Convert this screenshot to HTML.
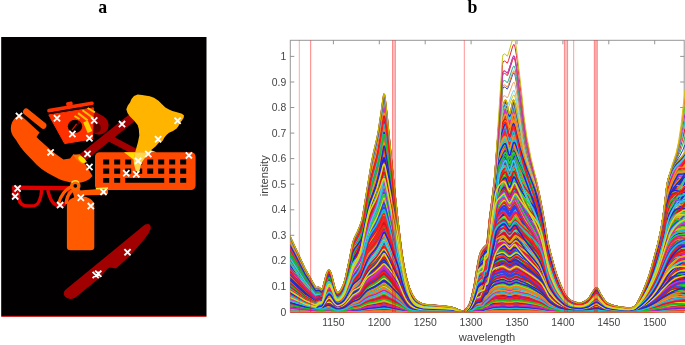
<!DOCTYPE html>
<html lang="en"><head><meta charset="utf-8"><title>Figure</title>
<style>
html,body{margin:0;padding:0;background:#fff;}
body{width:685px;height:345px;overflow:hidden;position:relative;}
svg{position:absolute;left:0;top:0;display:block;}
.tk{font-family:"Liberation Sans",Arial,sans-serif;font-size:10.4px;fill:#454545;}
.lb{font-family:"Liberation Sans",Arial,sans-serif;font-size:11.2px;fill:#404040;}
.pn{font-family:"Liberation Serif","Times New Roman",serif;font-weight:bold;font-size:17.8px;fill:#000;}
</style></head><body>
<svg width="685" height="345" viewBox="0 0 685 345">
<defs><clipPath id="axclip"><rect x="290.3" y="40.3" width="394.7" height="272.2"/></clipPath>
<clipPath id="pclip"><rect x="1.2" y="37" width="205.3" height="279"/></clipPath>
<path id="s0" d="M289,0L289,-78 305,-43.3 315.5,-24.6 316,-24.4 318.5,-24.8 319.5,-24.2 321,-22.8 321.5,-22.5 322,-22.6 322.5,-23.4 323,-24.9 326.5,-38.1 328,-41.3 328.5,-42 329,-42.2 329.5,-41.8 330,-41 331,-38.9 334.5,-25.4 335.5,-22.5 336.5,-20.3 337,-19.5 337.5,-19.2 338,-19.3 339.5,-20.4 341,-22.3 342,-24.1 343.5,-27.6 344.5,-30.5 345.5,-34.3 349.5,-52.7 352,-65.7 353,-70 354.5,-74.3 357.5,-80.4 360,-86.4 361.5,-90.7 362.5,-94.8 371.5,-149.4 373,-157 377,-174.2 378.5,-181.8 381.5,-201.9 383,-213.3 383.5,-216.4 384,-218.1 384.5,-217.7 385,-215 387,-197.5 392.5,-142.4 398,-90.5 401,-64.6 403,-50.9 405,-39.9 407,-31.6 409.5,-23.6 412,-17.9 413.5,-15.3 415,-13.1 416,-12 417.5,-10.8 419.5,-9.6 421.5,-8.5 424,-7.7 427,-7.3 445,-5.7 450.5,-5 454,-4 462,-0.7 463.5,-0.6 464.5,-1 466.5,-3 469,-6.7 470,-9 471.5,-14 474.5,-27 477.5,-45.8 479,-54.3 480,-58.5 481,-60.8 482,-62.4 484,-65.1 486.5,-67.4 487.5,-69 488,-71.8 489.5,-89.9 490.5,-99.5 494.5,-132.9 498.5,-183.5 499.5,-191.3 501,-199.3 504,-209.8 505,-211.8 505.5,-212.1 506,-211.8 506.5,-210.3 509,-198.9 509.5,-198.1 510,-198.5 511,-202.2 512.5,-209.8 513,-211.5 513.5,-212.1 514,-211.6 515,-208.2 516.5,-200.4 520,-184.4 523.5,-170.8 527,-159.1 535,-135.6 537,-128.4 539.5,-117.1 542,-104.2 544.5,-90.3 547.5,-71.6 550.5,-59 554.5,-44.3 557,-36.3 560.5,-27.4 563.5,-20.7 565,-17.8 566,-16.4 568.5,-13.6 570.5,-11.8 572,-10.9 575,-9.8 577.5,-9.2 580,-8.9 581.5,-9.1 584.5,-10.4 588.5,-13.2 589.5,-14.6 592,-18.9 594.5,-22.6 595.5,-23.8 596.5,-24.4 597,-24.3 598,-23.1 600.5,-18 604.5,-11.7 606,-9.9 607.5,-8.9 609.5,-7.9 612,-6.9 618,-5.4 626,-4.2 629.5,-4 631.5,-4.2 634.5,-5.2 635.5,-6.1 637,-8.4 641,-16.3 644,-23 647,-30.7 649.5,-38.1 652,-46.5 657.5,-67 661,-82.8 662.5,-91.9 664,-102.6 667,-127.7 668,-132.4 669.5,-137.4 672,-143.5 674.5,-147.6 676.5,-150.1 679.5,-152.8 681.5,-155 683.5,-157.5 685,-159.8L685,0Z"/>
<path id="l0" d="M289,-78 305,-43.3 315.5,-24.6 316,-24.4 318.5,-24.8 319.5,-24.2 321,-22.8 321.5,-22.5 322,-22.6 322.5,-23.4 323,-24.9 326.5,-38.1 328,-41.3 328.5,-42 329,-42.2 329.5,-41.8 330,-41 331,-38.9 334.5,-25.4 335.5,-22.5 336.5,-20.3 337,-19.5 337.5,-19.2 338,-19.3 339.5,-20.4 341,-22.3 342,-24.1 343.5,-27.6 344.5,-30.5 345.5,-34.3 349.5,-52.7 352,-65.7 353,-70 354.5,-74.3 357.5,-80.4 360,-86.4 361.5,-90.7 362.5,-94.8 371.5,-149.4 373,-157 377,-174.2 378.5,-181.8 381.5,-201.9 383,-213.3 383.5,-216.4 384,-218.1 384.5,-217.7 385,-215 387,-197.5 392.5,-142.4 398,-90.5 401,-64.6 403,-50.9 405,-39.9 407,-31.6 409.5,-23.6 412,-17.9 413.5,-15.3 415,-13.1 416,-12 417.5,-10.8 419.5,-9.6 421.5,-8.5 424,-7.7 427,-7.3 445,-5.7 450.5,-5 454,-4 462,-0.7 463.5,-0.6 464.5,-1 466.5,-3 469,-6.7 470,-9 471.5,-14 474.5,-27 477.5,-45.8 479,-54.3 480,-58.5 481,-60.8 482,-62.4 484,-65.1 486.5,-67.4 487.5,-69 488,-71.8 489.5,-89.9 490.5,-99.5 494.5,-132.9 498.5,-183.5 499.5,-191.3 501,-199.3 504,-209.8 505,-211.8 505.5,-212.1 506,-211.8 506.5,-210.3 509,-198.9 509.5,-198.1 510,-198.5 511,-202.2 512.5,-209.8 513,-211.5 513.5,-212.1 514,-211.6 515,-208.2 516.5,-200.4 520,-184.4 523.5,-170.8 527,-159.1 535,-135.6 537,-128.4 539.5,-117.1 542,-104.2 544.5,-90.3 547.5,-71.6 550.5,-59 554.5,-44.3 557,-36.3 560.5,-27.4 563.5,-20.7 565,-17.8 566,-16.4 568.5,-13.6 570.5,-11.8 572,-10.9 575,-9.8 577.5,-9.2 580,-8.9 581.5,-9.1 584.5,-10.4 588.5,-13.2 589.5,-14.6 592,-18.9 594.5,-22.6 595.5,-23.8 596.5,-24.4 597,-24.3 598,-23.1 600.5,-18 604.5,-11.7 606,-9.9 607.5,-8.9 609.5,-7.9 612,-6.9 618,-5.4 626,-4.2 629.5,-4 631.5,-4.2 634.5,-5.2 635.5,-6.1 637,-8.4 641,-16.3 644,-23 647,-30.7 649.5,-38.1 652,-46.5 657.5,-67 661,-82.8 662.5,-91.9 664,-102.6 667,-127.7 668,-132.4 669.5,-137.4 672,-143.5 674.5,-147.6 676.5,-150.1 679.5,-152.8 681.5,-155 683.5,-157.5 685,-159.8" fill="none" stroke-width="1.45" vector-effect="non-scaling-stroke"/>
<path id="s1" d="M289,0L289,-78 305,-43.3 315.5,-24.6 316,-24.4 318.5,-24.8 319.5,-24.2 321,-22.8 321.5,-22.5 322,-22.6 322.5,-23.4 323,-24.9 326.5,-38.1 328,-41.3 328.5,-42 329,-42.2 329.5,-41.8 330,-41 331,-38.9 334.5,-25.4 335.5,-22.5 336.5,-20.3 337,-19.5 337.5,-19.2 338,-19.3 339.5,-20.4 341,-22.3 342,-24.1 343.5,-27.6 344.5,-30.5 345.5,-34.3 349.5,-52.7 352,-65.7 353,-70 354.5,-74.3 357.5,-80.4 360,-86.4 361.5,-90.7 362.5,-94.8 371.5,-149.4 373,-157 377,-174.2 378.5,-181.8 381.5,-201.9 383,-213.3 383.5,-216.4 384,-218.1 384.5,-217.7 385,-215 387,-197.5 392.5,-142.4 398,-90.5 401,-64.6 403,-50.9 405,-39.9 407,-31.6 409.5,-23.6 412,-17.9 413.5,-15.3 415,-13.1 416,-12 417.5,-10.8 419.5,-9.6 421.5,-8.5 424,-7.7 427,-7.3 445,-5.7 450.5,-5 454,-4 462,-0.7 463.5,-0.6 464.5,-1 466.5,-3 469,-6.7 470,-9 471.5,-14 474.5,-27 477.5,-45.8 479,-54.3 480,-58.5 481,-60.8 482,-62.4 484,-65.1 486.5,-67.4 487.5,-69 488,-71.8 489.5,-89.9 490.5,-99.5 494.5,-132.9 498.5,-183.5 499.5,-191.3 501,-199.3 504,-209.8 505,-211.8 505.5,-212.1 506,-211.8 506.5,-210.3 509,-198.9 509.5,-198.1 510,-198.5 511,-202.2 512.5,-209.8 513,-211.5 513.5,-212.1 514,-211.6 515,-208.2 516.5,-200.4 520,-184.4 523.5,-170.8 527,-159.1 535,-135.6 537,-128.4 539.5,-117.1 542,-104.2 544.5,-90.3 547.5,-71.6 550.5,-59 554.5,-44.3 557,-36.3 560.5,-27.4 563.5,-20.7 565,-17.8 566,-16.4 568.5,-13.6 570.5,-11.8 572,-10.9 575,-9.8 577.5,-9.2 580,-8.9 581.5,-9.1 584.5,-10.4 588.5,-13.2 589.5,-14.6 592,-18.9 594.5,-22.6 595.5,-23.8 596.5,-24.4 597,-24.3 598,-23.1 600.5,-18 604.5,-11.7 606,-9.9 607.5,-8.9 609.5,-7.9 612,-6.9 618,-5.4 626,-4.2 629.5,-4 631.5,-4.2 634.5,-5.2 635.5,-6.1 637,-8.4 641,-16.3 644,-23 647,-30.7 649.5,-38.1 652,-46.5 657.5,-67 661,-82.8 662.5,-91.9 664,-102.6 667,-127.7 668,-132.4 669.5,-137.4 672,-143.5 674.5,-147.6 676.5,-150.1 679.5,-152.8 681.5,-155 683.5,-157.5 685,-159.8L685,0Z"/>
<path id="l1" d="M289,-78 305,-43.3 315.5,-24.6 316,-24.4 318.5,-24.8 319.5,-24.2 321,-22.8 321.5,-22.5 322,-22.6 322.5,-23.4 323,-24.9 326.5,-38.1 328,-41.3 328.5,-42 329,-42.2 329.5,-41.8 330,-41 331,-38.9 334.5,-25.4 335.5,-22.5 336.5,-20.3 337,-19.5 337.5,-19.2 338,-19.3 339.5,-20.4 341,-22.3 342,-24.1 343.5,-27.6 344.5,-30.5 345.5,-34.3 349.5,-52.7 352,-65.7 353,-70 354.5,-74.3 357.5,-80.4 360,-86.4 361.5,-90.7 362.5,-94.8 371.5,-149.4 373,-157 377,-174.2 378.5,-181.8 381.5,-201.9 383,-213.3 383.5,-216.4 384,-218.1 384.5,-217.7 385,-215 387,-197.5 392.5,-142.4 398,-90.5 401,-64.6 403,-50.9 405,-39.9 407,-31.6 409.5,-23.6 412,-17.9 413.5,-15.3 415,-13.1 416,-12 417.5,-10.8 419.5,-9.6 421.5,-8.5 424,-7.7 427,-7.3 445,-5.7 450.5,-5 454,-4 462,-0.7 463.5,-0.6 464.5,-1 466.5,-3 469,-6.7 470,-9 471.5,-14 474.5,-27 477.5,-45.8 479,-54.3 480,-58.5 481,-60.8 482,-62.4 484,-65.1 486.5,-67.4 487.5,-69 488,-71.8 489.5,-89.9 490.5,-99.5 494.5,-132.9 498.5,-183.5 499.5,-191.3 501,-199.3 504,-209.8 505,-211.8 505.5,-212.1 506,-211.8 506.5,-210.3 509,-198.9 509.5,-198.1 510,-198.5 511,-202.2 512.5,-209.8 513,-211.5 513.5,-212.1 514,-211.6 515,-208.2 516.5,-200.4 520,-184.4 523.5,-170.8 527,-159.1 535,-135.6 537,-128.4 539.5,-117.1 542,-104.2 544.5,-90.3 547.5,-71.6 550.5,-59 554.5,-44.3 557,-36.3 560.5,-27.4 563.5,-20.7 565,-17.8 566,-16.4 568.5,-13.6 570.5,-11.8 572,-10.9 575,-9.8 577.5,-9.2 580,-8.9 581.5,-9.1 584.5,-10.4 588.5,-13.2 589.5,-14.6 592,-18.9 594.5,-22.6 595.5,-23.8 596.5,-24.4 597,-24.3 598,-23.1 600.5,-18 604.5,-11.7 606,-9.9 607.5,-8.9 609.5,-7.9 612,-6.9 618,-5.4 626,-4.2 629.5,-4 631.5,-4.2 634.5,-5.2 635.5,-6.1 637,-8.4 641,-16.3 644,-23 647,-30.7 649.5,-38.1 652,-46.5 657.5,-67 661,-82.8 662.5,-91.9 664,-102.6 667,-127.7 668,-132.4 669.5,-137.4 672,-143.5 674.5,-147.6 676.5,-150.1 679.5,-152.8 681.5,-155 683.5,-157.5 685,-159.8" fill="none" stroke-width="1.45" vector-effect="non-scaling-stroke"/>
<path id="s2" d="M289,0L289,-78 305,-43.3 315.5,-24.6 316,-24.4 318.5,-24.8 319.5,-24.2 321,-22.8 321.5,-22.5 322,-22.6 322.5,-23.4 323,-24.9 326.5,-38.1 328,-41.3 328.5,-42 329,-42.2 329.5,-41.8 330,-41 331,-38.9 334.5,-25.4 335.5,-22.5 336.5,-20.3 337,-19.5 337.5,-19.2 338,-19.3 339.5,-20.4 341,-22.3 342,-24.1 343.5,-27.6 344.5,-30.5 345.5,-34.3 349.5,-52.7 352,-65.7 353,-70 354.5,-74.3 357.5,-80.4 360,-86.4 361.5,-90.7 362.5,-94.8 371.5,-149.4 373,-157 377,-174.2 378.5,-181.8 381.5,-201.9 383,-213.3 383.5,-216.4 384,-218.1 384.5,-217.7 385,-215 387,-197.5 392.5,-142.4 398,-90.5 401,-64.6 403,-50.9 405,-39.9 407,-31.6 409.5,-23.6 412,-17.9 413.5,-15.3 415,-13.1 416,-12 417.5,-10.8 419.5,-9.6 421.5,-8.5 424,-7.7 427,-7.3 445,-5.7 450.5,-5 454,-4 462,-0.7 463.5,-0.6 464.5,-1 466.5,-3 469,-6.7 470,-9 471.5,-14 474.5,-27 477.5,-45.8 479,-54.3 480,-58.5 481,-60.8 482,-62.4 484,-65.1 486.5,-67.4 487.5,-69 488,-71.8 489.5,-89.9 490.5,-99.5 494.5,-132.9 498.5,-183.5 499.5,-191.3 501,-199.3 504,-209.8 505,-211.8 505.5,-212.1 506,-211.8 506.5,-210.3 509,-198.9 509.5,-198.1 510,-198.5 511,-202.2 512.5,-209.8 513,-211.5 513.5,-212.1 514,-211.6 515,-208.2 516.5,-200.4 520,-184.4 523.5,-170.8 527,-159.1 535,-135.6 537,-128.4 539.5,-117.1 542,-104.2 544.5,-90.3 547.5,-71.6 550.5,-59 554.5,-44.3 557,-36.3 560.5,-27.4 563.5,-20.7 565,-17.8 566,-16.4 568.5,-13.6 570.5,-11.8 572,-10.9 575,-9.8 577.5,-9.2 580,-8.9 581.5,-9.1 584.5,-10.4 588.5,-13.2 589.5,-14.6 592,-18.9 594.5,-22.6 595.5,-23.8 596.5,-24.4 597,-24.3 598,-23.1 600.5,-18 604.5,-11.7 606,-9.9 607.5,-8.9 609.5,-7.9 612,-6.9 618,-5.4 626,-4.2 629.5,-4 631.5,-4.2 634.5,-5.2 635.5,-6.1 637,-8.4 641,-16.3 644,-23 647,-30.7 649.5,-38.1 652,-46.5 657.5,-67 661,-82.8 662.5,-91.9 664,-102.6 667,-127.7 668,-132.4 669.5,-137.4 672,-143.5 674.5,-147.6 676.5,-150.1 679.5,-152.8 681.5,-155 683.5,-157.5 685,-159.8L685,0Z"/>
<path id="l2" d="M289,-78 305,-43.3 315.5,-24.6 316,-24.4 318.5,-24.8 319.5,-24.2 321,-22.8 321.5,-22.5 322,-22.6 322.5,-23.4 323,-24.9 326.5,-38.1 328,-41.3 328.5,-42 329,-42.2 329.5,-41.8 330,-41 331,-38.9 334.5,-25.4 335.5,-22.5 336.5,-20.3 337,-19.5 337.5,-19.2 338,-19.3 339.5,-20.4 341,-22.3 342,-24.1 343.5,-27.6 344.5,-30.5 345.5,-34.3 349.5,-52.7 352,-65.7 353,-70 354.5,-74.3 357.5,-80.4 360,-86.4 361.5,-90.7 362.5,-94.8 371.5,-149.4 373,-157 377,-174.2 378.5,-181.8 381.5,-201.9 383,-213.3 383.5,-216.4 384,-218.1 384.5,-217.7 385,-215 387,-197.5 392.5,-142.4 398,-90.5 401,-64.6 403,-50.9 405,-39.9 407,-31.6 409.5,-23.6 412,-17.9 413.5,-15.3 415,-13.1 416,-12 417.5,-10.8 419.5,-9.6 421.5,-8.5 424,-7.7 427,-7.3 445,-5.7 450.5,-5 454,-4 462,-0.7 463.5,-0.6 464.5,-1 466.5,-3 469,-6.7 470,-9 471.5,-14 474.5,-27 477.5,-45.8 479,-54.3 480,-58.5 481,-60.8 482,-62.4 484,-65.1 486.5,-67.4 487.5,-69 488,-71.8 489.5,-89.9 490.5,-99.5 494.5,-132.9 498.5,-183.5 499.5,-191.3 501,-199.3 504,-209.8 505,-211.8 505.5,-212.1 506,-211.8 506.5,-210.3 509,-198.9 509.5,-198.1 510,-198.5 511,-202.2 512.5,-209.8 513,-211.5 513.5,-212.1 514,-211.6 515,-208.2 516.5,-200.4 520,-184.4 523.5,-170.8 527,-159.1 535,-135.6 537,-128.4 539.5,-117.1 542,-104.2 544.5,-90.3 547.5,-71.6 550.5,-59 554.5,-44.3 557,-36.3 560.5,-27.4 563.5,-20.7 565,-17.8 566,-16.4 568.5,-13.6 570.5,-11.8 572,-10.9 575,-9.8 577.5,-9.2 580,-8.9 581.5,-9.1 584.5,-10.4 588.5,-13.2 589.5,-14.6 592,-18.9 594.5,-22.6 595.5,-23.8 596.5,-24.4 597,-24.3 598,-23.1 600.5,-18 604.5,-11.7 606,-9.9 607.5,-8.9 609.5,-7.9 612,-6.9 618,-5.4 626,-4.2 629.5,-4 631.5,-4.2 634.5,-5.2 635.5,-6.1 637,-8.4 641,-16.3 644,-23 647,-30.7 649.5,-38.1 652,-46.5 657.5,-67 661,-82.8 662.5,-91.9 664,-102.6 667,-127.7 668,-132.4 669.5,-137.4 672,-143.5 674.5,-147.6 676.5,-150.1 679.5,-152.8 681.5,-155 683.5,-157.5 685,-159.8" fill="none" stroke-width="1.45" vector-effect="non-scaling-stroke"/>
<path id="s3" d="M289,0L289,-38.6 290,-36.5 305,-20.2 315.5,-12.2 316,-12.5 318.5,-15.3 319.5,-15.6 321,-15.6 321.5,-15.8 322,-16.2 323,-19.4 326.5,-35.3 328,-39.7 328.5,-40.6 329,-41.1 329.5,-41.1 330,-40.6 331,-38.4 335,-22.9 337,-18.8 337.5,-18.5 338,-18.6 339,-19.3 340.5,-20.9 341.5,-22.5 344,-28.4 345.5,-33.8 349,-50.1 352,-65.3 353,-69.4 354.5,-73.2 357.5,-78.6 360,-84 361,-86.7 362,-90.4 370.5,-138 372,-144.8 376,-159.6 378,-168.2 381.5,-189.1 383,-199.5 383.5,-202.2 384,-203.7 384.5,-203.5 385,-201.2 387,-186.5 400.5,-72 402.5,-56.7 404,-47.3 406.5,-34.6 409.5,-24.1 411,-20.1 413,-16.2 415,-13.1 416.5,-11.6 420,-9.3 423.5,-7.9 428,-7.2 445,-5.7 450.5,-5 454,-4 458.5,-2.2 461.5,-0.8 462.5,-0.5 464,-0.8 465.5,-1.9 467,-3.8 469,-6.9 470,-9.3 471,-12.7 474,-25.8 477,-44.9 479,-55.5 480,-57.8 481,-59.3 483,-61.3 485.5,-62.7 486.5,-64.1 487,-67.2 489,-87.4 491,-101.9 493.5,-117.9 497.5,-157.5 498.5,-163.9 499.5,-168.1 501,-172.6 503,-176.9 504,-178.6 505,-179.3 505.5,-179.2 506,-178.3 508.5,-168.8 509,-167.4 509.5,-166.8 510,-167.2 511,-170.2 513,-178.8 513.5,-180 514,-180.5 514.5,-180.1 515,-179.3 517.5,-171.7 521,-162.8 522.5,-159.5 525.5,-154.1 532,-144.1 535,-138.7 537,-129.9 539,-119.4 544.5,-86.3 547,-69.6 549,-59.8 553,-45.3 556.5,-34.4 560,-26 563.5,-18.9 565,-16.3 566,-14.9 568.5,-12.4 570.5,-10.8 572,-10 575,-9 577.5,-8.5 580,-8.3 581.5,-8.5 584.5,-9.7 588.5,-12.4 594.5,-21.3 595.5,-22.5 596.5,-23.1 597,-23 598,-21.9 600.5,-17.1 604.5,-11.2 606,-9.6 608,-8.4 610.5,-7.3 613,-6.5 623,-4.5 626.5,-4 630,-3.8 633,-4.4 635,-5.3 636.5,-7.1 641,-15.4 643.5,-20.5 646,-26.4 648.5,-33 651,-40.7 654.5,-52.5 658,-65.4 661,-78.6 662.5,-87.2 664,-97.5 667,-121.7 668,-126.3 669.5,-131.3 671.5,-136.5 674,-141.3 676,-144.3 679.5,-148.5 681.5,-151.3 683.5,-154.5 685,-157.3L685,0Z"/>
<path id="l3" d="M289,-38.6 290,-36.5 305,-20.2 315.5,-12.2 316,-12.5 318.5,-15.3 319.5,-15.6 321,-15.6 321.5,-15.8 322,-16.2 323,-19.4 326.5,-35.3 328,-39.7 328.5,-40.6 329,-41.1 329.5,-41.1 330,-40.6 331,-38.4 335,-22.9 337,-18.8 337.5,-18.5 338,-18.6 339,-19.3 340.5,-20.9 341.5,-22.5 344,-28.4 345.5,-33.8 349,-50.1 352,-65.3 353,-69.4 354.5,-73.2 357.5,-78.6 360,-84 361,-86.7 362,-90.4 370.5,-138 372,-144.8 376,-159.6 378,-168.2 381.5,-189.1 383,-199.5 383.5,-202.2 384,-203.7 384.5,-203.5 385,-201.2 387,-186.5 400.5,-72 402.5,-56.7 404,-47.3 406.5,-34.6 409.5,-24.1 411,-20.1 413,-16.2 415,-13.1 416.5,-11.6 420,-9.3 423.5,-7.9 428,-7.2 445,-5.7 450.5,-5 454,-4 458.5,-2.2 461.5,-0.8 462.5,-0.5 464,-0.8 465.5,-1.9 467,-3.8 469,-6.9 470,-9.3 471,-12.7 474,-25.8 477,-44.9 479,-55.5 480,-57.8 481,-59.3 483,-61.3 485.5,-62.7 486.5,-64.1 487,-67.2 489,-87.4 491,-101.9 493.5,-117.9 497.5,-157.5 498.5,-163.9 499.5,-168.1 501,-172.6 503,-176.9 504,-178.6 505,-179.3 505.5,-179.2 506,-178.3 508.5,-168.8 509,-167.4 509.5,-166.8 510,-167.2 511,-170.2 513,-178.8 513.5,-180 514,-180.5 514.5,-180.1 515,-179.3 517.5,-171.7 521,-162.8 522.5,-159.5 525.5,-154.1 532,-144.1 535,-138.7 537,-129.9 539,-119.4 544.5,-86.3 547,-69.6 549,-59.8 553,-45.3 556.5,-34.4 560,-26 563.5,-18.9 565,-16.3 566,-14.9 568.5,-12.4 570.5,-10.8 572,-10 575,-9 577.5,-8.5 580,-8.3 581.5,-8.5 584.5,-9.7 588.5,-12.4 594.5,-21.3 595.5,-22.5 596.5,-23.1 597,-23 598,-21.9 600.5,-17.1 604.5,-11.2 606,-9.6 608,-8.4 610.5,-7.3 613,-6.5 623,-4.5 626.5,-4 630,-3.8 633,-4.4 635,-5.3 636.5,-7.1 641,-15.4 643.5,-20.5 646,-26.4 648.5,-33 651,-40.7 654.5,-52.5 658,-65.4 661,-78.6 662.5,-87.2 664,-97.5 667,-121.7 668,-126.3 669.5,-131.3 671.5,-136.5 674,-141.3 676,-144.3 679.5,-148.5 681.5,-151.3 683.5,-154.5 685,-157.3" fill="none" stroke-width="1.45" vector-effect="non-scaling-stroke"/>
<path id="s4" d="M289,0L289,-33.8 290,-31.7 305,-17.2 315.5,-10.5 316,-10.9 318.5,-13.8 319.5,-14.3 321,-14.4 322,-15.1 323,-18.3 326.5,-34.1 328,-38.4 328.5,-39.4 329,-39.9 329.5,-39.9 330,-39.4 331.5,-35.9 334.5,-24.4 335,-20.7 336.5,-17.7 337,-17 337.5,-16.8 338.5,-17.2 340.5,-19 342,-21.4 344,-26 346,-33 349.5,-48.8 353,-66.4 354.5,-71.2 357,-77.5 359,-83.3 360.5,-88.2 361.5,-92.3 370.5,-142.6 372.5,-151.1 376,-163.7 378,-172.5 381.5,-193.4 383,-203.8 383.5,-206.4 384,-207.9 384.5,-207.5 385,-205.1 387,-190.1 401,-69.5 403,-54.5 405.5,-39.7 407,-32.9 409,-25.7 411,-20.1 413,-16.1 415,-13 416.5,-11.5 420,-9.2 423.5,-7.8 428,-7.1 445,-5.6 450.5,-4.9 453.5,-4.1 458.5,-2.2 461.5,-0.8 463,-0.5 464,-0.7 465.5,-1.9 467,-3.7 469,-6.8 470,-9.3 471,-12.7 473.5,-23.9 474.5,-29.6 477,-46.8 478.5,-55.5 479,-57.5 480,-59.6 481.5,-61.6 483,-63.1 485,-64.1 485.5,-64.6 486,-65.3 486.5,-67.2 488,-83.3 489,-91.9 493.5,-123.2 497,-158.9 498,-166.5 499,-171.1 500.5,-176 503,-181.5 504,-183.1 504.5,-183.6 505,-183.8 505.5,-183.5 506,-182.5 508.5,-172.8 509,-171.5 509.5,-170.9 510,-171.3 510.5,-172.5 513,-183.1 513.5,-184.5 514,-185.1 514.5,-185 515.5,-183 517.5,-177 522,-166.3 525,-161 530.5,-152.8 537.5,-122.2 541,-102.9 547.5,-63 549,-56.3 551,-49 554,-39.3 556.5,-32.3 559.5,-25.5 563.5,-18 565.5,-14.9 567.5,-12.9 570.5,-10.5 573,-9.4 577,-8.5 580,-8.3 582.5,-8.9 585,-10.2 588.5,-12.8 594.5,-22.2 595.5,-23.4 596.5,-24 597,-23.9 598,-22.8 600.5,-17.9 605,-11 606.5,-9.5 609.5,-7.8 612.5,-6.7 615.5,-5.9 622,-4.6 627,-4 630,-3.9 631.5,-4.1 634.5,-5 635.5,-5.9 637,-8.1 641,-15.7 645,-24.6 648.5,-34.1 652.5,-47.5 659,-72.6 661,-81.2 662.5,-89.4 664.5,-102.2 666.5,-118 667.5,-122.9 668.5,-125.8 669.5,-127.9 671,-130.2 672.5,-131.6 674,-132.3 675,-132.5 676.5,-132.5 681.5,-131 683.5,-130.6 685,-130.6L685,0Z"/>
<path id="l4" d="M289,-33.8 290,-31.7 305,-17.2 315.5,-10.5 316,-10.9 318.5,-13.8 319.5,-14.3 321,-14.4 322,-15.1 323,-18.3 326.5,-34.1 328,-38.4 328.5,-39.4 329,-39.9 329.5,-39.9 330,-39.4 331.5,-35.9 334.5,-24.4 335,-20.7 336.5,-17.7 337,-17 337.5,-16.8 338.5,-17.2 340.5,-19 342,-21.4 344,-26 346,-33 349.5,-48.8 353,-66.4 354.5,-71.2 357,-77.5 359,-83.3 360.5,-88.2 361.5,-92.3 370.5,-142.6 372.5,-151.1 376,-163.7 378,-172.5 381.5,-193.4 383,-203.8 383.5,-206.4 384,-207.9 384.5,-207.5 385,-205.1 387,-190.1 401,-69.5 403,-54.5 405.5,-39.7 407,-32.9 409,-25.7 411,-20.1 413,-16.1 415,-13 416.5,-11.5 420,-9.2 423.5,-7.8 428,-7.1 445,-5.6 450.5,-4.9 453.5,-4.1 458.5,-2.2 461.5,-0.8 463,-0.5 464,-0.7 465.5,-1.9 467,-3.7 469,-6.8 470,-9.3 471,-12.7 473.5,-23.9 474.5,-29.6 477,-46.8 478.5,-55.5 479,-57.5 480,-59.6 481.5,-61.6 483,-63.1 485,-64.1 485.5,-64.6 486,-65.3 486.5,-67.2 488,-83.3 489,-91.9 493.5,-123.2 497,-158.9 498,-166.5 499,-171.1 500.5,-176 503,-181.5 504,-183.1 504.5,-183.6 505,-183.8 505.5,-183.5 506,-182.5 508.5,-172.8 509,-171.5 509.5,-170.9 510,-171.3 510.5,-172.5 513,-183.1 513.5,-184.5 514,-185.1 514.5,-185 515.5,-183 517.5,-177 522,-166.3 525,-161 530.5,-152.8 537.5,-122.2 541,-102.9 547.5,-63 549,-56.3 551,-49 554,-39.3 556.5,-32.3 559.5,-25.5 563.5,-18 565.5,-14.9 567.5,-12.9 570.5,-10.5 573,-9.4 577,-8.5 580,-8.3 582.5,-8.9 585,-10.2 588.5,-12.8 594.5,-22.2 595.5,-23.4 596.5,-24 597,-23.9 598,-22.8 600.5,-17.9 605,-11 606.5,-9.5 609.5,-7.8 612.5,-6.7 615.5,-5.9 622,-4.6 627,-4 630,-3.9 631.5,-4.1 634.5,-5 635.5,-5.9 637,-8.1 641,-15.7 645,-24.6 648.5,-34.1 652.5,-47.5 659,-72.6 661,-81.2 662.5,-89.4 664.5,-102.2 666.5,-118 667.5,-122.9 668.5,-125.8 669.5,-127.9 671,-130.2 672.5,-131.6 674,-132.3 675,-132.5 676.5,-132.5 681.5,-131 683.5,-130.6 685,-130.6" fill="none" stroke-width="1.45" vector-effect="non-scaling-stroke"/>
<path id="s5" d="M289,0L289,-58.4 290,-56.1 296,-45.6 305,-30.8 310,-24.3 315.5,-17.6 316,-17.7 318.5,-19.1 319.5,-19 321,-18.3 321.5,-18.2 322,-18.4 323,-21 326.5,-34.7 328,-38.2 328.5,-39 329,-39.3 329.5,-39.1 330,-38.5 331.5,-35 334.5,-23.8 335,-18.9 336,-17 337,-15.6 337.5,-15.4 338,-15.5 339.5,-16.6 341,-18.3 342,-19.9 343.5,-23.1 345,-27.4 346.5,-33.3 349,-44.5 353,-64.7 354.5,-69.8 357.5,-78.2 360.5,-88.2 362,-92.5 370.5,-135.1 372.5,-143.2 376,-155 378,-163.4 381.5,-184.2 383.5,-197.6 384,-199.3 384.5,-199.1 385,-196.9 387.5,-178.7 398.5,-86.7 402,-59.1 404,-46.8 406,-36.6 408.5,-27.1 410.5,-21.1 413,-15.9 415.5,-12.2 416.5,-11.2 418.5,-9.8 422,-8 424,-7.4 427.5,-6.9 445,-5.4 450.5,-4.7 454,-3.7 462,-0.6 463.5,-0.5 464.5,-1 466.5,-2.9 469,-6.4 470,-8.7 471.5,-13.7 474.5,-27.1 478.5,-52.5 479.5,-57.1 481,-60.7 483.5,-65 484.5,-66.2 486,-67.1 486.5,-67.7 487,-69.1 489.5,-94.6 494,-127.8 498,-170.7 499,-176.8 500,-181.2 501,-184.5 503.5,-190.4 504.5,-192 505,-192.3 505.5,-192.3 506,-191.4 506.5,-189.8 508,-183.2 509,-179.7 509.5,-179 510,-179.4 511,-182.7 513,-191.9 513.5,-193.1 514,-193.4 514.5,-192.8 515,-191.7 517,-184.7 521.5,-171.6 524,-166.1 528,-158.2 536,-125.6 537.5,-118.8 541.5,-97.5 547,-64.9 548.5,-57.9 550,-52.3 554,-39.3 556.5,-32.3 560,-24.7 564.5,-16.5 565.5,-15.2 567.5,-13.2 569.5,-11.5 571.5,-10.3 573.5,-9.7 577,-8.9 579,-8.8 581,-8.9 584.5,-10.3 588.5,-12.9 589.5,-14.1 592,-18.2 594.5,-21.6 595.5,-22.7 596.5,-23.2 597,-23.1 598,-22 600.5,-17.2 604,-12 605.5,-10.2 607,-9 613,-6.4 620,-4.7 624,-3.9 627.5,-3.5 630.5,-3.4 632.5,-3.7 634.5,-4.3 636,-5.6 637.5,-7.6 641,-13.3 643.5,-17.7 646,-22.8 648,-27.4 650.5,-33.9 654,-44.1 657,-53.7 659.5,-62.8 661,-69.1 662.5,-77 664,-86.3 667,-108.6 668.5,-114.8 670.5,-120.9 672.5,-125.8 675.5,-131.7 681,-141.2 683,-145.4 685,-150.2L685,0Z"/>
<path id="l5" d="M289,-58.4 290,-56.1 296,-45.6 305,-30.8 310,-24.3 315.5,-17.6 316,-17.7 318.5,-19.1 319.5,-19 321,-18.3 321.5,-18.2 322,-18.4 323,-21 326.5,-34.7 328,-38.2 328.5,-39 329,-39.3 329.5,-39.1 330,-38.5 331.5,-35 334.5,-23.8 335,-18.9 336,-17 337,-15.6 337.5,-15.4 338,-15.5 339.5,-16.6 341,-18.3 342,-19.9 343.5,-23.1 345,-27.4 346.5,-33.3 349,-44.5 353,-64.7 354.5,-69.8 357.5,-78.2 360.5,-88.2 362,-92.5 370.5,-135.1 372.5,-143.2 376,-155 378,-163.4 381.5,-184.2 383.5,-197.6 384,-199.3 384.5,-199.1 385,-196.9 387.5,-178.7 398.5,-86.7 402,-59.1 404,-46.8 406,-36.6 408.5,-27.1 410.5,-21.1 413,-15.9 415.5,-12.2 416.5,-11.2 418.5,-9.8 422,-8 424,-7.4 427.5,-6.9 445,-5.4 450.5,-4.7 454,-3.7 462,-0.6 463.5,-0.5 464.5,-1 466.5,-2.9 469,-6.4 470,-8.7 471.5,-13.7 474.5,-27.1 478.5,-52.5 479.5,-57.1 481,-60.7 483.5,-65 484.5,-66.2 486,-67.1 486.5,-67.7 487,-69.1 489.5,-94.6 494,-127.8 498,-170.7 499,-176.8 500,-181.2 501,-184.5 503.5,-190.4 504.5,-192 505,-192.3 505.5,-192.3 506,-191.4 506.5,-189.8 508,-183.2 509,-179.7 509.5,-179 510,-179.4 511,-182.7 513,-191.9 513.5,-193.1 514,-193.4 514.5,-192.8 515,-191.7 517,-184.7 521.5,-171.6 524,-166.1 528,-158.2 536,-125.6 537.5,-118.8 541.5,-97.5 547,-64.9 548.5,-57.9 550,-52.3 554,-39.3 556.5,-32.3 560,-24.7 564.5,-16.5 565.5,-15.2 567.5,-13.2 569.5,-11.5 571.5,-10.3 573.5,-9.7 577,-8.9 579,-8.8 581,-8.9 584.5,-10.3 588.5,-12.9 589.5,-14.1 592,-18.2 594.5,-21.6 595.5,-22.7 596.5,-23.2 597,-23.1 598,-22 600.5,-17.2 604,-12 605.5,-10.2 607,-9 613,-6.4 620,-4.7 624,-3.9 627.5,-3.5 630.5,-3.4 632.5,-3.7 634.5,-4.3 636,-5.6 637.5,-7.6 641,-13.3 643.5,-17.7 646,-22.8 648,-27.4 650.5,-33.9 654,-44.1 657,-53.7 659.5,-62.8 661,-69.1 662.5,-77 664,-86.3 667,-108.6 668.5,-114.8 670.5,-120.9 672.5,-125.8 675.5,-131.7 681,-141.2 683,-145.4 685,-150.2" fill="none" stroke-width="1.45" vector-effect="non-scaling-stroke"/>
<path id="s6" d="M289,0L289,-43.5 290,-41.6 305,-24.1 315.5,-14.5 316,-14.7 318.5,-17.1 319.5,-17.2 321,-16.9 321.5,-17 322,-17.4 323,-20.5 326.5,-35.9 328,-40 328.5,-40.9 329,-41.4 329.5,-41.2 330,-40.7 331,-38.5 335,-23.1 336.5,-19.7 337,-19 337.5,-18.7 338,-18.8 339.5,-20 341,-21.8 342,-23.7 343.5,-27.2 345,-32 349.5,-52.5 352,-64.9 353,-68.9 354.5,-72.7 357.5,-78 360,-83.2 361,-85.7 362,-89 363,-93.8 371,-138.1 372.5,-144.8 376.5,-159.8 378,-166.5 381.5,-187.7 383,-198.5 383.5,-201.3 384,-203 384.5,-202.8 385,-200.5 387,-185.6 392,-141.6 401,-65.9 402.5,-55.1 405,-40.8 406.5,-34.1 409,-25.5 411,-20 413,-16.1 415,-13 416.5,-11.4 420,-9.1 423.5,-7.7 427,-7.2 436,-6.5 450.5,-4.8 454,-3.8 461.5,-0.8 463,-0.5 464.5,-1 466,-2.3 468,-4.9 469.5,-7.5 471.5,-13.7 474,-24.3 477.5,-46 479.5,-56.6 480.5,-59.1 481.5,-61 483.5,-64.1 486,-67 487,-69 487.5,-72.5 489.5,-95.3 494,-130.3 497.5,-171 498.5,-180.1 499.5,-185.7 501,-191.5 503.5,-197.9 504.5,-199.4 505,-199.8 505.5,-199.6 506,-198.7 508.5,-187.2 509,-185.4 509.5,-184.5 510,-184.6 510.5,-185.6 513,-194.9 513.5,-195.5 514,-195 514.5,-193.8 520.5,-166.3 523.5,-154.7 527.5,-141.3 535.5,-118 537.5,-111 539.5,-102.6 542,-90.7 544.5,-78.1 547.5,-61.3 550,-51.8 555,-36 557,-30.7 559,-26.1 564.5,-15.8 566,-13.8 568,-11.8 570,-10.3 572,-9.1 576,-8 579.5,-7.5 582,-7.8 584.5,-8.7 588.5,-11.1 594.5,-19 595.5,-20 596.5,-20.4 597,-20.3 598,-19.3 600.5,-15.1 605,-9.4 606.5,-8.1 609.5,-6.8 612.5,-5.9 615.5,-5.3 622.5,-4.3 627.5,-3.9 630,-3.9 632,-4.3 634.5,-5.2 635.5,-6 637,-8.2 642,-17.7 647,-28.9 651,-39.8 657,-58.6 660,-69.3 661.5,-75.7 664.5,-92.8 666.5,-107.4 667.5,-112.2 668.5,-115.1 669.5,-117.3 671,-119.8 672.5,-121.7 674,-122.9 676.5,-124.3 679.5,-124.9 682,-125.8 684,-126.7 685,-127.4L685,0Z"/>
<path id="l6" d="M289,-43.5 290,-41.6 305,-24.1 315.5,-14.5 316,-14.7 318.5,-17.1 319.5,-17.2 321,-16.9 321.5,-17 322,-17.4 323,-20.5 326.5,-35.9 328,-40 328.5,-40.9 329,-41.4 329.5,-41.2 330,-40.7 331,-38.5 335,-23.1 336.5,-19.7 337,-19 337.5,-18.7 338,-18.8 339.5,-20 341,-21.8 342,-23.7 343.5,-27.2 345,-32 349.5,-52.5 352,-64.9 353,-68.9 354.5,-72.7 357.5,-78 360,-83.2 361,-85.7 362,-89 363,-93.8 371,-138.1 372.5,-144.8 376.5,-159.8 378,-166.5 381.5,-187.7 383,-198.5 383.5,-201.3 384,-203 384.5,-202.8 385,-200.5 387,-185.6 392,-141.6 401,-65.9 402.5,-55.1 405,-40.8 406.5,-34.1 409,-25.5 411,-20 413,-16.1 415,-13 416.5,-11.4 420,-9.1 423.5,-7.7 427,-7.2 436,-6.5 450.5,-4.8 454,-3.8 461.5,-0.8 463,-0.5 464.5,-1 466,-2.3 468,-4.9 469.5,-7.5 471.5,-13.7 474,-24.3 477.5,-46 479.5,-56.6 480.5,-59.1 481.5,-61 483.5,-64.1 486,-67 487,-69 487.5,-72.5 489.5,-95.3 494,-130.3 497.5,-171 498.5,-180.1 499.5,-185.7 501,-191.5 503.5,-197.9 504.5,-199.4 505,-199.8 505.5,-199.6 506,-198.7 508.5,-187.2 509,-185.4 509.5,-184.5 510,-184.6 510.5,-185.6 513,-194.9 513.5,-195.5 514,-195 514.5,-193.8 520.5,-166.3 523.5,-154.7 527.5,-141.3 535.5,-118 537.5,-111 539.5,-102.6 542,-90.7 544.5,-78.1 547.5,-61.3 550,-51.8 555,-36 557,-30.7 559,-26.1 564.5,-15.8 566,-13.8 568,-11.8 570,-10.3 572,-9.1 576,-8 579.5,-7.5 582,-7.8 584.5,-8.7 588.5,-11.1 594.5,-19 595.5,-20 596.5,-20.4 597,-20.3 598,-19.3 600.5,-15.1 605,-9.4 606.5,-8.1 609.5,-6.8 612.5,-5.9 615.5,-5.3 622.5,-4.3 627.5,-3.9 630,-3.9 632,-4.3 634.5,-5.2 635.5,-6 637,-8.2 642,-17.7 647,-28.9 651,-39.8 657,-58.6 660,-69.3 661.5,-75.7 664.5,-92.8 666.5,-107.4 667.5,-112.2 668.5,-115.1 669.5,-117.3 671,-119.8 672.5,-121.7 674,-122.9 676.5,-124.3 679.5,-124.9 682,-125.8 684,-126.7 685,-127.4" fill="none" stroke-width="1.45" vector-effect="non-scaling-stroke"/>
<path id="s7" d="M289,0L289,-75.5 294.5,-64.3 305,-41.8 315.5,-23.6 316,-23.5 318.5,-24 319.5,-23.5 321,-22.2 321.5,-21.9 322,-22 322.5,-22.8 323,-24.3 326.5,-37.4 328,-40.7 328.5,-41.4 329,-41.5 329.5,-41.2 330,-40.4 331,-38.3 335,-22.7 336.5,-19.4 337,-18.7 337.5,-18.4 338.5,-18.8 340,-20.3 341,-21.6 342,-23.5 343.5,-27.2 344.5,-30.2 349.5,-51.5 352,-63 353,-66.6 354.5,-69.9 357.5,-73.9 360.5,-78.7 361.5,-80.8 362.5,-83.7 371.5,-125.1 373,-130.8 376.5,-142.3 378,-148.3 379.5,-156.1 383.5,-181 384,-182.7 384.5,-182.7 385,-180.7 387.5,-163.5 398,-81 401.5,-55.5 403.5,-44.2 405.5,-35 408,-26.5 410,-21.2 411,-19 413,-15.5 415.5,-12.2 416.5,-11.3 418.5,-9.9 422,-8.2 424,-7.6 427,-7.2 444.5,-5.7 450.5,-4.9 454,-3.9 462,-0.7 463.5,-0.6 464.5,-1 466.5,-3 469,-6.7 470,-8.9 471.5,-13.8 474.5,-26.7 477.5,-45.3 479,-53.6 480,-57.8 481,-60 482,-61.6 484,-64.1 486.5,-66.3 487.5,-67.9 488,-70.7 489.5,-88.4 490.5,-97.7 494.5,-130.4 498.5,-179.7 499.5,-187.2 501,-195 504,-205.1 505,-207 505.5,-207.4 506,-207 506.5,-205.6 509,-194.4 509.5,-193.6 510,-194 511,-197.7 512.5,-205.2 513,-206.8 513.5,-207.5 514,-207 515,-203.7 516.5,-196.3 520,-181.1 523.5,-168.2 527,-157.2 535,-135.1 537,-128.2 539,-119.5 541.5,-106.6 544.5,-89.8 547.5,-71 549.5,-62.2 552.5,-51 555.5,-40.4 558,-33.1 561,-25.8 563.5,-20.4 565,-17.5 566,-16.1 568.5,-13.3 570.5,-11.6 572,-10.7 577,-9.1 579,-8.8 581,-8.9 582.5,-9.2 584.5,-10.2 588.5,-12.9 589.5,-14.3 592,-18.5 594.5,-22 595.5,-23.2 596.5,-23.7 597,-23.6 598,-22.4 600.5,-17.4 604.5,-11.2 606,-9.5 607.5,-8.5 612,-6.5 618,-5 626,-3.8 629.5,-3.6 631.5,-3.7 634.5,-4.6 636,-5.9 637.5,-8.1 642.5,-17 645.5,-23.3 648,-29.4 650.5,-36.4 653.5,-46 658,-62.2 661,-75.5 662.5,-84.3 664,-94.7 667,-119.7 669,-128.6 671.5,-136.7 674.5,-144.2 678,-151.2 678.5,-151.7 682.5,-151.9 685,-152.5L685,0Z"/>
<path id="l7" d="M289,-75.5 294.5,-64.3 305,-41.8 315.5,-23.6 316,-23.5 318.5,-24 319.5,-23.5 321,-22.2 321.5,-21.9 322,-22 322.5,-22.8 323,-24.3 326.5,-37.4 328,-40.7 328.5,-41.4 329,-41.5 329.5,-41.2 330,-40.4 331,-38.3 335,-22.7 336.5,-19.4 337,-18.7 337.5,-18.4 338.5,-18.8 340,-20.3 341,-21.6 342,-23.5 343.5,-27.2 344.5,-30.2 349.5,-51.5 352,-63 353,-66.6 354.5,-69.9 357.5,-73.9 360.5,-78.7 361.5,-80.8 362.5,-83.7 371.5,-125.1 373,-130.8 376.5,-142.3 378,-148.3 379.5,-156.1 383.5,-181 384,-182.7 384.5,-182.7 385,-180.7 387.5,-163.5 398,-81 401.5,-55.5 403.5,-44.2 405.5,-35 408,-26.5 410,-21.2 411,-19 413,-15.5 415.5,-12.2 416.5,-11.3 418.5,-9.9 422,-8.2 424,-7.6 427,-7.2 444.5,-5.7 450.5,-4.9 454,-3.9 462,-0.7 463.5,-0.6 464.5,-1 466.5,-3 469,-6.7 470,-8.9 471.5,-13.8 474.5,-26.7 477.5,-45.3 479,-53.6 480,-57.8 481,-60 482,-61.6 484,-64.1 486.5,-66.3 487.5,-67.9 488,-70.7 489.5,-88.4 490.5,-97.7 494.5,-130.4 498.5,-179.7 499.5,-187.2 501,-195 504,-205.1 505,-207 505.5,-207.4 506,-207 506.5,-205.6 509,-194.4 509.5,-193.6 510,-194 511,-197.7 512.5,-205.2 513,-206.8 513.5,-207.5 514,-207 515,-203.7 516.5,-196.3 520,-181.1 523.5,-168.2 527,-157.2 535,-135.1 537,-128.2 539,-119.5 541.5,-106.6 544.5,-89.8 547.5,-71 549.5,-62.2 552.5,-51 555.5,-40.4 558,-33.1 561,-25.8 563.5,-20.4 565,-17.5 566,-16.1 568.5,-13.3 570.5,-11.6 572,-10.7 577,-9.1 579,-8.8 581,-8.9 582.5,-9.2 584.5,-10.2 588.5,-12.9 589.5,-14.3 592,-18.5 594.5,-22 595.5,-23.2 596.5,-23.7 597,-23.6 598,-22.4 600.5,-17.4 604.5,-11.2 606,-9.5 607.5,-8.5 612,-6.5 618,-5 626,-3.8 629.5,-3.6 631.5,-3.7 634.5,-4.6 636,-5.9 637.5,-8.1 642.5,-17 645.5,-23.3 648,-29.4 650.5,-36.4 653.5,-46 658,-62.2 661,-75.5 662.5,-84.3 664,-94.7 667,-119.7 669,-128.6 671.5,-136.7 674.5,-144.2 678,-151.2 678.5,-151.7 682.5,-151.9 685,-152.5" fill="none" stroke-width="1.45" vector-effect="non-scaling-stroke"/>
<path id="s8" d="M289,0L289,-34.7 290,-32.6 305,-17.8 315.5,-10.8 316,-11.2 318.5,-14.1 319.5,-14.5 321,-14.6 322,-15.3 323,-18.5 326.5,-34.3 328,-38.7 328.5,-39.7 329,-40.2 329.5,-40.2 330,-39.7 331.5,-36.2 334.5,-24.6 335,-21.2 336.5,-18.1 337,-17.4 337.5,-17.2 338.5,-17.5 340.5,-19.4 341.5,-20.9 343.5,-25 345,-29.4 349,-46.5 353,-66.1 354,-69.3 357,-77.1 359,-83.6 360,-87.6 361.5,-97.1 366.5,-136.4 368.5,-149.3 370.5,-157.3 375,-170.5 376.5,-175.5 381,-194.8 382.5,-202.1 383.5,-205.2 384,-205.5 384.5,-204.6 385,-202.2 387.5,-184.8 398.5,-100 404,-54.4 406,-40.5 407.5,-31.9 409,-25.4 410.5,-20.1 412,-16.3 414,-12.6 415.5,-10.6 417.5,-9 420.5,-7.5 423.5,-6.5 428.5,-6 445,-5.1 450.5,-4.6 454,-3.8 458.5,-2.1 461.5,-0.8 463,-0.5 464,-0.8 465.5,-2 467,-4.1 468.5,-6.6 469.5,-9.3 471,-15 474,-30.2 475,-36.7 477.5,-56.4 478,-58.1 479,-59.8 480.5,-61.6 482,-62.6 483,-64.2 483.5,-67.9 484.5,-80.5 486.5,-82.9 487.5,-85 488,-88.5 489.5,-110.7 491.5,-133.2 494,-157.5 495,-163.7 496.5,-169.2 498,-173 501,-178.1 502,-179.5 503,-180.4 504,-180.5 504.5,-180.2 505,-179.3 508,-170.2 509,-168.2 509.5,-167.8 510,-168 511,-170 513.5,-178.4 514.5,-180.9 515,-181.5 515.5,-181.5 516,-181.2 517,-179.5 519.5,-173.4 524.5,-162.9 532,-149 535.5,-141.8 539,-132.5 541,-124.1 543,-112.4 548,-72.6 549,-66.4 552,-52.8 554,-44.9 556,-37.9 558,-32.2 560,-27.3 563.5,-19.7 565.5,-16.1 568.5,-12.8 571,-10.8 573,-9.8 577,-8.7 580,-8.4 582,-8.6 584.5,-9.7 588,-11.8 589.5,-13.5 592,-17.5 594.5,-20.9 595.5,-22 596.5,-22.5 597,-22.3 598,-21.2 600.5,-16.5 605,-10.1 606.5,-8.7 610,-7 614,-5.7 619,-4.7 624.5,-3.9 629,-3.6 630.5,-3.7 632.5,-4.3 634.5,-5.4 635.5,-6.4 637.5,-9.4 640.5,-14.6 644,-21.8 648.5,-32.8 652.5,-44.5 655,-53.1 657.5,-62.7 660.5,-75.9 667,-106.7 669.5,-116.6 671.5,-123 674,-129 677,-134.2 679,-136.8 681,-139 683,-140.8 685,-142.4L685,0Z"/>
<path id="l8" d="M289,-34.7 290,-32.6 305,-17.8 315.5,-10.8 316,-11.2 318.5,-14.1 319.5,-14.5 321,-14.6 322,-15.3 323,-18.5 326.5,-34.3 328,-38.7 328.5,-39.7 329,-40.2 329.5,-40.2 330,-39.7 331.5,-36.2 334.5,-24.6 335,-21.2 336.5,-18.1 337,-17.4 337.5,-17.2 338.5,-17.5 340.5,-19.4 341.5,-20.9 343.5,-25 345,-29.4 349,-46.5 353,-66.1 354,-69.3 357,-77.1 359,-83.6 360,-87.6 361.5,-97.1 366.5,-136.4 368.5,-149.3 370.5,-157.3 375,-170.5 376.5,-175.5 381,-194.8 382.5,-202.1 383.5,-205.2 384,-205.5 384.5,-204.6 385,-202.2 387.5,-184.8 398.5,-100 404,-54.4 406,-40.5 407.5,-31.9 409,-25.4 410.5,-20.1 412,-16.3 414,-12.6 415.5,-10.6 417.5,-9 420.5,-7.5 423.5,-6.5 428.5,-6 445,-5.1 450.5,-4.6 454,-3.8 458.5,-2.1 461.5,-0.8 463,-0.5 464,-0.8 465.5,-2 467,-4.1 468.5,-6.6 469.5,-9.3 471,-15 474,-30.2 475,-36.7 477.5,-56.4 478,-58.1 479,-59.8 480.5,-61.6 482,-62.6 483,-64.2 483.5,-67.9 484.5,-80.5 486.5,-82.9 487.5,-85 488,-88.5 489.5,-110.7 491.5,-133.2 494,-157.5 495,-163.7 496.5,-169.2 498,-173 501,-178.1 502,-179.5 503,-180.4 504,-180.5 504.5,-180.2 505,-179.3 508,-170.2 509,-168.2 509.5,-167.8 510,-168 511,-170 513.5,-178.4 514.5,-180.9 515,-181.5 515.5,-181.5 516,-181.2 517,-179.5 519.5,-173.4 524.5,-162.9 532,-149 535.5,-141.8 539,-132.5 541,-124.1 543,-112.4 548,-72.6 549,-66.4 552,-52.8 554,-44.9 556,-37.9 558,-32.2 560,-27.3 563.5,-19.7 565.5,-16.1 568.5,-12.8 571,-10.8 573,-9.8 577,-8.7 580,-8.4 582,-8.6 584.5,-9.7 588,-11.8 589.5,-13.5 592,-17.5 594.5,-20.9 595.5,-22 596.5,-22.5 597,-22.3 598,-21.2 600.5,-16.5 605,-10.1 606.5,-8.7 610,-7 614,-5.7 619,-4.7 624.5,-3.9 629,-3.6 630.5,-3.7 632.5,-4.3 634.5,-5.4 635.5,-6.4 637.5,-9.4 640.5,-14.6 644,-21.8 648.5,-32.8 652.5,-44.5 655,-53.1 657.5,-62.7 660.5,-75.9 667,-106.7 669.5,-116.6 671.5,-123 674,-129 677,-134.2 679,-136.8 681,-139 683,-140.8 685,-142.4" fill="none" stroke-width="1.45" vector-effect="non-scaling-stroke"/>
<path id="s9" d="M289,0L289,-77.2 305,-44.1 315.5,-25.3 316,-25.1 318.5,-25.4 319.5,-24.7 321,-23.2 321.5,-22.9 322,-22.9 322.5,-23.7 323,-25.2 326.5,-38 328,-41.1 328.5,-41.8 329,-41.9 329.5,-41.5 330,-40.7 331,-38.6 335,-23.2 336.5,-19.8 337,-19 337.5,-18.7 338,-18.8 339,-19.5 340.5,-21 342.5,-24.6 344.5,-29.8 347,-40.2 353,-69.1 354.5,-73.5 357.5,-80.6 359.5,-86.5 360.5,-90.2 362,-98.9 367.5,-138 369.5,-149.9 371.5,-158.7 375.5,-172.8 377,-178.8 381,-199.3 383,-210.6 383.5,-212.3 384,-213 384.5,-212.2 385,-209.7 387,-194.6 403,-59.1 404.5,-48.2 406.5,-36 408,-29.1 409.5,-23.4 411,-19 413,-14.8 415,-11.7 416.5,-10.2 420,-8.1 423,-7 428,-6.2 445,-4.9 450.5,-4.3 453.5,-3.6 458.5,-1.9 461.5,-0.7 463,-0.4 464.5,-0.9 466,-2.2 468.5,-5.6 469.5,-7.6 471.5,-14.6 473.5,-24.2 477.5,-51 478,-52.9 479,-55.5 481.5,-59.9 483.5,-62.5 484,-63.6 484.5,-65.8 486,-82.3 487,-83.8 487.5,-85 488,-88.5 490,-116.8 494,-157.8 495.5,-177.9 496.5,-186.3 498,-195 499.5,-201.4 502.5,-207.5 503.5,-208.7 504,-209 504.5,-209 505,-208.6 505.5,-207.5 508.5,-196 509,-194.8 509.5,-194.3 510,-194.6 510.5,-195.6 513,-205.2 514,-208 514.5,-208.4 515,-208.1 516,-205.9 518.5,-196.4 523,-180.9 526,-171.8 531,-157.6 534.5,-146.3 538.5,-131.8 540,-124.5 542,-112.7 545.5,-89.1 547.5,-73.8 548.5,-67.8 551,-56.5 555,-41.4 557,-35.2 559,-29.9 562.5,-22 564.5,-17.9 566,-15.6 568.5,-12.9 570.5,-11.2 572.5,-10.1 576.5,-8.9 579.5,-8.4 582,-8.7 584.5,-9.8 588.5,-12.4 594.5,-21.1 595.5,-22.3 596.5,-22.8 597,-22.7 598,-21.6 600.5,-16.8 605,-10.3 606.5,-9 609.5,-7.4 612.5,-6.4 616,-5.6 623,-4.4 628,-4 630,-4 631.5,-4.3 633.5,-5.3 635,-6.5 636.5,-8.7 638,-11.3 641,-17.1 643,-21.4 647.5,-32.6 651.5,-44.3 654.5,-54.3 657.5,-65.7 667,-107.9 669,-115.1 671,-120.8 672.5,-124.1 674,-126.6 675.5,-128.4 677,-129.8 679,-131 681,-131.7 683,-132.1 685,-132.1L685,0Z"/>
<path id="l9" d="M289,-77.2 305,-44.1 315.5,-25.3 316,-25.1 318.5,-25.4 319.5,-24.7 321,-23.2 321.5,-22.9 322,-22.9 322.5,-23.7 323,-25.2 326.5,-38 328,-41.1 328.5,-41.8 329,-41.9 329.5,-41.5 330,-40.7 331,-38.6 335,-23.2 336.5,-19.8 337,-19 337.5,-18.7 338,-18.8 339,-19.5 340.5,-21 342.5,-24.6 344.5,-29.8 347,-40.2 353,-69.1 354.5,-73.5 357.5,-80.6 359.5,-86.5 360.5,-90.2 362,-98.9 367.5,-138 369.5,-149.9 371.5,-158.7 375.5,-172.8 377,-178.8 381,-199.3 383,-210.6 383.5,-212.3 384,-213 384.5,-212.2 385,-209.7 387,-194.6 403,-59.1 404.5,-48.2 406.5,-36 408,-29.1 409.5,-23.4 411,-19 413,-14.8 415,-11.7 416.5,-10.2 420,-8.1 423,-7 428,-6.2 445,-4.9 450.5,-4.3 453.5,-3.6 458.5,-1.9 461.5,-0.7 463,-0.4 464.5,-0.9 466,-2.2 468.5,-5.6 469.5,-7.6 471.5,-14.6 473.5,-24.2 477.5,-51 478,-52.9 479,-55.5 481.5,-59.9 483.5,-62.5 484,-63.6 484.5,-65.8 486,-82.3 487,-83.8 487.5,-85 488,-88.5 490,-116.8 494,-157.8 495.5,-177.9 496.5,-186.3 498,-195 499.5,-201.4 502.5,-207.5 503.5,-208.7 504,-209 504.5,-209 505,-208.6 505.5,-207.5 508.5,-196 509,-194.8 509.5,-194.3 510,-194.6 510.5,-195.6 513,-205.2 514,-208 514.5,-208.4 515,-208.1 516,-205.9 518.5,-196.4 523,-180.9 526,-171.8 531,-157.6 534.5,-146.3 538.5,-131.8 540,-124.5 542,-112.7 545.5,-89.1 547.5,-73.8 548.5,-67.8 551,-56.5 555,-41.4 557,-35.2 559,-29.9 562.5,-22 564.5,-17.9 566,-15.6 568.5,-12.9 570.5,-11.2 572.5,-10.1 576.5,-8.9 579.5,-8.4 582,-8.7 584.5,-9.8 588.5,-12.4 594.5,-21.1 595.5,-22.3 596.5,-22.8 597,-22.7 598,-21.6 600.5,-16.8 605,-10.3 606.5,-9 609.5,-7.4 612.5,-6.4 616,-5.6 623,-4.4 628,-4 630,-4 631.5,-4.3 633.5,-5.3 635,-6.5 636.5,-8.7 638,-11.3 641,-17.1 643,-21.4 647.5,-32.6 651.5,-44.3 654.5,-54.3 657.5,-65.7 667,-107.9 669,-115.1 671,-120.8 672.5,-124.1 674,-126.6 675.5,-128.4 677,-129.8 679,-131 681,-131.7 683,-132.1 685,-132.1" fill="none" stroke-width="1.45" vector-effect="non-scaling-stroke"/>
<path id="s10" d="M289,0L289,-23 290,-20.9 294.5,-18.2 305,-11.3 315.5,-7.4 318.5,-11.5 319.5,-12.2 321,-12.7 322,-13.7 323,-17.2 326.5,-33.9 327.5,-37.2 328.5,-39.7 329,-40.4 329.5,-40.4 330,-40 331.5,-36.4 334.5,-24.8 335,-21.8 337,-17.9 337.5,-17.6 338,-17.7 339,-18.4 340.5,-19.9 342,-22.3 344,-26.8 345.5,-31.9 349.5,-49.5 353,-66.5 354,-69.6 356.5,-75.6 358,-79.8 359.5,-84.5 360.5,-88.7 361.5,-94.7 366.5,-131.3 369,-146.7 371,-156 375,-170.8 377,-179 381,-199.9 383,-211.3 383.5,-213.1 384,-213.9 384.5,-213.2 385,-211.1 388,-190.2 398,-110.5 401,-79.6 402.5,-66.5 404.5,-52.2 407.5,-34.7 409,-27.9 410.5,-22.3 412,-18.2 414,-14.2 415.5,-12.1 417.5,-10.3 421,-8.3 424,-7.3 428,-6.8 445,-5.4 450.5,-4.8 453.5,-4 458.5,-2.1 461.5,-0.8 463,-0.5 464.5,-1.1 466,-2.5 467.5,-4.7 469,-7.5 470,-10.7 471,-14.9 474,-30.2 478,-59.8 479,-61.8 480.5,-63.9 482.5,-65.5 483.5,-67.2 485,-81.3 486.5,-82.9 487.5,-85 488,-88.5 489.5,-110.7 491,-127.9 494.5,-163.6 495.5,-171.5 497,-177.5 498.5,-181.6 501.5,-187 503,-188.7 504,-189 504.5,-188.8 505,-188 506,-185.1 508,-177.9 509,-175.4 509.5,-174.9 510,-175 511,-176.9 513,-183.3 514,-185.8 514.5,-186.3 515,-186.3 516,-184.8 524,-158.7 535,-128.1 539,-115.6 540.5,-109.1 542.5,-98.5 548.5,-60.7 551,-50.4 555.5,-35.5 557.5,-30.2 559.5,-25.8 563.5,-18.1 565.5,-14.9 568,-12.4 570.5,-10.5 572.5,-9.5 575.5,-8.7 578.5,-8.2 581,-8.3 583.5,-9.1 586.5,-10.8 588,-11.9 589,-12.9 592,-17.7 594.5,-21.2 595.5,-22.4 596.5,-22.9 597,-22.8 598,-21.7 600.5,-16.9 605,-10.4 606.5,-9 610,-7.2 614,-6 619,-5 624.5,-4.1 629,-3.8 630.5,-3.9 632.5,-4.5 634.5,-5.8 635.5,-6.8 637.5,-10 640.5,-15.5 644,-23.2 648.5,-34.9 652.5,-47.4 655.5,-58.3 658.5,-71 667.5,-114.9 669.5,-123 671.5,-129.5 674,-135.5 675.5,-138.3 677,-140.5 679,-143 681,-144.9 683,-146.5 685,-147.6L685,0Z"/>
<path id="l10" d="M289,-23 290,-20.9 294.5,-18.2 305,-11.3 315.5,-7.4 318.5,-11.5 319.5,-12.2 321,-12.7 322,-13.7 323,-17.2 326.5,-33.9 327.5,-37.2 328.5,-39.7 329,-40.4 329.5,-40.4 330,-40 331.5,-36.4 334.5,-24.8 335,-21.8 337,-17.9 337.5,-17.6 338,-17.7 339,-18.4 340.5,-19.9 342,-22.3 344,-26.8 345.5,-31.9 349.5,-49.5 353,-66.5 354,-69.6 356.5,-75.6 358,-79.8 359.5,-84.5 360.5,-88.7 361.5,-94.7 366.5,-131.3 369,-146.7 371,-156 375,-170.8 377,-179 381,-199.9 383,-211.3 383.5,-213.1 384,-213.9 384.5,-213.2 385,-211.1 388,-190.2 398,-110.5 401,-79.6 402.5,-66.5 404.5,-52.2 407.5,-34.7 409,-27.9 410.5,-22.3 412,-18.2 414,-14.2 415.5,-12.1 417.5,-10.3 421,-8.3 424,-7.3 428,-6.8 445,-5.4 450.5,-4.8 453.5,-4 458.5,-2.1 461.5,-0.8 463,-0.5 464.5,-1.1 466,-2.5 467.5,-4.7 469,-7.5 470,-10.7 471,-14.9 474,-30.2 478,-59.8 479,-61.8 480.5,-63.9 482.5,-65.5 483.5,-67.2 485,-81.3 486.5,-82.9 487.5,-85 488,-88.5 489.5,-110.7 491,-127.9 494.5,-163.6 495.5,-171.5 497,-177.5 498.5,-181.6 501.5,-187 503,-188.7 504,-189 504.5,-188.8 505,-188 506,-185.1 508,-177.9 509,-175.4 509.5,-174.9 510,-175 511,-176.9 513,-183.3 514,-185.8 514.5,-186.3 515,-186.3 516,-184.8 524,-158.7 535,-128.1 539,-115.6 540.5,-109.1 542.5,-98.5 548.5,-60.7 551,-50.4 555.5,-35.5 557.5,-30.2 559.5,-25.8 563.5,-18.1 565.5,-14.9 568,-12.4 570.5,-10.5 572.5,-9.5 575.5,-8.7 578.5,-8.2 581,-8.3 583.5,-9.1 586.5,-10.8 588,-11.9 589,-12.9 592,-17.7 594.5,-21.2 595.5,-22.4 596.5,-22.9 597,-22.8 598,-21.7 600.5,-16.9 605,-10.4 606.5,-9 610,-7.2 614,-6 619,-5 624.5,-4.1 629,-3.8 630.5,-3.9 632.5,-4.5 634.5,-5.8 635.5,-6.8 637.5,-10 640.5,-15.5 644,-23.2 648.5,-34.9 652.5,-47.4 655.5,-58.3 658.5,-71 667.5,-114.9 669.5,-123 671.5,-129.5 674,-135.5 675.5,-138.3 677,-140.5 679,-143 681,-144.9 683,-146.5 685,-147.6" fill="none" stroke-width="1.45" vector-effect="non-scaling-stroke"/>
<path id="s11" d="M289,0L289,-34.4 290,-32.3 305,-18 315.5,-11.1 316,-11.4 318.5,-14.4 319.5,-14.9 321,-15 322,-15.7 323,-19 326.5,-35.3 328,-39.8 328.5,-40.8 329,-41.4 329.5,-41.4 330,-40.9 331,-38.7 334.5,-25.4 335.5,-22.5 337,-19.4 337.5,-19 338.5,-19.3 340,-20.6 341,-21.7 342,-23.4 343.5,-26.6 345,-30.8 349.5,-48.9 352,-60 353,-63.5 354.5,-66.7 357,-70.4 359,-74.2 360,-76.5 361,-79.6 366.5,-108.3 368.5,-117.6 370.5,-125.1 375,-137.4 377,-143.8 381,-161.8 383,-172.3 383.5,-174.2 384,-175.2 384.5,-174.9 385,-173.3 388.5,-153.7 397.5,-95.8 403,-55.9 405,-43.2 406.5,-35 408,-28.6 410,-21.7 411.5,-17.9 414,-13.4 416,-11 419,-9 422.5,-7.6 424.5,-7.1 427.5,-6.8 448,-5.3 451,-4.8 453,-4.3 462,-0.6 463.5,-0.6 465,-1.4 467,-3.8 469,-7.2 470,-10.1 471,-14 473.5,-26.6 477,-52.1 478,-56.9 479,-59.3 480,-61.1 481.5,-63.2 483.5,-65.3 484,-66.2 484.5,-68.4 485.5,-80.2 486,-82.3 487,-83.8 487.5,-85 488,-88.5 489.5,-110.7 490.5,-122.4 491.5,-131.2 495,-169.1 496,-178 497.5,-186.2 499.5,-193.6 502.5,-201.1 503.5,-202.8 504,-203.3 504.5,-203.5 505,-203.2 505.5,-202.2 508.5,-191.4 509,-190.2 509.5,-189.7 510,-189.8 510.5,-190.7 513,-199.7 514,-202.2 514.5,-202.5 515,-202.1 516,-199.6 518.5,-189.7 524,-169.6 528,-156.9 534.5,-137.4 538.5,-124 540.5,-114.7 542.5,-103.2 545.5,-84.2 548,-66.8 549.5,-59.6 551,-53.6 554.5,-41.1 557,-33.7 560.5,-25.5 563.5,-19.4 565,-16.8 566,-15.5 568.5,-12.9 570.5,-11.3 572,-10.5 575,-9.6 577.5,-9.1 579.5,-8.9 581.5,-9.1 584.5,-10.3 588.5,-13 589.5,-14.3 592,-18.4 594.5,-21.9 595.5,-23.1 596.5,-23.6 597,-23.5 598,-22.3 600.5,-17.4 604.5,-11.3 606,-9.6 607.5,-8.6 612,-6.7 617.5,-5.3 625.5,-4.1 629.5,-3.9 631,-4.1 633,-4.9 635,-6.3 636.5,-8.4 638,-11 641,-16.8 643.5,-22.3 646.5,-30 649,-37.2 652.5,-48.9 655.5,-60.7 664.5,-103.9 667,-115 669,-122.4 671,-128.1 672.5,-131.3 674,-133.6 675.5,-135.3 677,-136.3 679,-137.2 681,-137.5 683,-137.3 685,-136.8L685,0Z"/>
<path id="l11" d="M289,-34.4 290,-32.3 305,-18 315.5,-11.1 316,-11.4 318.5,-14.4 319.5,-14.9 321,-15 322,-15.7 323,-19 326.5,-35.3 328,-39.8 328.5,-40.8 329,-41.4 329.5,-41.4 330,-40.9 331,-38.7 334.5,-25.4 335.5,-22.5 337,-19.4 337.5,-19 338.5,-19.3 340,-20.6 341,-21.7 342,-23.4 343.5,-26.6 345,-30.8 349.5,-48.9 352,-60 353,-63.5 354.5,-66.7 357,-70.4 359,-74.2 360,-76.5 361,-79.6 366.5,-108.3 368.5,-117.6 370.5,-125.1 375,-137.4 377,-143.8 381,-161.8 383,-172.3 383.5,-174.2 384,-175.2 384.5,-174.9 385,-173.3 388.5,-153.7 397.5,-95.8 403,-55.9 405,-43.2 406.5,-35 408,-28.6 410,-21.7 411.5,-17.9 414,-13.4 416,-11 419,-9 422.5,-7.6 424.5,-7.1 427.5,-6.8 448,-5.3 451,-4.8 453,-4.3 462,-0.6 463.5,-0.6 465,-1.4 467,-3.8 469,-7.2 470,-10.1 471,-14 473.5,-26.6 477,-52.1 478,-56.9 479,-59.3 480,-61.1 481.5,-63.2 483.5,-65.3 484,-66.2 484.5,-68.4 485.5,-80.2 486,-82.3 487,-83.8 487.5,-85 488,-88.5 489.5,-110.7 490.5,-122.4 491.5,-131.2 495,-169.1 496,-178 497.5,-186.2 499.5,-193.6 502.5,-201.1 503.5,-202.8 504,-203.3 504.5,-203.5 505,-203.2 505.5,-202.2 508.5,-191.4 509,-190.2 509.5,-189.7 510,-189.8 510.5,-190.7 513,-199.7 514,-202.2 514.5,-202.5 515,-202.1 516,-199.6 518.5,-189.7 524,-169.6 528,-156.9 534.5,-137.4 538.5,-124 540.5,-114.7 542.5,-103.2 545.5,-84.2 548,-66.8 549.5,-59.6 551,-53.6 554.5,-41.1 557,-33.7 560.5,-25.5 563.5,-19.4 565,-16.8 566,-15.5 568.5,-12.9 570.5,-11.3 572,-10.5 575,-9.6 577.5,-9.1 579.5,-8.9 581.5,-9.1 584.5,-10.3 588.5,-13 589.5,-14.3 592,-18.4 594.5,-21.9 595.5,-23.1 596.5,-23.6 597,-23.5 598,-22.3 600.5,-17.4 604.5,-11.3 606,-9.6 607.5,-8.6 612,-6.7 617.5,-5.3 625.5,-4.1 629.5,-3.9 631,-4.1 633,-4.9 635,-6.3 636.5,-8.4 638,-11 641,-16.8 643.5,-22.3 646.5,-30 649,-37.2 652.5,-48.9 655.5,-60.7 664.5,-103.9 667,-115 669,-122.4 671,-128.1 672.5,-131.3 674,-133.6 675.5,-135.3 677,-136.3 679,-137.2 681,-137.5 683,-137.3 685,-136.8" fill="none" stroke-width="1.45" vector-effect="non-scaling-stroke"/>
<path id="s12" d="M289,0L289,-24.3 290,-22.3 305,-12.4 315.5,-8.1 318.5,-12.1 319.5,-12.8 321,-13.3 322,-14.2 323,-17.7 326.5,-34.7 327.5,-38 328.5,-40.6 329,-41.2 329.5,-41.3 330,-40.8 331,-38.7 335,-23.4 337,-19.1 337.5,-18.8 338.5,-19.2 340.5,-21 341.5,-22.5 344,-27.9 345.5,-32.9 349.5,-49.7 352,-61.4 353,-65.1 354,-67.7 357,-73.1 358.5,-76.4 359.5,-78.9 360.5,-82.3 366,-114.6 368.5,-127.2 370.5,-134.7 375,-147.5 377,-154.4 381,-173.3 383,-184.4 383.5,-186.3 384,-187.4 384.5,-187.3 385,-185.9 388,-170.8 397,-114.9 399,-100.5 402,-70.6 405,-49.1 406,-43.6 409.5,-27.1 411,-21.6 412.5,-17.7 414.5,-13.8 416.5,-11.3 419.5,-9.2 423,-7.7 428,-6.9 445,-5.5 450.5,-4.8 454,-3.9 462.5,-0.5 463.5,-0.6 465,-1.5 466.5,-3.2 468.5,-6.4 469.5,-9 470.5,-12.7 472.5,-22.1 474.5,-33.2 478,-59.7 479,-61.8 480.5,-64.4 482,-66.1 483,-67.7 483.5,-69.5 484.5,-80.8 486.5,-82.9 487.5,-85 488,-88.5 489.5,-110.7 490.5,-122.4 494.5,-163.6 496,-187.2 496.5,-191.2 498,-196.7 500.5,-202.9 502.5,-206.8 503.5,-207.7 504,-207.9 504.5,-207.6 505.5,-205.5 508,-195.9 509,-193.2 509.5,-192.6 510,-192.7 511,-194.6 513,-201.3 514,-203.8 514.5,-204.4 515,-204.4 515.5,-203.7 516.5,-201.1 519,-191.1 524.5,-170.9 535,-137.1 539,-123.1 540.5,-116 542.5,-104.5 546,-81.4 548,-66.7 549.5,-59.1 551,-53 554.5,-40.4 557,-33 560,-25.9 564.5,-17 565.5,-15.5 567.5,-13.3 569.5,-11.5 571.5,-10.2 573.5,-9.4 577,-8.5 579,-8.3 581,-8.4 582.5,-8.8 584.5,-9.7 588.5,-12.4 589.5,-13.7 592,-17.8 595,-22 596,-23 596.5,-23.1 597,-23 598,-22 600.5,-17.2 604,-12 605.5,-10.1 607,-9 609.5,-7.8 613,-6.5 619.5,-4.9 627,-3.8 630,-3.7 631.5,-4 633.5,-4.8 635,-5.9 636.5,-7.8 639,-11.9 641.5,-16.4 643.5,-20.6 646.5,-27.6 649,-34.1 653.5,-48.1 657.5,-63.5 660.5,-77.4 667.5,-113.3 670,-124.2 672,-131.5 674,-137.6 676,-142.6 678.5,-148.1 682,-154.7 682.5,-155.1 685,-154.6L685,0Z"/>
<path id="l12" d="M289,-24.3 290,-22.3 305,-12.4 315.5,-8.1 318.5,-12.1 319.5,-12.8 321,-13.3 322,-14.2 323,-17.7 326.5,-34.7 327.5,-38 328.5,-40.6 329,-41.2 329.5,-41.3 330,-40.8 331,-38.7 335,-23.4 337,-19.1 337.5,-18.8 338.5,-19.2 340.5,-21 341.5,-22.5 344,-27.9 345.5,-32.9 349.5,-49.7 352,-61.4 353,-65.1 354,-67.7 357,-73.1 358.5,-76.4 359.5,-78.9 360.5,-82.3 366,-114.6 368.5,-127.2 370.5,-134.7 375,-147.5 377,-154.4 381,-173.3 383,-184.4 383.5,-186.3 384,-187.4 384.5,-187.3 385,-185.9 388,-170.8 397,-114.9 399,-100.5 402,-70.6 405,-49.1 406,-43.6 409.5,-27.1 411,-21.6 412.5,-17.7 414.5,-13.8 416.5,-11.3 419.5,-9.2 423,-7.7 428,-6.9 445,-5.5 450.5,-4.8 454,-3.9 462.5,-0.5 463.5,-0.6 465,-1.5 466.5,-3.2 468.5,-6.4 469.5,-9 470.5,-12.7 472.5,-22.1 474.5,-33.2 478,-59.7 479,-61.8 480.5,-64.4 482,-66.1 483,-67.7 483.5,-69.5 484.5,-80.8 486.5,-82.9 487.5,-85 488,-88.5 489.5,-110.7 490.5,-122.4 494.5,-163.6 496,-187.2 496.5,-191.2 498,-196.7 500.5,-202.9 502.5,-206.8 503.5,-207.7 504,-207.9 504.5,-207.6 505.5,-205.5 508,-195.9 509,-193.2 509.5,-192.6 510,-192.7 511,-194.6 513,-201.3 514,-203.8 514.5,-204.4 515,-204.4 515.5,-203.7 516.5,-201.1 519,-191.1 524.5,-170.9 535,-137.1 539,-123.1 540.5,-116 542.5,-104.5 546,-81.4 548,-66.7 549.5,-59.1 551,-53 554.5,-40.4 557,-33 560,-25.9 564.5,-17 565.5,-15.5 567.5,-13.3 569.5,-11.5 571.5,-10.2 573.5,-9.4 577,-8.5 579,-8.3 581,-8.4 582.5,-8.8 584.5,-9.7 588.5,-12.4 589.5,-13.7 592,-17.8 595,-22 596,-23 596.5,-23.1 597,-23 598,-22 600.5,-17.2 604,-12 605.5,-10.1 607,-9 609.5,-7.8 613,-6.5 619.5,-4.9 627,-3.8 630,-3.7 631.5,-4 633.5,-4.8 635,-5.9 636.5,-7.8 639,-11.9 641.5,-16.4 643.5,-20.6 646.5,-27.6 649,-34.1 653.5,-48.1 657.5,-63.5 660.5,-77.4 667.5,-113.3 670,-124.2 672,-131.5 674,-137.6 676,-142.6 678.5,-148.1 682,-154.7 682.5,-155.1 685,-154.6" fill="none" stroke-width="1.45" vector-effect="non-scaling-stroke"/>
<path id="s13" d="M289,0L289,-78.6 305,-43.5 315.5,-24.6 316,-24.4 318.5,-24.7 319.5,-24.2 321,-22.7 321.5,-22.5 322,-22.5 322.5,-23.3 323,-24.8 326.5,-37.7 328,-40.9 328.5,-41.6 329,-41.7 329.5,-41.3 330,-40.6 331.5,-36.9 335,-22.8 336.5,-19.5 337,-18.7 337.5,-18.4 338,-18.5 339,-19.1 340.5,-20.6 341.5,-22.1 343,-25.2 344,-27.6 345,-30.8 349.5,-50.2 352,-62.6 353,-66.7 354.5,-70.8 357,-76 359,-81 360,-83.9 361,-87.7 362,-93.2 367.5,-128.9 369.5,-140.1 371.5,-149 375.5,-163.3 377.5,-171.5 381,-191.4 383,-204.8 383.5,-207.2 384,-208.7 384.5,-208.6 385.5,-204 387.5,-191.5 392,-158 400,-84.3 403.5,-54.2 405.5,-40.8 407,-32.7 409,-24.6 411,-18.5 413.5,-13.5 415.5,-10.8 416.5,-9.9 418.5,-8.6 422,-7 424,-6.5 427.5,-6.2 445,-5.4 450.5,-4.9 454.5,-3.8 462,-0.6 463,-0.5 464,-0.7 465,-1.4 466,-2.4 468.5,-6.1 469.5,-8.3 470.5,-11.5 472,-17.9 473.5,-25.5 476,-43.3 478,-55.2 479,-57.6 480,-59.3 481.5,-61.4 483.5,-63.2 484.5,-64.7 485,-67.6 486,-79.5 486.5,-82.9 487.5,-85 488,-88.5 489.5,-109.2 491.5,-123.2 496,-169.1 497,-175.7 498.5,-182.4 500,-187.3 502,-192.3 503.5,-195.2 504.5,-196.1 505,-196 506,-193.8 508.5,-184.7 509,-183.5 509.5,-183 510,-183.3 511,-185.9 513.5,-195.7 514,-196.8 514.5,-197.2 515,-196.9 516,-194.8 518.5,-186.6 523.5,-172.3 527,-163.9 533,-150.5 533.5,-148.8 537.5,-133.4 539.5,-124 543,-102.7 547.5,-71.2 548.5,-65.5 550,-58.7 553.5,-45.5 556.5,-35.7 560,-27 564.5,-17.7 565.5,-16.2 567.5,-13.9 569.5,-12.1 571.5,-10.7 573.5,-9.9 577,-8.9 579,-8.7 581,-8.8 582.5,-9.2 584.5,-10.1 588.5,-13 594.5,-22.3 595.5,-23.5 596.5,-24.1 597,-24 598,-22.8 600.5,-17.8 604.5,-11.6 606,-9.9 607,-9.2 611,-7.2 615.5,-5.9 624.5,-4.3 628,-4 630.5,-4.1 632.5,-4.8 634.5,-6 636,-7.9 637.5,-10.4 640.5,-16.2 643,-21.8 646.5,-30.8 649,-38.1 653,-51.7 656.5,-65.3 659.5,-78.9 667,-116.2 669.5,-126.1 671.5,-132.2 674,-137.7 675.5,-140 677,-141.8 679,-143.6 681,-144.9 683,-145.7 685,-146.2L685,0Z"/>
<path id="l13" d="M289,-78.6 305,-43.5 315.5,-24.6 316,-24.4 318.5,-24.7 319.5,-24.2 321,-22.7 321.5,-22.5 322,-22.5 322.5,-23.3 323,-24.8 326.5,-37.7 328,-40.9 328.5,-41.6 329,-41.7 329.5,-41.3 330,-40.6 331.5,-36.9 335,-22.8 336.5,-19.5 337,-18.7 337.5,-18.4 338,-18.5 339,-19.1 340.5,-20.6 341.5,-22.1 343,-25.2 344,-27.6 345,-30.8 349.5,-50.2 352,-62.6 353,-66.7 354.5,-70.8 357,-76 359,-81 360,-83.9 361,-87.7 362,-93.2 367.5,-128.9 369.5,-140.1 371.5,-149 375.5,-163.3 377.5,-171.5 381,-191.4 383,-204.8 383.5,-207.2 384,-208.7 384.5,-208.6 385.5,-204 387.5,-191.5 392,-158 400,-84.3 403.5,-54.2 405.5,-40.8 407,-32.7 409,-24.6 411,-18.5 413.5,-13.5 415.5,-10.8 416.5,-9.9 418.5,-8.6 422,-7 424,-6.5 427.5,-6.2 445,-5.4 450.5,-4.9 454.5,-3.8 462,-0.6 463,-0.5 464,-0.7 465,-1.4 466,-2.4 468.5,-6.1 469.5,-8.3 470.5,-11.5 472,-17.9 473.5,-25.5 476,-43.3 478,-55.2 479,-57.6 480,-59.3 481.5,-61.4 483.5,-63.2 484.5,-64.7 485,-67.6 486,-79.5 486.5,-82.9 487.5,-85 488,-88.5 489.5,-109.2 491.5,-123.2 496,-169.1 497,-175.7 498.5,-182.4 500,-187.3 502,-192.3 503.5,-195.2 504.5,-196.1 505,-196 506,-193.8 508.5,-184.7 509,-183.5 509.5,-183 510,-183.3 511,-185.9 513.5,-195.7 514,-196.8 514.5,-197.2 515,-196.9 516,-194.8 518.5,-186.6 523.5,-172.3 527,-163.9 533,-150.5 533.5,-148.8 537.5,-133.4 539.5,-124 543,-102.7 547.5,-71.2 548.5,-65.5 550,-58.7 553.5,-45.5 556.5,-35.7 560,-27 564.5,-17.7 565.5,-16.2 567.5,-13.9 569.5,-12.1 571.5,-10.7 573.5,-9.9 577,-8.9 579,-8.7 581,-8.8 582.5,-9.2 584.5,-10.1 588.5,-13 594.5,-22.3 595.5,-23.5 596.5,-24.1 597,-24 598,-22.8 600.5,-17.8 604.5,-11.6 606,-9.9 607,-9.2 611,-7.2 615.5,-5.9 624.5,-4.3 628,-4 630.5,-4.1 632.5,-4.8 634.5,-6 636,-7.9 637.5,-10.4 640.5,-16.2 643,-21.8 646.5,-30.8 649,-38.1 653,-51.7 656.5,-65.3 659.5,-78.9 667,-116.2 669.5,-126.1 671.5,-132.2 674,-137.7 675.5,-140 677,-141.8 679,-143.6 681,-144.9 683,-145.7 685,-146.2" fill="none" stroke-width="1.45" vector-effect="non-scaling-stroke"/>
<path id="s14" d="M289,0L289,-59.9 290,-57.9 305,-33 315.5,-19.1 316,-19.2 318.5,-20.6 319.5,-20.4 321,-19.6 321.5,-19.5 322,-19.7 323,-22.4 326.5,-36.7 328,-40.4 328.5,-41.2 329,-41.5 329.5,-41.3 330,-40.6 331,-38.5 335,-23.3 336.5,-19.9 337,-19.1 337.5,-18.8 338,-19 339.5,-20.2 341,-22.1 342,-23.9 343.5,-27.5 345,-32.3 349.5,-52.2 352,-64.9 353,-69.1 354.5,-73.2 357,-78.5 359,-83.9 360,-87.3 361,-92.2 366,-126.8 368.5,-141.5 370.5,-150.1 374.5,-163.3 376.5,-170.7 381,-192.9 383,-203.9 383.5,-205.7 384,-206.5 384.5,-206 385,-204.1 388.5,-181.7 398,-111.3 401,-79.6 403,-62.7 405,-49.1 408,-33.2 409.5,-26.6 411,-21.3 412.5,-17.5 414.5,-13.7 416,-11.8 418.5,-9.9 421.5,-8.3 424,-7.5 428,-6.9 445,-5.5 450.5,-4.8 453.5,-4 458.5,-2.1 461.5,-0.8 463,-0.5 464.5,-1 466,-2.5 468,-5.5 469,-7.4 470,-10.6 471,-14.8 474,-30.2 475,-36.7 477.5,-56.4 478,-58.9 480,-62.7 482,-65.4 483,-67.2 483.5,-70 484.5,-80.8 486.5,-82.9 487.5,-85 488,-88.5 489.5,-110.7 490.5,-122.4 494.5,-163.6 496,-187.2 496.5,-192.7 497.5,-196.3 499,-200.5 502,-206.8 503,-208.1 503.5,-208.5 504,-208.6 504.5,-208.4 505,-207.5 506,-204.6 508,-197.2 509,-194.8 509.5,-194.4 510,-194.6 511,-196.8 513.5,-206.2 514.5,-208.7 515,-209.1 515.5,-208.9 516,-208.2 517,-205.8 519,-199 522,-190.2 525.5,-176.5 535.5,-140.9 539,-127.2 540.5,-119.6 542.5,-107.3 548.5,-64.6 550.5,-55.2 554,-41.9 556,-35.4 558,-30 560.5,-24.3 564,-17.3 565.5,-14.9 568,-12.3 570.5,-10.2 572.5,-9.2 576.5,-8 579.5,-7.6 582,-7.9 584.5,-8.8 588.5,-11.1 594.5,-18.9 595.5,-19.9 596.5,-20.4 597,-20.3 598,-19.3 600.5,-15.1 605,-9.4 606.5,-8.1 609.5,-6.8 612.5,-5.9 616,-5.3 623.5,-4.3 628.5,-3.9 630,-3.9 632,-4.5 634,-5.7 635,-6.6 636.5,-8.7 638.5,-12.3 641,-17.3 643,-21.7 647,-32.2 651,-44.6 654.5,-57.2 657.5,-69.6 667,-115.1 669,-122.8 671,-128.8 672.5,-132.2 674,-134.8 675.5,-136.6 677,-137.8 679,-138.8 681,-139.1 683,-139 685,-138.3L685,0Z"/>
<path id="l14" d="M289,-59.9 290,-57.9 305,-33 315.5,-19.1 316,-19.2 318.5,-20.6 319.5,-20.4 321,-19.6 321.5,-19.5 322,-19.7 323,-22.4 326.5,-36.7 328,-40.4 328.5,-41.2 329,-41.5 329.5,-41.3 330,-40.6 331,-38.5 335,-23.3 336.5,-19.9 337,-19.1 337.5,-18.8 338,-19 339.5,-20.2 341,-22.1 342,-23.9 343.5,-27.5 345,-32.3 349.5,-52.2 352,-64.9 353,-69.1 354.5,-73.2 357,-78.5 359,-83.9 360,-87.3 361,-92.2 366,-126.8 368.5,-141.5 370.5,-150.1 374.5,-163.3 376.5,-170.7 381,-192.9 383,-203.9 383.5,-205.7 384,-206.5 384.5,-206 385,-204.1 388.5,-181.7 398,-111.3 401,-79.6 403,-62.7 405,-49.1 408,-33.2 409.5,-26.6 411,-21.3 412.5,-17.5 414.5,-13.7 416,-11.8 418.5,-9.9 421.5,-8.3 424,-7.5 428,-6.9 445,-5.5 450.5,-4.8 453.5,-4 458.5,-2.1 461.5,-0.8 463,-0.5 464.5,-1 466,-2.5 468,-5.5 469,-7.4 470,-10.6 471,-14.8 474,-30.2 475,-36.7 477.5,-56.4 478,-58.9 480,-62.7 482,-65.4 483,-67.2 483.5,-70 484.5,-80.8 486.5,-82.9 487.5,-85 488,-88.5 489.5,-110.7 490.5,-122.4 494.5,-163.6 496,-187.2 496.5,-192.7 497.5,-196.3 499,-200.5 502,-206.8 503,-208.1 503.5,-208.5 504,-208.6 504.5,-208.4 505,-207.5 506,-204.6 508,-197.2 509,-194.8 509.5,-194.4 510,-194.6 511,-196.8 513.5,-206.2 514.5,-208.7 515,-209.1 515.5,-208.9 516,-208.2 517,-205.8 519,-199 522,-190.2 525.5,-176.5 535.5,-140.9 539,-127.2 540.5,-119.6 542.5,-107.3 548.5,-64.6 550.5,-55.2 554,-41.9 556,-35.4 558,-30 560.5,-24.3 564,-17.3 565.5,-14.9 568,-12.3 570.5,-10.2 572.5,-9.2 576.5,-8 579.5,-7.6 582,-7.9 584.5,-8.8 588.5,-11.1 594.5,-18.9 595.5,-19.9 596.5,-20.4 597,-20.3 598,-19.3 600.5,-15.1 605,-9.4 606.5,-8.1 609.5,-6.8 612.5,-5.9 616,-5.3 623.5,-4.3 628.5,-3.9 630,-3.9 632,-4.5 634,-5.7 635,-6.6 636.5,-8.7 638.5,-12.3 641,-17.3 643,-21.7 647,-32.2 651,-44.6 654.5,-57.2 657.5,-69.6 667,-115.1 669,-122.8 671,-128.8 672.5,-132.2 674,-134.8 675.5,-136.6 677,-137.8 679,-138.8 681,-139.1 683,-139 685,-138.3" fill="none" stroke-width="1.45" vector-effect="non-scaling-stroke"/>
<path id="s15" d="M289,0L289,-41.9 290,-39.9 305,-22.8 315.5,-13.5 316,-13.8 318.5,-16.2 319.5,-16.5 321,-16.3 321.5,-16.4 322,-16.9 323,-20 326.5,-35.5 328,-39.7 328.5,-40.6 329,-41.1 329.5,-41 330,-40.5 331,-38.3 335,-22.7 337,-18.6 337.5,-18.4 338,-18.5 339,-19.1 340.5,-20.7 341.5,-22.3 344,-28 345.5,-33.3 349.5,-51.6 353,-69.4 354.5,-74 359.5,-86.7 361,-92 367,-130.3 369.5,-144.2 371.5,-152.5 375.5,-165.7 377,-171.4 381,-191.4 383,-202.7 383.5,-204.6 384,-205.4 384.5,-204.8 385,-202.4 387.5,-184.4 403,-58.1 404.5,-47.7 406.5,-35.9 408,-29.2 410,-22 411.5,-18.1 413.5,-14.2 415.5,-11.4 417,-10.1 420.5,-8.1 423.5,-7.1 428,-6.4 445,-5.1 450.5,-4.4 453.5,-3.7 458.5,-2 461.5,-0.7 463,-0.5 464.5,-1 466,-2.3 468.5,-5.6 469.5,-7.7 471.5,-14.7 473.5,-24.1 477,-47.5 478,-52.6 479,-55.1 480,-56.9 481.5,-59.1 483.5,-61.3 484.5,-63.2 485,-66.7 486,-78.8 486.5,-82.9 487.5,-85 488,-88.5 489.5,-108.6 491.5,-123.3 495.5,-166.4 496.5,-174.9 498,-183.1 499.5,-189.1 502.5,-198 503.5,-200.2 504.5,-201.3 505,-201.3 505.5,-200.6 506.5,-197.7 508.5,-190.5 509,-189.5 509.5,-189 510,-189.3 511,-192 513.5,-201.8 514,-202.8 514.5,-203.2 515,-202.8 515.5,-201.8 523.5,-173.7 527.5,-161.7 534.5,-141.9 537,-134.2 538.5,-128.8 540,-121.8 542,-110.6 545.5,-88.1 547.5,-73.3 548.5,-67.6 551,-56.6 555.5,-40 557.5,-34.1 559.5,-28.9 563,-21.1 565,-17.2 566.5,-15.2 569,-12.6 571,-11 573,-10 577,-8.8 580,-8.4 582.5,-8.9 585,-10 588.5,-12.3 594.5,-21 595.5,-22.1 596.5,-22.6 597,-22.5 598,-21.4 600.5,-16.7 605,-10.2 606.5,-8.9 609.5,-7.4 612.5,-6.3 615.5,-5.6 622.5,-4.4 628,-3.9 630,-3.9 631.5,-4.2 633.5,-5.2 635,-6.4 636.5,-8.5 638,-11.1 641,-17 643,-21.4 647.5,-32.8 651.5,-44.8 654.5,-55.2 657.5,-67.1 667,-110.8 669,-118.3 671,-124.2 672.5,-127.6 674,-130.2 675.5,-132.1 677,-133.4 679,-134.7 681,-135.3 683,-135.6 685,-135.5L685,0Z"/>
<path id="l15" d="M289,-41.9 290,-39.9 305,-22.8 315.5,-13.5 316,-13.8 318.5,-16.2 319.5,-16.5 321,-16.3 321.5,-16.4 322,-16.9 323,-20 326.5,-35.5 328,-39.7 328.5,-40.6 329,-41.1 329.5,-41 330,-40.5 331,-38.3 335,-22.7 337,-18.6 337.5,-18.4 338,-18.5 339,-19.1 340.5,-20.7 341.5,-22.3 344,-28 345.5,-33.3 349.5,-51.6 353,-69.4 354.5,-74 359.5,-86.7 361,-92 367,-130.3 369.5,-144.2 371.5,-152.5 375.5,-165.7 377,-171.4 381,-191.4 383,-202.7 383.5,-204.6 384,-205.4 384.5,-204.8 385,-202.4 387.5,-184.4 403,-58.1 404.5,-47.7 406.5,-35.9 408,-29.2 410,-22 411.5,-18.1 413.5,-14.2 415.5,-11.4 417,-10.1 420.5,-8.1 423.5,-7.1 428,-6.4 445,-5.1 450.5,-4.4 453.5,-3.7 458.5,-2 461.5,-0.7 463,-0.5 464.5,-1 466,-2.3 468.5,-5.6 469.5,-7.7 471.5,-14.7 473.5,-24.1 477,-47.5 478,-52.6 479,-55.1 480,-56.9 481.5,-59.1 483.5,-61.3 484.5,-63.2 485,-66.7 486,-78.8 486.5,-82.9 487.5,-85 488,-88.5 489.5,-108.6 491.5,-123.3 495.5,-166.4 496.5,-174.9 498,-183.1 499.5,-189.1 502.5,-198 503.5,-200.2 504.5,-201.3 505,-201.3 505.5,-200.6 506.5,-197.7 508.5,-190.5 509,-189.5 509.5,-189 510,-189.3 511,-192 513.5,-201.8 514,-202.8 514.5,-203.2 515,-202.8 515.5,-201.8 523.5,-173.7 527.5,-161.7 534.5,-141.9 537,-134.2 538.5,-128.8 540,-121.8 542,-110.6 545.5,-88.1 547.5,-73.3 548.5,-67.6 551,-56.6 555.5,-40 557.5,-34.1 559.5,-28.9 563,-21.1 565,-17.2 566.5,-15.2 569,-12.6 571,-11 573,-10 577,-8.8 580,-8.4 582.5,-8.9 585,-10 588.5,-12.3 594.5,-21 595.5,-22.1 596.5,-22.6 597,-22.5 598,-21.4 600.5,-16.7 605,-10.2 606.5,-8.9 609.5,-7.4 612.5,-6.3 615.5,-5.6 622.5,-4.4 628,-3.9 630,-3.9 631.5,-4.2 633.5,-5.2 635,-6.4 636.5,-8.5 638,-11.1 641,-17 643,-21.4 647.5,-32.8 651.5,-44.8 654.5,-55.2 657.5,-67.1 667,-110.8 669,-118.3 671,-124.2 672.5,-127.6 674,-130.2 675.5,-132.1 677,-133.4 679,-134.7 681,-135.3 683,-135.6 685,-135.5" fill="none" stroke-width="1.45" vector-effect="non-scaling-stroke"/>
<path id="s16" d="M289,0L289,-129.6 290,-127.5 305,-73.3 313.5,-46.2 315.5,-40.4 316,-39.6 318.5,-36.8 321,-31.8 322,-30.3 322.5,-30.6 323,-31.5 326.5,-40.6 328,-42.3 328.5,-42.4 329,-42.2 330.5,-39.3 331.5,-36.7 334.5,-24.9 335,-22.2 337,-18.2 337.5,-17.9 338.5,-18.2 340.5,-20 341.5,-21.5 343,-24.5 344.5,-28.3 346,-33.7 349,-46.5 352,-61 353,-65 354,-67.9 357,-74.9 359,-81 360,-85.3 360.5,-88.4 365,-121.7 366.5,-131.3 368,-139 370,-146.6 374,-158.5 376,-165 380.5,-183.1 382.5,-192 383.5,-194.6 384,-194.9 384.5,-194.2 385,-192.4 388,-175.8 397.5,-113.8 400.5,-91.8 405.5,-49.4 407.5,-35.6 409.5,-25.6 411,-19.9 412,-17.1 414,-13 416,-10.4 419,-8.4 422,-7.1 424,-6.6 427.5,-6.2 443.5,-5.8 445.5,-5.5 451.5,-4.4 458.5,-1.9 461.5,-0.7 462.5,-0.5 463.5,-0.5 465,-1.4 467,-3.7 468.5,-6.1 469.5,-8.9 471,-15.2 472.5,-23.4 476,-50.8 476.5,-52.9 477.5,-55.7 479,-58.9 481,-62.1 481.5,-63.3 482,-66.8 484,-92.9 485.5,-107.4 487.5,-123.6 492,-175.4 493.5,-188.2 494,-190.5 495,-193.5 496.5,-196.6 497.5,-197.9 500,-200.5 501.5,-201.5 502.5,-201.5 503.5,-200.9 504.5,-198.9 508,-187 509,-184.9 509.5,-184.4 510,-184.4 511,-185.7 514,-193.5 515,-195.2 515.5,-195.6 516,-195.4 516.5,-194.9 518,-191.5 520.5,-183.2 526,-166.2 535.5,-137.5 540,-121.7 541.5,-114.6 543,-105.5 546.5,-80.8 548.5,-65.1 550.5,-55.1 553,-45.3 555.5,-36.8 558,-30 561,-23.4 565,-15.9 566,-14.6 568.5,-12.1 570.5,-10.6 572,-9.7 575,-8.8 577.5,-8.2 580,-8 581.5,-8.2 584.5,-9.4 588.5,-12 594.5,-20.6 595.5,-21.7 596.5,-22.2 597,-22.1 598,-21.1 600.5,-16.5 603.5,-12.2 605,-10.2 606.5,-8.9 610,-7.3 614,-6.1 624,-4.3 630,-3.8 631.5,-4.4 634.5,-6.2 635.5,-7.4 636.5,-9 642,-20.6 647.5,-34.1 651.5,-46 656.5,-63.3 659,-73.3 661.5,-85.3 667.5,-110.5 671,-123.9 674.5,-135.5 677,-142.7 678.5,-146.2 680,-147.4 681.5,-148.3 683,-148.7 685,-148.8L685,0Z"/>
<path id="l16" d="M289,-129.6 290,-127.5 305,-73.3 313.5,-46.2 315.5,-40.4 316,-39.6 318.5,-36.8 321,-31.8 322,-30.3 322.5,-30.6 323,-31.5 326.5,-40.6 328,-42.3 328.5,-42.4 329,-42.2 330.5,-39.3 331.5,-36.7 334.5,-24.9 335,-22.2 337,-18.2 337.5,-17.9 338.5,-18.2 340.5,-20 341.5,-21.5 343,-24.5 344.5,-28.3 346,-33.7 349,-46.5 352,-61 353,-65 354,-67.9 357,-74.9 359,-81 360,-85.3 360.5,-88.4 365,-121.7 366.5,-131.3 368,-139 370,-146.6 374,-158.5 376,-165 380.5,-183.1 382.5,-192 383.5,-194.6 384,-194.9 384.5,-194.2 385,-192.4 388,-175.8 397.5,-113.8 400.5,-91.8 405.5,-49.4 407.5,-35.6 409.5,-25.6 411,-19.9 412,-17.1 414,-13 416,-10.4 419,-8.4 422,-7.1 424,-6.6 427.5,-6.2 443.5,-5.8 445.5,-5.5 451.5,-4.4 458.5,-1.9 461.5,-0.7 462.5,-0.5 463.5,-0.5 465,-1.4 467,-3.7 468.5,-6.1 469.5,-8.9 471,-15.2 472.5,-23.4 476,-50.8 476.5,-52.9 477.5,-55.7 479,-58.9 481,-62.1 481.5,-63.3 482,-66.8 484,-92.9 485.5,-107.4 487.5,-123.6 492,-175.4 493.5,-188.2 494,-190.5 495,-193.5 496.5,-196.6 497.5,-197.9 500,-200.5 501.5,-201.5 502.5,-201.5 503.5,-200.9 504.5,-198.9 508,-187 509,-184.9 509.5,-184.4 510,-184.4 511,-185.7 514,-193.5 515,-195.2 515.5,-195.6 516,-195.4 516.5,-194.9 518,-191.5 520.5,-183.2 526,-166.2 535.5,-137.5 540,-121.7 541.5,-114.6 543,-105.5 546.5,-80.8 548.5,-65.1 550.5,-55.1 553,-45.3 555.5,-36.8 558,-30 561,-23.4 565,-15.9 566,-14.6 568.5,-12.1 570.5,-10.6 572,-9.7 575,-8.8 577.5,-8.2 580,-8 581.5,-8.2 584.5,-9.4 588.5,-12 594.5,-20.6 595.5,-21.7 596.5,-22.2 597,-22.1 598,-21.1 600.5,-16.5 603.5,-12.2 605,-10.2 606.5,-8.9 610,-7.3 614,-6.1 624,-4.3 630,-3.8 631.5,-4.4 634.5,-6.2 635.5,-7.4 636.5,-9 642,-20.6 647.5,-34.1 651.5,-46 656.5,-63.3 659,-73.3 661.5,-85.3 667.5,-110.5 671,-123.9 674.5,-135.5 677,-142.7 678.5,-146.2 680,-147.4 681.5,-148.3 683,-148.7 685,-148.8" fill="none" stroke-width="1.45" vector-effect="non-scaling-stroke"/>
<path id="s17" d="M289,0L289,-115.5 290,-114 293.5,-103.8 309.5,-54.6 315.5,-37.2 316,-36.5 318.5,-34.2 321,-29.7 322,-28.4 322.5,-28.8 323,-29.7 326.5,-39.2 328,-41.1 328.5,-41.3 329,-41.1 330.5,-38.4 331.5,-35.8 334.5,-24.4 335,-20.6 335.5,-19.5 336.5,-17.6 337,-16.9 337.5,-16.7 338.5,-17 340,-18.3 341,-19.6 342.5,-22.3 344,-25.7 345,-28.9 349,-46 353,-66.1 356.5,-76.7 359,-86.6 360,-93 365.5,-142.2 367.5,-152.8 369.5,-159.7 373.5,-170.3 375.5,-176.4 380,-193.4 382.5,-203.6 383.5,-205.8 384,-205.9 384.5,-205.1 385.5,-201 388.5,-184.2 392.5,-159.2 398.5,-119.1 401,-99.8 406,-52.9 408,-37.4 410,-26.4 411.5,-20.3 412.5,-17.4 414.5,-13.2 416,-11.1 418.5,-9.2 422,-7.5 424,-7 427,-6.6 445,-5.7 449,-5.1 451.5,-4.6 453.5,-4 461.5,-0.8 462.5,-0.5 463.5,-0.6 465,-1.5 467,-4.2 468.5,-7 469.5,-10.4 470.5,-15.1 472,-24.1 475.5,-54.7 476,-56.9 477,-59.8 478.5,-63 480,-65.3 480.5,-66.5 481,-69.5 482.5,-92 485,-117.5 485.5,-119 486.5,-120.6 487.5,-123.6 488,-128.7 490,-169.6 491.5,-182.1 492.5,-186.9 494,-191.9 496,-196.1 499.5,-201 501,-202.2 502,-202.5 503,-202.2 504,-200.6 507.5,-190.7 508.5,-188.6 509,-188 509.5,-187.7 510,-187.9 510.5,-188.4 511.5,-190.5 515,-201.2 516,-203.1 516.5,-203.4 517,-203.5 518,-202.7 519,-201.1 521.5,-195.6 524,-190.9 526.5,-185.4 531,-167.9 537.5,-141.3 541.5,-122.6 544,-105.3 548.5,-68 550.5,-56.6 553.5,-44.3 556.5,-34.4 559.5,-26.9 564,-17.8 565.5,-15.5 567,-13.8 569.5,-11.5 571.5,-10.2 573.5,-9.4 577,-8.5 579,-8.2 581,-8.3 582.5,-8.7 584.5,-9.6 588.5,-12.3 594.5,-21 595.5,-22.1 596.5,-22.6 597,-22.5 598,-21.4 600.5,-16.7 604,-11.5 605.5,-9.7 607,-8.5 611,-6.7 615,-5.6 623.5,-4.2 630,-3.7 632,-4.6 634.5,-6.2 635.5,-7.4 636.5,-9 642,-20.8 647.5,-34.5 651.5,-46.6 656.5,-64.1 659,-74.2 661.5,-86.3 666.5,-107.6 670,-121.2 673,-131.3 676.5,-141.2 679.5,-148 682,-150.2 683.5,-151.2 685,-151.8L685,0Z"/>
<path id="l17" d="M289,-115.5 290,-114 293.5,-103.8 309.5,-54.6 315.5,-37.2 316,-36.5 318.5,-34.2 321,-29.7 322,-28.4 322.5,-28.8 323,-29.7 326.5,-39.2 328,-41.1 328.5,-41.3 329,-41.1 330.5,-38.4 331.5,-35.8 334.5,-24.4 335,-20.6 335.5,-19.5 336.5,-17.6 337,-16.9 337.5,-16.7 338.5,-17 340,-18.3 341,-19.6 342.5,-22.3 344,-25.7 345,-28.9 349,-46 353,-66.1 356.5,-76.7 359,-86.6 360,-93 365.5,-142.2 367.5,-152.8 369.5,-159.7 373.5,-170.3 375.5,-176.4 380,-193.4 382.5,-203.6 383.5,-205.8 384,-205.9 384.5,-205.1 385.5,-201 388.5,-184.2 392.5,-159.2 398.5,-119.1 401,-99.8 406,-52.9 408,-37.4 410,-26.4 411.5,-20.3 412.5,-17.4 414.5,-13.2 416,-11.1 418.5,-9.2 422,-7.5 424,-7 427,-6.6 445,-5.7 449,-5.1 451.5,-4.6 453.5,-4 461.5,-0.8 462.5,-0.5 463.5,-0.6 465,-1.5 467,-4.2 468.5,-7 469.5,-10.4 470.5,-15.1 472,-24.1 475.5,-54.7 476,-56.9 477,-59.8 478.5,-63 480,-65.3 480.5,-66.5 481,-69.5 482.5,-92 485,-117.5 485.5,-119 486.5,-120.6 487.5,-123.6 488,-128.7 490,-169.6 491.5,-182.1 492.5,-186.9 494,-191.9 496,-196.1 499.5,-201 501,-202.2 502,-202.5 503,-202.2 504,-200.6 507.5,-190.7 508.5,-188.6 509,-188 509.5,-187.7 510,-187.9 510.5,-188.4 511.5,-190.5 515,-201.2 516,-203.1 516.5,-203.4 517,-203.5 518,-202.7 519,-201.1 521.5,-195.6 524,-190.9 526.5,-185.4 531,-167.9 537.5,-141.3 541.5,-122.6 544,-105.3 548.5,-68 550.5,-56.6 553.5,-44.3 556.5,-34.4 559.5,-26.9 564,-17.8 565.5,-15.5 567,-13.8 569.5,-11.5 571.5,-10.2 573.5,-9.4 577,-8.5 579,-8.2 581,-8.3 582.5,-8.7 584.5,-9.6 588.5,-12.3 594.5,-21 595.5,-22.1 596.5,-22.6 597,-22.5 598,-21.4 600.5,-16.7 604,-11.5 605.5,-9.7 607,-8.5 611,-6.7 615,-5.6 623.5,-4.2 630,-3.7 632,-4.6 634.5,-6.2 635.5,-7.4 636.5,-9 642,-20.8 647.5,-34.5 651.5,-46.6 656.5,-64.1 659,-74.2 661.5,-86.3 666.5,-107.6 670,-121.2 673,-131.3 676.5,-141.2 679.5,-148 682,-150.2 683.5,-151.2 685,-151.8" fill="none" stroke-width="1.45" vector-effect="non-scaling-stroke"/>
<path id="s18" d="M289,0L289,-53.3 290,-51.3 305,-29.2 315.5,-17.1 316,-17.2 318.5,-19 319.5,-19 321,-18.4 321.5,-18.4 322,-18.7 323,-21.6 326.5,-36.4 328,-40.3 328.5,-41.2 329,-41.6 329.5,-41.4 330,-40.8 331,-38.7 335,-23.6 336.5,-20.2 337,-19.4 337.5,-19.1 338,-19.3 339.5,-20.4 341,-22.1 342,-23.9 343.5,-27.2 344.5,-30 345.5,-33.6 349.5,-51.2 352,-63.6 353,-67.7 354,-70.5 357,-77.2 358.5,-81.4 359.5,-85 360.5,-90.3 365.5,-126.6 368,-140.5 370,-148 375.5,-164.9 380.5,-186.2 382.5,-196 383.5,-199.1 384,-199.7 384.5,-199.1 385,-197.5 388,-181.4 391.5,-159.7 397,-123.4 400,-101.6 405.5,-53.1 407.5,-38.5 409,-30.2 410.5,-23.7 411.5,-20.2 413,-16.5 414.5,-13.6 416,-11.5 418,-10 421,-8.3 423.5,-7.5 428,-6.9 435.5,-6.6 450.5,-4.6 454,-3.6 461.5,-0.7 463,-0.5 464.5,-1 466,-2.4 468,-5.3 469,-7.5 470.5,-13 472.5,-23.7 476,-51.6 476.5,-53.9 477.5,-56.8 479,-60 481,-63.1 481.5,-64.3 482,-67.1 484,-93.5 486,-112.6 487.5,-123.6 491.5,-170.6 492,-176.1 493,-183.5 494.5,-189.8 496,-193.8 497.5,-196.4 500,-199.7 501.5,-201 502.5,-201.4 503,-201.3 503.5,-201.1 504,-200.4 505,-198.1 508,-188.4 509,-186.6 509.5,-186.2 510,-186.4 511,-188.1 514,-197.7 515,-200.1 515.5,-200.7 516,-200.8 516.5,-200.6 517,-200 518,-198.1 520.5,-191.3 532.5,-161.9 533.5,-159.2 536.5,-147.6 540.5,-130.1 542,-121.2 543.5,-110.4 548.5,-69.9 550.5,-59.1 554,-44.8 556,-37.9 558,-32.3 560.5,-26.4 564.5,-18.1 566,-15.9 569,-12.8 571,-11.3 573,-10.3 577.5,-9.2 580,-8.9 582.5,-9.3 585,-10.5 588.5,-12.9 589.5,-14.2 592,-18.3 594.5,-21.9 595.5,-23 596.5,-23.6 597,-23.4 598,-22.3 600.5,-17.4 605,-10.6 606.5,-9.2 610,-7.4 614,-6.1 619.5,-5 625,-4.2 629.5,-3.9 630,-3.9 631.5,-4.6 634,-6.2 635,-7.1 637,-10.5 642,-21.9 647.5,-36.1 650,-43.4 654,-56.6 657.5,-69.1 660,-79.1 661.5,-86.3 665.5,-101.4 668.5,-111.5 671,-118.8 674,-125.8 675.5,-128.7 677.5,-131.7 679,-133.6 681,-135.4 683,-136.7 685,-137.5L685,0Z"/>
<path id="l18" d="M289,-53.3 290,-51.3 305,-29.2 315.5,-17.1 316,-17.2 318.5,-19 319.5,-19 321,-18.4 321.5,-18.4 322,-18.7 323,-21.6 326.5,-36.4 328,-40.3 328.5,-41.2 329,-41.6 329.5,-41.4 330,-40.8 331,-38.7 335,-23.6 336.5,-20.2 337,-19.4 337.5,-19.1 338,-19.3 339.5,-20.4 341,-22.1 342,-23.9 343.5,-27.2 344.5,-30 345.5,-33.6 349.5,-51.2 352,-63.6 353,-67.7 354,-70.5 357,-77.2 358.5,-81.4 359.5,-85 360.5,-90.3 365.5,-126.6 368,-140.5 370,-148 375.5,-164.9 380.5,-186.2 382.5,-196 383.5,-199.1 384,-199.7 384.5,-199.1 385,-197.5 388,-181.4 391.5,-159.7 397,-123.4 400,-101.6 405.5,-53.1 407.5,-38.5 409,-30.2 410.5,-23.7 411.5,-20.2 413,-16.5 414.5,-13.6 416,-11.5 418,-10 421,-8.3 423.5,-7.5 428,-6.9 435.5,-6.6 450.5,-4.6 454,-3.6 461.5,-0.7 463,-0.5 464.5,-1 466,-2.4 468,-5.3 469,-7.5 470.5,-13 472.5,-23.7 476,-51.6 476.5,-53.9 477.5,-56.8 479,-60 481,-63.1 481.5,-64.3 482,-67.1 484,-93.5 486,-112.6 487.5,-123.6 491.5,-170.6 492,-176.1 493,-183.5 494.5,-189.8 496,-193.8 497.5,-196.4 500,-199.7 501.5,-201 502.5,-201.4 503,-201.3 503.5,-201.1 504,-200.4 505,-198.1 508,-188.4 509,-186.6 509.5,-186.2 510,-186.4 511,-188.1 514,-197.7 515,-200.1 515.5,-200.7 516,-200.8 516.5,-200.6 517,-200 518,-198.1 520.5,-191.3 532.5,-161.9 533.5,-159.2 536.5,-147.6 540.5,-130.1 542,-121.2 543.5,-110.4 548.5,-69.9 550.5,-59.1 554,-44.8 556,-37.9 558,-32.3 560.5,-26.4 564.5,-18.1 566,-15.9 569,-12.8 571,-11.3 573,-10.3 577.5,-9.2 580,-8.9 582.5,-9.3 585,-10.5 588.5,-12.9 589.5,-14.2 592,-18.3 594.5,-21.9 595.5,-23 596.5,-23.6 597,-23.4 598,-22.3 600.5,-17.4 605,-10.6 606.5,-9.2 610,-7.4 614,-6.1 619.5,-5 625,-4.2 629.5,-3.9 630,-3.9 631.5,-4.6 634,-6.2 635,-7.1 637,-10.5 642,-21.9 647.5,-36.1 650,-43.4 654,-56.6 657.5,-69.1 660,-79.1 661.5,-86.3 665.5,-101.4 668.5,-111.5 671,-118.8 674,-125.8 675.5,-128.7 677.5,-131.7 679,-133.6 681,-135.4 683,-136.7 685,-137.5" fill="none" stroke-width="1.45" vector-effect="non-scaling-stroke"/>
<path id="s19" d="M289,0L289,-117.1 290,-115.3 305,-68.3 315.5,-37.8 316,-37.1 318.5,-34.8 321,-30.2 322,-29 322.5,-29.3 323,-30.3 326.5,-40 328,-41.9 328.5,-42.2 329,-42 330.5,-39.2 331.5,-36.6 334.5,-24.9 335,-22.2 336,-20 337,-18.2 337.5,-18 338.5,-18.3 340,-19.7 341,-21 342.5,-23.8 344,-27.4 345,-30.7 349,-48.5 353,-68.8 354,-72.1 356.5,-78.8 359,-87.6 360.5,-96.2 365,-132.7 367.5,-148.4 369.5,-157 374,-171.4 376,-178.7 380.5,-199.7 382.5,-210.6 383.5,-214.3 384,-215.1 384.5,-214.7 385.5,-210.9 389,-191.6 399,-114.4 405,-58.3 406.5,-45.9 408,-35.4 409,-30 410.5,-23.3 412,-18.3 414,-13.9 416,-11 419,-8.9 422,-7.5 424,-7 427.5,-6.5 445,-5.3 450.5,-4.7 454.5,-3.6 458.5,-2.1 461.5,-0.8 462.5,-0.5 463.5,-0.6 465,-1.5 467,-4.2 468.5,-7 469.5,-10.1 471,-17.3 472.5,-26.6 476,-57.1 476.5,-59.2 477.5,-61.8 479,-64.4 480.5,-66 481.5,-67.7 482,-71.3 483,-86.1 484,-97.2 486,-114.4 487,-121.5 487.5,-123.6 489.5,-145.7 492,-169.7 493,-177 494.5,-183.5 496.5,-189.3 499,-194 501,-197.2 502,-198.1 503,-198.5 503.5,-198.4 504.5,-197 507.5,-188.2 508.5,-185.8 509,-185.1 509.5,-184.8 510,-184.9 510.5,-185.6 511.5,-188 514.5,-197.9 515.5,-199.8 516,-200.2 516.5,-200.1 517,-199.7 518,-198.2 520.5,-192.3 523,-187.3 528.5,-175.2 536.5,-142.8 540.5,-124.9 542,-116 543.5,-105.5 548.5,-66.3 550.5,-55.9 553.5,-44.1 556.5,-34.4 559.5,-27.1 564,-18.1 565.5,-15.8 567,-14.2 569.5,-11.9 571.5,-10.6 573.5,-9.9 577,-9.1 579,-8.9 581,-9 582.5,-9.4 584.5,-10.2 588.5,-12.7 589.5,-14 592,-17.9 594.5,-21.2 595.5,-22.2 596.5,-22.7 597,-22.5 598,-21.3 600.5,-16.5 604,-11.2 605.5,-9.4 607,-8.2 610.5,-6.6 615,-5.2 623.5,-3.8 630,-3.3 631.5,-3.9 634.5,-5.5 635.5,-6.5 637,-8.8 641,-16.3 643.5,-21.5 647.5,-30.7 650.5,-38.9 655,-53.8 658.5,-67.6 670.5,-126.1 672,-128.6 673.5,-130.4 675,-131.6 676,-132 677,-132.2 679,-131.8 681,-130.5 683,-128.5 685,-125.8L685,0Z"/>
<path id="l19" d="M289,-117.1 290,-115.3 305,-68.3 315.5,-37.8 316,-37.1 318.5,-34.8 321,-30.2 322,-29 322.5,-29.3 323,-30.3 326.5,-40 328,-41.9 328.5,-42.2 329,-42 330.5,-39.2 331.5,-36.6 334.5,-24.9 335,-22.2 336,-20 337,-18.2 337.5,-18 338.5,-18.3 340,-19.7 341,-21 342.5,-23.8 344,-27.4 345,-30.7 349,-48.5 353,-68.8 354,-72.1 356.5,-78.8 359,-87.6 360.5,-96.2 365,-132.7 367.5,-148.4 369.5,-157 374,-171.4 376,-178.7 380.5,-199.7 382.5,-210.6 383.5,-214.3 384,-215.1 384.5,-214.7 385.5,-210.9 389,-191.6 399,-114.4 405,-58.3 406.5,-45.9 408,-35.4 409,-30 410.5,-23.3 412,-18.3 414,-13.9 416,-11 419,-8.9 422,-7.5 424,-7 427.5,-6.5 445,-5.3 450.5,-4.7 454.5,-3.6 458.5,-2.1 461.5,-0.8 462.5,-0.5 463.5,-0.6 465,-1.5 467,-4.2 468.5,-7 469.5,-10.1 471,-17.3 472.5,-26.6 476,-57.1 476.5,-59.2 477.5,-61.8 479,-64.4 480.5,-66 481.5,-67.7 482,-71.3 483,-86.1 484,-97.2 486,-114.4 487,-121.5 487.5,-123.6 489.5,-145.7 492,-169.7 493,-177 494.5,-183.5 496.5,-189.3 499,-194 501,-197.2 502,-198.1 503,-198.5 503.5,-198.4 504.5,-197 507.5,-188.2 508.5,-185.8 509,-185.1 509.5,-184.8 510,-184.9 510.5,-185.6 511.5,-188 514.5,-197.9 515.5,-199.8 516,-200.2 516.5,-200.1 517,-199.7 518,-198.2 520.5,-192.3 523,-187.3 528.5,-175.2 536.5,-142.8 540.5,-124.9 542,-116 543.5,-105.5 548.5,-66.3 550.5,-55.9 553.5,-44.1 556.5,-34.4 559.5,-27.1 564,-18.1 565.5,-15.8 567,-14.2 569.5,-11.9 571.5,-10.6 573.5,-9.9 577,-9.1 579,-8.9 581,-9 582.5,-9.4 584.5,-10.2 588.5,-12.7 589.5,-14 592,-17.9 594.5,-21.2 595.5,-22.2 596.5,-22.7 597,-22.5 598,-21.3 600.5,-16.5 604,-11.2 605.5,-9.4 607,-8.2 610.5,-6.6 615,-5.2 623.5,-3.8 630,-3.3 631.5,-3.9 634.5,-5.5 635.5,-6.5 637,-8.8 641,-16.3 643.5,-21.5 647.5,-30.7 650.5,-38.9 655,-53.8 658.5,-67.6 670.5,-126.1 672,-128.6 673.5,-130.4 675,-131.6 676,-132 677,-132.2 679,-131.8 681,-130.5 683,-128.5 685,-125.8" fill="none" stroke-width="1.45" vector-effect="non-scaling-stroke"/>
<path id="s20" d="M289,0L289,-114.7 290,-112.9 290.5,-111.4 305,-67.1 315.5,-37.9 316,-37.2 318.5,-34.9 321,-30.3 322,-29.1 322.5,-29.4 323,-30.4 326.5,-40.2 328,-42.1 328.5,-42.3 329,-42.1 330.5,-39.3 331.5,-36.7 334.5,-24.9 335,-22.4 335.5,-21.1 336.5,-19 337,-18.3 337.5,-18 338.5,-18.3 339.5,-19.1 341,-20.8 342,-22.5 343.5,-25.7 344.5,-28.4 347,-38.1 353,-65.2 354.5,-69.2 357,-74.6 359,-80.2 360,-83.8 361,-89.2 366,-124 368.5,-138.2 370.5,-146.3 374.5,-159.3 376.5,-166.5 380.5,-185.2 382.5,-195.9 383.5,-199.7 384,-200.4 384.5,-199.9 385,-198.2 388,-180.8 396.5,-122.6 399,-104.2 404.5,-57.2 406.5,-42.7 407.5,-36.6 409,-29.2 410.5,-23.3 412,-18.8 414,-14.7 416,-11.9 419,-9.7 422,-8.3 424,-7.7 428,-7.1 450.5,-4.4 454,-3.5 462,-0.6 463,-0.4 464,-0.7 465,-1.3 466,-2.3 468,-4.9 469,-6.8 470,-9.8 471.5,-16.1 473,-24 476,-46.6 477,-52.4 478,-55.4 479,-57.6 480,-59.6 482,-62.8 482.5,-64 483,-66.6 485,-92.1 487,-111.3 489,-128.1 491.5,-155.8 493.5,-173.8 494.5,-180.5 495,-182.6 496.5,-187.3 498,-190.2 501.5,-194.2 502.5,-194.9 503.5,-194.9 504,-194.6 504.5,-193.9 505,-192.8 507.5,-184.1 508.5,-181.3 509,-180.4 509.5,-180 510,-180.3 511,-182.3 513.5,-191.4 514.5,-194.3 515,-195.1 515.5,-195.4 516,-195.2 517,-193.9 520,-187 525,-177 528.5,-170.7 536,-138.9 540,-120.8 543,-102.1 548,-65.5 550,-55.3 553.5,-42.3 556.5,-33 559.5,-25.9 564,-17.1 565.5,-14.8 567,-13.2 569.5,-11 571.5,-9.7 573.5,-9 577,-8.1 579,-7.8 581,-7.9 582.5,-8.3 584.5,-9.1 588.5,-11.6 589.5,-12.8 592,-16.6 595,-20.5 596,-21.3 596.5,-21.4 597,-21.3 598,-20.3 600.5,-15.9 604,-11 605.5,-9.2 607,-8.2 611,-6.5 615,-5.5 623.5,-4.1 630,-3.8 632,-4.7 634.5,-6.4 635.5,-7.6 636.5,-9.3 642,-21.8 647.5,-36.5 651.5,-49.4 657,-69.9 659.5,-80 662,-91.6 666,-107 669,-117.3 672,-125.9 675,-132.7 678,-137.7 679.5,-139.5 681.5,-141.5 683,-142.5 685,-143.5L685,0Z"/>
<path id="l20" d="M289,-114.7 290,-112.9 290.5,-111.4 305,-67.1 315.5,-37.9 316,-37.2 318.5,-34.9 321,-30.3 322,-29.1 322.5,-29.4 323,-30.4 326.5,-40.2 328,-42.1 328.5,-42.3 329,-42.1 330.5,-39.3 331.5,-36.7 334.5,-24.9 335,-22.4 335.5,-21.1 336.5,-19 337,-18.3 337.5,-18 338.5,-18.3 339.5,-19.1 341,-20.8 342,-22.5 343.5,-25.7 344.5,-28.4 347,-38.1 353,-65.2 354.5,-69.2 357,-74.6 359,-80.2 360,-83.8 361,-89.2 366,-124 368.5,-138.2 370.5,-146.3 374.5,-159.3 376.5,-166.5 380.5,-185.2 382.5,-195.9 383.5,-199.7 384,-200.4 384.5,-199.9 385,-198.2 388,-180.8 396.5,-122.6 399,-104.2 404.5,-57.2 406.5,-42.7 407.5,-36.6 409,-29.2 410.5,-23.3 412,-18.8 414,-14.7 416,-11.9 419,-9.7 422,-8.3 424,-7.7 428,-7.1 450.5,-4.4 454,-3.5 462,-0.6 463,-0.4 464,-0.7 465,-1.3 466,-2.3 468,-4.9 469,-6.8 470,-9.8 471.5,-16.1 473,-24 476,-46.6 477,-52.4 478,-55.4 479,-57.6 480,-59.6 482,-62.8 482.5,-64 483,-66.6 485,-92.1 487,-111.3 489,-128.1 491.5,-155.8 493.5,-173.8 494.5,-180.5 495,-182.6 496.5,-187.3 498,-190.2 501.5,-194.2 502.5,-194.9 503.5,-194.9 504,-194.6 504.5,-193.9 505,-192.8 507.5,-184.1 508.5,-181.3 509,-180.4 509.5,-180 510,-180.3 511,-182.3 513.5,-191.4 514.5,-194.3 515,-195.1 515.5,-195.4 516,-195.2 517,-193.9 520,-187 525,-177 528.5,-170.7 536,-138.9 540,-120.8 543,-102.1 548,-65.5 550,-55.3 553.5,-42.3 556.5,-33 559.5,-25.9 564,-17.1 565.5,-14.8 567,-13.2 569.5,-11 571.5,-9.7 573.5,-9 577,-8.1 579,-7.8 581,-7.9 582.5,-8.3 584.5,-9.1 588.5,-11.6 589.5,-12.8 592,-16.6 595,-20.5 596,-21.3 596.5,-21.4 597,-21.3 598,-20.3 600.5,-15.9 604,-11 605.5,-9.2 607,-8.2 611,-6.5 615,-5.5 623.5,-4.1 630,-3.8 632,-4.7 634.5,-6.4 635.5,-7.6 636.5,-9.3 642,-21.8 647.5,-36.5 651.5,-49.4 657,-69.9 659.5,-80 662,-91.6 666,-107 669,-117.3 672,-125.9 675,-132.7 678,-137.7 679.5,-139.5 681.5,-141.5 683,-142.5 685,-143.5" fill="none" stroke-width="1.45" vector-effect="non-scaling-stroke"/>
<path id="s21" d="M289,0L289,-124 290,-122 305,-70.5 315.5,-39.2 316,-38.4 318.5,-36 321,-31.2 322,-29.9 322.5,-30.2 323,-31.2 326.5,-40.8 328,-42.7 328.5,-42.9 329,-42.6 330.5,-39.8 331.5,-37.2 333,-30.8 335,-23.4 335.5,-22.1 337,-19.1 337.5,-18.8 338.5,-19.2 340.5,-21.1 341.5,-22.6 343,-25.7 344.5,-29.6 347,-39.5 353,-67 354,-69.8 356.5,-75.2 359,-82.5 360,-87.1 360.5,-90.3 365.5,-126.7 367.5,-137.7 369.5,-145.2 373.5,-156.8 375.5,-163.2 380,-181.6 382.5,-193.2 383.5,-196.2 384,-196.7 384.5,-196.2 385,-194.7 388,-180 391.5,-159.9 396,-131.9 398.5,-115.6 400.5,-100.7 405.5,-55.7 407.5,-40.3 408.5,-34 410,-26.6 411.5,-20.9 412.5,-18.1 414.5,-13.9 416,-11.8 418.5,-9.9 422,-8.1 424,-7.6 426,-7.3 436,-6.5 450.5,-4.8 454,-3.8 461.5,-0.8 462.5,-0.5 463.5,-0.6 465,-1.5 467,-4.1 468.5,-6.8 469.5,-10 471,-17.1 472.5,-26.3 474.5,-44.2 476,-55.7 477.5,-60.2 479,-63.2 480.5,-65.3 481,-66.3 481.5,-68.4 483,-89.9 485,-110.4 486,-118.7 487.5,-123.6 488,-128.7 489,-149.2 491.5,-176.5 492.5,-184.7 494,-191.7 495.5,-196.5 497,-199.9 500.5,-205.7 501.5,-206.8 502.5,-207.3 503,-207.3 503.5,-207 504.5,-205.3 507.5,-196.2 508.5,-193.8 509,-193.1 509.5,-192.8 510,-192.9 510.5,-193.5 511.5,-195.8 514.5,-205.3 515.5,-207.1 516,-207.4 516.5,-207.3 517.5,-206.1 518.5,-203.9 521,-196.7 523.5,-190.5 527.5,-179.6 532,-164 537,-145.6 540,-133.1 542,-122.2 544.5,-103.9 548.5,-70.6 550.5,-59.4 553.5,-46.8 556.5,-36.4 560,-27.5 564.5,-18.2 565.5,-16.6 567.5,-14.3 569.5,-12.5 571.5,-11.1 573,-10.4 577,-9.2 579,-8.8 581,-8.8 582.5,-9.2 584.5,-10.1 588.5,-12.7 589.5,-14 592,-18 594.5,-21.5 595.5,-22.6 596.5,-23.1 597,-23 598,-21.9 600.5,-17.1 604,-11.7 605.5,-9.9 607,-8.7 611,-6.9 615,-5.7 623.5,-4.2 630,-3.8 632,-4.7 634.5,-6.4 635.5,-7.5 636.5,-9.2 642,-21.3 647.5,-35.3 651.5,-47.5 656.5,-65.1 659,-75.2 661.5,-87.3 666,-106.3 669,-117.9 672,-128.2 675,-136.9 678.5,-145 680.5,-148.7 683,-152.5 685,-154L685,0Z"/>
<path id="l21" d="M289,-124 290,-122 305,-70.5 315.5,-39.2 316,-38.4 318.5,-36 321,-31.2 322,-29.9 322.5,-30.2 323,-31.2 326.5,-40.8 328,-42.7 328.5,-42.9 329,-42.6 330.5,-39.8 331.5,-37.2 333,-30.8 335,-23.4 335.5,-22.1 337,-19.1 337.5,-18.8 338.5,-19.2 340.5,-21.1 341.5,-22.6 343,-25.7 344.5,-29.6 347,-39.5 353,-67 354,-69.8 356.5,-75.2 359,-82.5 360,-87.1 360.5,-90.3 365.5,-126.7 367.5,-137.7 369.5,-145.2 373.5,-156.8 375.5,-163.2 380,-181.6 382.5,-193.2 383.5,-196.2 384,-196.7 384.5,-196.2 385,-194.7 388,-180 391.5,-159.9 396,-131.9 398.5,-115.6 400.5,-100.7 405.5,-55.7 407.5,-40.3 408.5,-34 410,-26.6 411.5,-20.9 412.5,-18.1 414.5,-13.9 416,-11.8 418.5,-9.9 422,-8.1 424,-7.6 426,-7.3 436,-6.5 450.5,-4.8 454,-3.8 461.5,-0.8 462.5,-0.5 463.5,-0.6 465,-1.5 467,-4.1 468.5,-6.8 469.5,-10 471,-17.1 472.5,-26.3 474.5,-44.2 476,-55.7 477.5,-60.2 479,-63.2 480.5,-65.3 481,-66.3 481.5,-68.4 483,-89.9 485,-110.4 486,-118.7 487.5,-123.6 488,-128.7 489,-149.2 491.5,-176.5 492.5,-184.7 494,-191.7 495.5,-196.5 497,-199.9 500.5,-205.7 501.5,-206.8 502.5,-207.3 503,-207.3 503.5,-207 504.5,-205.3 507.5,-196.2 508.5,-193.8 509,-193.1 509.5,-192.8 510,-192.9 510.5,-193.5 511.5,-195.8 514.5,-205.3 515.5,-207.1 516,-207.4 516.5,-207.3 517.5,-206.1 518.5,-203.9 521,-196.7 523.5,-190.5 527.5,-179.6 532,-164 537,-145.6 540,-133.1 542,-122.2 544.5,-103.9 548.5,-70.6 550.5,-59.4 553.5,-46.8 556.5,-36.4 560,-27.5 564.5,-18.2 565.5,-16.6 567.5,-14.3 569.5,-12.5 571.5,-11.1 573,-10.4 577,-9.2 579,-8.8 581,-8.8 582.5,-9.2 584.5,-10.1 588.5,-12.7 589.5,-14 592,-18 594.5,-21.5 595.5,-22.6 596.5,-23.1 597,-23 598,-21.9 600.5,-17.1 604,-11.7 605.5,-9.9 607,-8.7 611,-6.9 615,-5.7 623.5,-4.2 630,-3.8 632,-4.7 634.5,-6.4 635.5,-7.5 636.5,-9.2 642,-21.3 647.5,-35.3 651.5,-47.5 656.5,-65.1 659,-75.2 661.5,-87.3 666,-106.3 669,-117.9 672,-128.2 675,-136.9 678.5,-145 680.5,-148.7 683,-152.5 685,-154" fill="none" stroke-width="1.45" vector-effect="non-scaling-stroke"/>
<path id="s22" d="M289,0L289,-23.3 290,-21.1 305,-11.1 315.5,-7.2 318.5,-11.3 319.5,-12 321,-12.4 322,-13.4 323,-16.8 326.5,-33.2 327.5,-36.4 328.5,-38.8 329,-39.4 329.5,-39.5 330,-39.1 331.5,-35.6 334.5,-24.2 335,-20.1 336.5,-17.2 337,-16.5 337.5,-16.3 338,-16.4 339,-17 341,-19.1 342.5,-21.8 344.5,-26.6 346,-32.1 349.5,-47.5 353,-64.9 357,-76.8 359.5,-86.3 361,-96.1 366,-137.9 368,-151.3 370,-159.1 374,-171.2 376,-178.3 380.5,-199.3 382.5,-209.9 383.5,-213.4 384,-213.9 384.5,-213.3 385,-211.5 388,-193.6 397,-129.5 400,-105.8 405.5,-54.7 407,-43.1 408.5,-33.8 410,-26.6 411.5,-21 413,-17.1 414.5,-14.1 416,-12 418,-10.3 421,-8.6 424,-7.6 428,-7 445,-5.3 450.5,-4.6 454,-3.7 461.5,-0.7 463,-0.5 464.5,-1 466,-2.5 468,-5.4 469,-7.5 470.5,-13.1 472.5,-23.6 475.5,-47.6 476.5,-53.9 478,-57.8 479.5,-60.5 481,-62.4 482,-64.7 484.5,-94.2 488.5,-127.7 492.5,-170.8 494,-182.2 496,-191.6 498,-198.3 500,-203.9 501.5,-207.5 502.5,-209.3 503.5,-210.2 504,-210.2 505,-208.8 508.5,-199.1 509,-198.1 509.5,-197.5 510,-197.5 511,-199 514,-207.5 515,-209.2 515.5,-209.3 516,-208.9 516.5,-208.1 517.5,-205.5 520.5,-194.5 526,-175.6 536,-142.8 540,-127.5 541.5,-119.7 543,-110 548.5,-68.1 550.5,-57.8 554.5,-42.1 556.5,-35.7 558.5,-30.5 561,-24.9 564.5,-18 566,-15.8 568.5,-13.2 570.5,-11.6 572.5,-10.5 577,-9.2 580,-8.7 582,-9 584.5,-10 588.5,-12.5 589.5,-13.8 592,-17.8 594.5,-21.1 595.5,-22.3 596.5,-22.8 597,-22.7 598,-21.6 600.5,-16.8 605,-10.3 606.5,-8.9 610,-7.2 614,-6 619.5,-4.9 625,-4.2 629.5,-3.9 630,-3.9 631.5,-4.6 634,-6.3 635,-7.2 637,-10.6 641.5,-21.2 647.5,-37 650,-44.4 654,-57.9 657.5,-70.6 660,-80.9 661.5,-88.3 666,-105.9 669,-116.4 671.5,-123.9 674.5,-131.3 676,-134.3 678,-137.7 679.5,-139.8 681.5,-142 683,-143.2 685,-144.5L685,0Z"/>
<path id="l22" d="M289,-23.3 290,-21.1 305,-11.1 315.5,-7.2 318.5,-11.3 319.5,-12 321,-12.4 322,-13.4 323,-16.8 326.5,-33.2 327.5,-36.4 328.5,-38.8 329,-39.4 329.5,-39.5 330,-39.1 331.5,-35.6 334.5,-24.2 335,-20.1 336.5,-17.2 337,-16.5 337.5,-16.3 338,-16.4 339,-17 341,-19.1 342.5,-21.8 344.5,-26.6 346,-32.1 349.5,-47.5 353,-64.9 357,-76.8 359.5,-86.3 361,-96.1 366,-137.9 368,-151.3 370,-159.1 374,-171.2 376,-178.3 380.5,-199.3 382.5,-209.9 383.5,-213.4 384,-213.9 384.5,-213.3 385,-211.5 388,-193.6 397,-129.5 400,-105.8 405.5,-54.7 407,-43.1 408.5,-33.8 410,-26.6 411.5,-21 413,-17.1 414.5,-14.1 416,-12 418,-10.3 421,-8.6 424,-7.6 428,-7 445,-5.3 450.5,-4.6 454,-3.7 461.5,-0.7 463,-0.5 464.5,-1 466,-2.5 468,-5.4 469,-7.5 470.5,-13.1 472.5,-23.6 475.5,-47.6 476.5,-53.9 478,-57.8 479.5,-60.5 481,-62.4 482,-64.7 484.5,-94.2 488.5,-127.7 492.5,-170.8 494,-182.2 496,-191.6 498,-198.3 500,-203.9 501.5,-207.5 502.5,-209.3 503.5,-210.2 504,-210.2 505,-208.8 508.5,-199.1 509,-198.1 509.5,-197.5 510,-197.5 511,-199 514,-207.5 515,-209.2 515.5,-209.3 516,-208.9 516.5,-208.1 517.5,-205.5 520.5,-194.5 526,-175.6 536,-142.8 540,-127.5 541.5,-119.7 543,-110 548.5,-68.1 550.5,-57.8 554.5,-42.1 556.5,-35.7 558.5,-30.5 561,-24.9 564.5,-18 566,-15.8 568.5,-13.2 570.5,-11.6 572.5,-10.5 577,-9.2 580,-8.7 582,-9 584.5,-10 588.5,-12.5 589.5,-13.8 592,-17.8 594.5,-21.1 595.5,-22.3 596.5,-22.8 597,-22.7 598,-21.6 600.5,-16.8 605,-10.3 606.5,-8.9 610,-7.2 614,-6 619.5,-4.9 625,-4.2 629.5,-3.9 630,-3.9 631.5,-4.6 634,-6.3 635,-7.2 637,-10.6 641.5,-21.2 647.5,-37 650,-44.4 654,-57.9 657.5,-70.6 660,-80.9 661.5,-88.3 666,-105.9 669,-116.4 671.5,-123.9 674.5,-131.3 676,-134.3 678,-137.7 679.5,-139.8 681.5,-142 683,-143.2 685,-144.5" fill="none" stroke-width="1.45" vector-effect="non-scaling-stroke"/>
<path id="s23" d="M289,0L289,-55.5 290,-53.4 305,-30 315.5,-17.4 316,-17.5 318.5,-19.2 319.5,-19.2 321,-18.6 321.5,-18.5 322,-18.8 323,-21.6 326.5,-36.2 328,-40.1 328.5,-40.9 329,-41.3 329.5,-41.1 330,-40.4 331,-38.3 335,-22.7 336.5,-19.4 337,-18.6 337.5,-18.3 338,-18.5 339.5,-19.7 341,-21.5 342,-23.3 343.5,-26.8 344.5,-29.8 345.5,-33.6 349,-50.1 352,-66 353,-70.1 354,-72.9 356.5,-78.5 358,-82.8 359,-86.4 360,-91.9 365,-130.3 366.5,-139.1 367.5,-143.7 369.5,-150.5 373,-160.1 375,-166.2 380,-185.8 382.5,-197.1 383.5,-199.9 384,-200.3 384.5,-199.9 385.5,-196.6 388.5,-182.5 392.5,-160.7 397,-133.5 399,-120.3 401,-105.1 406,-57 408,-40.5 409,-34 410.5,-26.3 411.5,-22.2 413,-17.7 415,-13.6 416.5,-11.6 419.5,-9.5 422.5,-8.1 424.5,-7.6 427.5,-7.2 444.5,-5.6 450.5,-4.9 454,-3.9 462,-0.6 463,-0.5 464,-0.8 465.5,-2.1 467.5,-5.2 468.5,-7.2 469.5,-10.7 470.5,-15.5 472,-24.6 475.5,-54.7 476,-56.7 477,-59.2 478.5,-61.8 480,-63.5 480.5,-64.5 481,-67.9 482.5,-89 484,-103.4 486,-118.6 487.5,-123.6 488,-128.7 489,-148.5 490,-157.9 491.5,-169.5 493,-175.8 494.5,-180.2 496,-183.3 499,-187.9 501,-190.1 502,-190.5 502.5,-190.5 503,-190.3 503.5,-189.7 504.5,-187.9 508,-178.9 509,-177.5 509.5,-177.2 510,-177.3 511,-178.6 515,-188.4 516,-189.7 516.5,-189.8 517.5,-189.1 518.5,-187.4 524.5,-171.9 532.5,-149.7 538,-132.4 541,-120.9 542.5,-112.9 545,-95.5 548.5,-67.3 549.5,-61.1 551,-53.9 554,-42.2 556.5,-34.2 559.5,-26.9 564.5,-17.2 565.5,-15.7 567.5,-13.6 569.5,-11.8 571.5,-10.5 573.5,-9.8 577,-9 579,-8.8 581,-8.9 583,-9.6 585,-10.7 588.5,-13.1 589.5,-14.4 592,-18.5 594.5,-22 595.5,-23.1 596.5,-23.7 597,-23.5 598,-22.4 600.5,-17.4 604,-11.9 605.5,-10 607,-8.9 611,-7 615,-5.8 623.5,-4.3 630,-3.8 631.5,-4.5 634.5,-6.4 635.5,-7.6 636.5,-9.3 642.5,-22.6 647,-34.2 649,-39.8 653,-53 657,-67.6 659.5,-78.1 661.5,-88.2 663.5,-96.9 669,-119.4 672,-130.1 675,-139.1 677,-142.8 679.5,-146.3 682,-148.8 683.5,-149.8 685,-150.5L685,0Z"/>
<path id="l23" d="M289,-55.5 290,-53.4 305,-30 315.5,-17.4 316,-17.5 318.5,-19.2 319.5,-19.2 321,-18.6 321.5,-18.5 322,-18.8 323,-21.6 326.5,-36.2 328,-40.1 328.5,-40.9 329,-41.3 329.5,-41.1 330,-40.4 331,-38.3 335,-22.7 336.5,-19.4 337,-18.6 337.5,-18.3 338,-18.5 339.5,-19.7 341,-21.5 342,-23.3 343.5,-26.8 344.5,-29.8 345.5,-33.6 349,-50.1 352,-66 353,-70.1 354,-72.9 356.5,-78.5 358,-82.8 359,-86.4 360,-91.9 365,-130.3 366.5,-139.1 367.5,-143.7 369.5,-150.5 373,-160.1 375,-166.2 380,-185.8 382.5,-197.1 383.5,-199.9 384,-200.3 384.5,-199.9 385.5,-196.6 388.5,-182.5 392.5,-160.7 397,-133.5 399,-120.3 401,-105.1 406,-57 408,-40.5 409,-34 410.5,-26.3 411.5,-22.2 413,-17.7 415,-13.6 416.5,-11.6 419.5,-9.5 422.5,-8.1 424.5,-7.6 427.5,-7.2 444.5,-5.6 450.5,-4.9 454,-3.9 462,-0.6 463,-0.5 464,-0.8 465.5,-2.1 467.5,-5.2 468.5,-7.2 469.5,-10.7 470.5,-15.5 472,-24.6 475.5,-54.7 476,-56.7 477,-59.2 478.5,-61.8 480,-63.5 480.5,-64.5 481,-67.9 482.5,-89 484,-103.4 486,-118.6 487.5,-123.6 488,-128.7 489,-148.5 490,-157.9 491.5,-169.5 493,-175.8 494.5,-180.2 496,-183.3 499,-187.9 501,-190.1 502,-190.5 502.5,-190.5 503,-190.3 503.5,-189.7 504.5,-187.9 508,-178.9 509,-177.5 509.5,-177.2 510,-177.3 511,-178.6 515,-188.4 516,-189.7 516.5,-189.8 517.5,-189.1 518.5,-187.4 524.5,-171.9 532.5,-149.7 538,-132.4 541,-120.9 542.5,-112.9 545,-95.5 548.5,-67.3 549.5,-61.1 551,-53.9 554,-42.2 556.5,-34.2 559.5,-26.9 564.5,-17.2 565.5,-15.7 567.5,-13.6 569.5,-11.8 571.5,-10.5 573.5,-9.8 577,-9 579,-8.8 581,-8.9 583,-9.6 585,-10.7 588.5,-13.1 589.5,-14.4 592,-18.5 594.5,-22 595.5,-23.1 596.5,-23.7 597,-23.5 598,-22.4 600.5,-17.4 604,-11.9 605.5,-10 607,-8.9 611,-7 615,-5.8 623.5,-4.3 630,-3.8 631.5,-4.5 634.5,-6.4 635.5,-7.6 636.5,-9.3 642.5,-22.6 647,-34.2 649,-39.8 653,-53 657,-67.6 659.5,-78.1 661.5,-88.2 663.5,-96.9 669,-119.4 672,-130.1 675,-139.1 677,-142.8 679.5,-146.3 682,-148.8 683.5,-149.8 685,-150.5" fill="none" stroke-width="1.45" vector-effect="non-scaling-stroke"/>
</defs>
<rect width="685" height="345" fill="#fff"/>
<text x="98.3" y="12.7" class="pn">a</text>
<text x="467.4" y="12.7" class="pn">b</text>
<!-- left panel -->
<rect x="1.2" y="37" width="205.3" height="279" fill="#020000"/>
<rect x="1.2" y="315.8" width="205.3" height="1.1" fill="#c81414"/>
<g clip-path="url(#pclip)">
<!-- crossed tools (dark red) -->
<g fill="none" stroke="#a00000" stroke-linecap="butt">
<line x1="77" y1="161.9" x2="134" y2="116.2" stroke-width="8.6"/>
<line x1="105" y1="135.8" x2="140" y2="154.4" stroke-width="6.6"/>
</g>
<circle cx="99" cy="125" r="9.7" fill="#a00000"/>
<path d="M91.5,111.5 L97,112.5 L104,117 L96,122 L91.5,118 Z" fill="#a00000"/>
<path d="M90,124 L97,123.2 C100.5,123.5 101.5,127 100.5,130 C99.5,132.5 96,133.2 90,132.6 Z" fill="#5a0000"/>
<!-- phone -->
<path d="M20,114.5 C13,118 10,124 11,131 C11.8,134.5 13.5,137 16,140 C19,145 22.3,149.5 25.9,153.6 C27.8,155.7 29.7,157.5 31.7,159.4 C34.8,162.7 38,166.2 41.6,168.9 C45.3,171.6 49.2,173.9 53.2,175.9 C57,177.8 60.8,180 64.8,181.1 C66.7,181.7 68.6,182.2 70.6,182.4 C74,182.8 77.6,182.8 81,182.4 C83.5,182 86,181.2 87.9,180 C89.3,179.2 90.5,178.2 91.4,177.2 L92.6,176 L84.8,163.4 L78,157 L73.5,154 L70,158.5 L63.5,159.5 C55,154 46,146 39.5,140 L36.5,137 L39.6,132.6 Z" fill="#ff5000"/>
<line x1="26.2" y1="111.7" x2="43.2" y2="125.6" stroke="#ff5000" stroke-width="6.4" stroke-linecap="round"/>
<!-- overlap tool x phone -->
<path d="M73.3,154.8 L79.6,154.2 L87.4,161.9 L81.8,164.1 L75.9,159 Z" fill="#ff7400"/>
<ellipse cx="0" cy="0" rx="4.3" ry="2.4" transform="translate(82,159.6) rotate(40)" fill="#ffe400"/>
<!-- trash can -->
<g>
<line x1="49" y1="110.6" x2="92" y2="103.3" stroke="#ff3000" stroke-width="3.7" stroke-linecap="round"/>
<rect x="-3.3" y="-1.8" width="6.6" height="3.8" rx="1.4" fill="#ff3000" transform="translate(69.4,103.6) rotate(-9.8)"/>
<path d="M48.8,114.9 L93.4,107.8 L92.6,138.9 L64.7,143.6 Z" fill="#ff3000" stroke="#ff3000" stroke-width="1" stroke-linejoin="round"/>
<line x1="47.6" y1="113.6" x2="93.8" y2="105.8" stroke="#3a0000" stroke-width="1.2"/>
<g stroke="#ffc000" stroke-width="2" fill="none" stroke-linecap="butt">
<line x1="74.5" y1="116" x2="79.5" y2="119"/>
<line x1="78.1" y1="113.1" x2="87.6" y2="120.4"/>
<line x1="82.5" y1="110.2" x2="93.4" y2="118.2"/>
<line x1="87.6" y1="108" x2="94.9" y2="112.4"/>
<path d="M85.5,121.5 L90,132" stroke-width="5" stroke="#ffd000"/>
</g>
<ellipse cx="75" cy="126.3" rx="7.2" ry="6.6" fill="#0a0000"/>
<line x1="72" y1="130.2" x2="76.7" y2="123.9" stroke="#d01800" stroke-width="1.3"/>
<path d="M77.7,120.4 L80.7,122.4 L78.7,124.4 Z" fill="#7a0000"/>
</g>
<!-- south america -->
<path d="M137.6,94.4 L142,95 L149.8,96.3 L154,97.8 L158.5,100.7 L162,104.2 L165.4,107.6 L169,109.6 L172.4,111 L177,112.2 L182,113.7 L184,115.5 L183.7,117.8 L182,120.5 L180.2,122.4 L178.5,126 L176.7,128.5 L173,131 L169,132.8 L166.5,135 L164.6,137.2 L162.5,141 L159,142.5 L155.5,146.5 L151,150.2 L147.5,154.5 L143,160.5 L140.5,166 L139.7,170.6 L137.5,172.2 L135.7,170.6 L133.9,164 L133.7,160.5 L134.5,155 L135.7,150.3 L138,142 L139.3,135.4 L138.8,129 L137.6,125 L134,120.5 L129.8,116.3 L127.5,113 L126.3,109.3 L127.8,105.5 L130,102.5 L131.5,99 L134,96 Z" fill="#ffb400"/>
<!-- keyboard -->
<rect x="95" y="152.3" width="100.6" height="37.7" rx="4.5" fill="#ff4800"/>
<path d="M103.2,159.4h6v5.1h-6zM114.2,159.4h6v5.1h-6zM125.2,159.4h6v5.1h-6zM136.2,159.4h6v5.1h-6zM147.2,159.4h6v5.1h-6zM158.2,159.4h6v5.1h-6zM169.2,159.4h6v5.1h-6zM180.2,159.4h6v5.1h-6zM103.2,168.6h6v5.1h-6zM114.2,168.6h6v5.1h-6zM125.2,168.6h6v5.1h-6zM136.2,168.6h6v5.1h-6zM147.2,168.6h6v5.1h-6zM158.2,168.6h6v5.1h-6zM169.2,168.6h6v5.1h-6zM180.2,168.6h6v5.1h-6zM103.2,178.1h6v4.7h-6zM114.2,178.1h6v4.7h-6zM169.2,178.1h6v4.7h-6zM180.2,178.1h6v4.7h-6zM125.2,178.1h39v4.7h-39z" fill="#000"/>
<!-- south america over keyboard (lighter) -->
<path d="M156.5,152.3 L151,150.2 L147.5,154.5 L143,160.5 L140.5,166 L139.7,170.6 L137.5,172.2 L135.7,170.6 L133.9,164 L133.7,160.5 L134.5,155 L135.2,152.3 Z" fill="#ffd84a"/>
<path d="M124,152.3 L135.2,152.3 L134.6,156 L134,160 Z" fill="#ffdc00"/>
<!-- glasses -->
<g fill="none" stroke="#dc0000" stroke-linejoin="round">
<path d="M18,189 L18.8,198.5 C19.6,204 23,206 27.5,206 L34.5,205.6 C38.4,205 39.8,200.5 40.8,196 L41.8,190" stroke-width="3.4"/>
<path d="M47.6,190 L49.5,196 C51,201 54,206 60.5,206 C65.5,206 68,200 69.5,190" stroke-width="3.4"/>
<line x1="12.3" y1="187.6" x2="71" y2="188.2" stroke-width="4.4"/>
<line x1="14.3" y1="187" x2="14.3" y2="197.6" stroke-width="4"/>
</g>
<!-- extinguisher -->
<g>
<path d="M66.9,247 L66.9,206 C66.9,199.5 73.5,196.2 80.6,196.2 C87.5,196.2 94.3,199.5 94.3,206 L94.3,247 Q94.3,250.2 90.8,250.2 L70.4,250.2 Q66.9,250.2 66.9,247 Z" fill="#ff5a00"/>
<path d="M71.5,186.5 C65.5,189.5 60.8,195 58.6,203.5" fill="none" stroke="#ff5a00" stroke-width="3.2"/>
<path d="M73,190 C68.5,193.5 66,198 66.5,204" fill="none" stroke="#ff5a00" stroke-width="3.2"/>
<path d="M71.8,188.5 L79.6,188.5 L83,197.5 L74.5,198.5 Z" fill="#ff5a00"/>
<path d="M79,190.6 L95.8,189.2 L108,188 L108,193.8 L101,194.9 L79.5,195.6 Z" fill="#ff5a00"/>
<circle cx="75.3" cy="185.8" r="3.6" fill="none" stroke="#ff6400" stroke-width="3.4"/>
<path d="M71.6,182.4 A4.8,4.8 0 0 1 79,182.4" fill="none" stroke="#ffe23a" stroke-width="1.5"/>
<path d="M95.8,187.9 L108,187.2 L108,188.9 L95.8,189.6 Z" fill="#ffe23a"/>
</g>
<!-- knife -->
<path d="M65.8,289.6 L145,224.6 Q151,222.5 150.8,228.5 L148.2,233.9 Q140,245 127.3,258.3 L116,268.5 L110,267.5 L107.6,268.7 L99.4,278 L75.1,297.7 Q68,301 64.5,296 Q62.5,292 65.8,289.6 Z" fill="#a00000"/>
<path d="M15.9,112.9l6.2,6.2M15.9,119.1l6.2,-6.2M53.9,115.1l6.2,6.2M53.9,121.3l6.2,-6.2M91.1,117.4l6.2,6.2M91.1,123.6l6.2,-6.2M69.3,130.9l6.2,6.2M69.3,137.1l6.2,-6.2M86.3,135.2l6.2,6.2M86.3,141.4l6.2,-6.2M118.9,121.0l6.2,6.2M118.9,127.2l6.2,-6.2M174.5,117.6l6.2,6.2M174.5,123.8l6.2,-6.2M155.0,136.1l6.2,6.2M155.0,142.3l6.2,-6.2M47.5,149.3l6.2,6.2M47.5,155.5l6.2,-6.2M84.4,150.8l6.2,6.2M84.4,157.0l6.2,-6.2M86.3,163.9l6.2,6.2M86.3,170.1l6.2,-6.2M145.2,150.9l6.2,6.2M145.2,157.1l6.2,-6.2M135.0,157.8l6.2,6.2M135.0,164.0l6.2,-6.2M185.8,152.3l6.2,6.2M185.8,158.5l6.2,-6.2M123.2,170.2l6.2,6.2M123.2,176.4l6.2,-6.2M133.2,171.2l6.2,6.2M133.2,177.4l6.2,-6.2M14.5,185.4l6.2,6.2M14.5,191.6l6.2,-6.2M12.1,193.3l6.2,6.2M12.1,199.5l6.2,-6.2M57.0,202.0l6.2,6.2M57.0,208.2l6.2,-6.2M77.7,194.7l6.2,6.2M77.7,200.9l6.2,-6.2M87.7,203.0l6.2,6.2M87.7,209.2l6.2,-6.2M100.4,188.8l6.2,6.2M100.4,195.0l6.2,-6.2M124.4,249.2l6.2,6.2M124.4,255.4l6.2,-6.2M92.6,271.9l6.2,6.2M92.6,278.1l6.2,-6.2M95.2,270.6l6.2,6.2M95.2,276.8l6.2,-6.2" stroke="#fff" stroke-width="1.85" fill="none" stroke-linecap="butt"/>
</g>

<!-- chart -->
<rect x="290.3" y="40.3" width="393.9" height="271.7" fill="none" stroke="#969696" stroke-width="1"/>
<path d="M333.4,312.0v-4M333.4,40.3v4" stroke="#888" stroke-width="0.9" fill="none"/>
<text x="333.4" y="326.4" text-anchor="middle" class="tk">1150</text>
<path d="M379.3,312.0v-4M379.3,40.3v4" stroke="#888" stroke-width="0.9" fill="none"/>
<text x="379.3" y="326.4" text-anchor="middle" class="tk">1200</text>
<path d="M425.2,312.0v-4M425.2,40.3v4" stroke="#888" stroke-width="0.9" fill="none"/>
<text x="425.2" y="326.4" text-anchor="middle" class="tk">1250</text>
<path d="M471.1,312.0v-4M471.1,40.3v4" stroke="#888" stroke-width="0.9" fill="none"/>
<text x="471.1" y="326.4" text-anchor="middle" class="tk">1300</text>
<path d="M517.0,312.0v-4M517.0,40.3v4" stroke="#888" stroke-width="0.9" fill="none"/>
<text x="517.0" y="326.4" text-anchor="middle" class="tk">1350</text>
<path d="M562.9,312.0v-4M562.9,40.3v4" stroke="#888" stroke-width="0.9" fill="none"/>
<text x="562.9" y="326.4" text-anchor="middle" class="tk">1400</text>
<path d="M608.8,312.0v-4M608.8,40.3v4" stroke="#888" stroke-width="0.9" fill="none"/>
<text x="608.8" y="326.4" text-anchor="middle" class="tk">1450</text>
<path d="M654.7,312.0v-4M654.7,40.3v4" stroke="#888" stroke-width="0.9" fill="none"/>
<text x="654.7" y="326.4" text-anchor="middle" class="tk">1500</text>
<path d="M290.3,312.0h4M684.2,312.0h-4" stroke="#888" stroke-width="0.9" fill="none"/>
<text x="286.2" y="315.5" text-anchor="end" class="tk">0</text>
<path d="M290.3,286.4h4M684.2,286.4h-4" stroke="#888" stroke-width="0.9" fill="none"/>
<text x="286.2" y="289.9" text-anchor="end" class="tk">0.1</text>
<path d="M290.3,260.9h4M684.2,260.9h-4" stroke="#888" stroke-width="0.9" fill="none"/>
<text x="286.2" y="264.4" text-anchor="end" class="tk">0.2</text>
<path d="M290.3,235.3h4M684.2,235.3h-4" stroke="#888" stroke-width="0.9" fill="none"/>
<text x="286.2" y="238.8" text-anchor="end" class="tk">0.3</text>
<path d="M290.3,209.8h4M684.2,209.8h-4" stroke="#888" stroke-width="0.9" fill="none"/>
<text x="286.2" y="213.3" text-anchor="end" class="tk">0.4</text>
<path d="M290.3,184.2h4M684.2,184.2h-4" stroke="#888" stroke-width="0.9" fill="none"/>
<text x="286.2" y="187.7" text-anchor="end" class="tk">0.5</text>
<path d="M290.3,158.6h4M684.2,158.6h-4" stroke="#888" stroke-width="0.9" fill="none"/>
<text x="286.2" y="162.1" text-anchor="end" class="tk">0.6</text>
<path d="M290.3,133.1h4M684.2,133.1h-4" stroke="#888" stroke-width="0.9" fill="none"/>
<text x="286.2" y="136.6" text-anchor="end" class="tk">0.7</text>
<path d="M290.3,107.5h4M684.2,107.5h-4" stroke="#888" stroke-width="0.9" fill="none"/>
<text x="286.2" y="111.0" text-anchor="end" class="tk">0.8</text>
<path d="M290.3,82.0h4M684.2,82.0h-4" stroke="#888" stroke-width="0.9" fill="none"/>
<text x="286.2" y="85.5" text-anchor="end" class="tk">0.9</text>
<path d="M290.3,56.4h4M684.2,56.4h-4" stroke="#888" stroke-width="0.9" fill="none"/>
<text x="286.2" y="59.9" text-anchor="end" class="tk">1</text>
<g clip-path="url(#axclip)">
<g transform="translate(0,312)">
<use href="#s0" transform="scale(1,1.0000)" fill="#c8b400"/>
<use href="#s2" transform="scale(1,0.9940)" fill="#c020c0"/>
<use href="#s1" transform="scale(1,0.9879)" fill="#2838c8"/>
<use href="#s5" transform="scale(1,0.9817)" fill="#18c020"/>
<use href="#s1" transform="scale(1,0.9783)" fill="#f08018"/>
<use href="#s0" transform="scale(1,0.9717)" fill="#c8c010"/>
<use href="#s1" transform="scale(1,0.9681)" fill="#d030d0"/>
<use href="#s3" transform="scale(1,0.9622)" fill="#e01010"/>
<use href="#s4" transform="scale(1,0.9563)" fill="#f89020"/>
<use href="#s6" transform="scale(1,0.9509)" fill="#ff1a1a"/>
<use href="#s5" transform="scale(1,0.9460)" fill="#d030d0"/>
<use href="#s4" transform="scale(1,0.9405)" fill="#f08018"/>
<use href="#s3" transform="scale(1,0.9351)" fill="#30d0e0"/>
<use href="#s7" transform="scale(1,0.9312)" fill="#20b030"/>
<use href="#s6" transform="scale(1,0.9251)" fill="#18c0d8"/>
<use href="#s7" transform="scale(1,0.9199)" fill="#30d0e0"/>
<use href="#s4" transform="scale(1,0.9137)" fill="#e01010"/>
<use href="#s7" transform="scale(1,0.9097)" fill="#18c0d8"/>
<use href="#s3" transform="scale(1,0.9033)" fill="#c8c010"/>
<use href="#s5" transform="scale(1,0.8985)" fill="#18c020"/>
<use href="#s3" transform="scale(1,0.8941)" fill="#f08018"/>
<use href="#s5" transform="scale(1,0.8883)" fill="#e0d820"/>
<use href="#s5" transform="scale(1,0.8817)" fill="#e0d820"/>
<use href="#s7" transform="scale(1,0.8775)" fill="#1830c8"/>
<use href="#s6" transform="scale(1,0.8727)" fill="#30d0e0"/>
<use href="#s7" transform="scale(1,0.8667)" fill="#ff1a1a"/>
<use href="#s4" transform="scale(1,0.8626)" fill="#c020c0"/>
<use href="#s4" transform="scale(1,0.8555)" fill="#d8d818"/>
<use href="#s4" transform="scale(1,0.8518)" fill="#18c020"/>
<use href="#s4" transform="scale(1,0.8458)" fill="#d030d0"/>
<use href="#s3" transform="scale(1,0.8399)" fill="#18c020"/>
<use href="#s3" transform="scale(1,0.8364)" fill="#2020e0"/>
<use href="#s5" transform="scale(1,0.8307)" fill="#1830c8"/>
<use href="#s5" transform="scale(1,0.8242)" fill="#f89020"/>
<use href="#s6" transform="scale(1,0.8193)" fill="#f08018"/>
<use href="#s6" transform="scale(1,0.8153)" fill="#c020c0"/>
<use href="#s4" transform="scale(1,0.8096)" fill="#e01010"/>
<use href="#s3" transform="scale(1,0.8043)" fill="#18c0d8"/>
<use href="#s7" transform="scale(1,0.7989)" fill="#f02828"/>
<use href="#s9" transform="scale(1,0.7923)" fill="#20b030"/>
<use href="#s4" transform="scale(1,0.7870)" fill="#30d0e0"/>
<use href="#s3" transform="scale(1,0.7836)" fill="#e0d820"/>
<use href="#s7" transform="scale(1,0.7766)" fill="#1830c8"/>
<use href="#s5" transform="scale(1,0.7730)" fill="#3040f0"/>
<use href="#s4" transform="scale(1,0.7668)" fill="#c8c010"/>
<use href="#s7" transform="scale(1,0.7607)" fill="#1830c8"/>
<use href="#s5" transform="scale(1,0.7574)" fill="#30d030"/>
<use href="#s5" transform="scale(1,0.7513)" fill="#2020e0"/>
<use href="#s14" transform="scale(1,0.7467)" fill="#2020e0"/>
<use href="#s7" transform="scale(1,0.7398)" fill="#30d0e0"/>
<use href="#s7" transform="scale(1,0.7347)" fill="#3040f0"/>
<use href="#s7" transform="scale(1,0.7308)" fill="#30d0e0"/>
<use href="#s3" transform="scale(1,0.7243)" fill="#f02828"/>
<use href="#s11" transform="scale(1,0.7196)" fill="#18c0d8"/>
<use href="#s6" transform="scale(1,0.7149)" fill="#30d0e0"/>
<use href="#s11" transform="scale(1,0.7086)" fill="#e0d820"/>
<use href="#s9" transform="scale(1,0.7038)" fill="#c020c0"/>
<use href="#s4" transform="scale(1,0.6995)" fill="#30d030"/>
<use href="#s7" transform="scale(1,0.6925)" fill="#d8d818"/>
<use href="#s13" transform="scale(1,0.6887)" fill="#18c020"/>
<use href="#s7" transform="scale(1,0.6821)" fill="#18c020"/>
<use href="#s11" transform="scale(1,0.6787)" fill="#e8141c"/>
<use href="#s12" transform="scale(1,0.6730)" fill="#c8c010"/>
<use href="#s5" transform="scale(1,0.6666)" fill="#3040f0"/>
<use href="#s8" transform="scale(1,0.6618)" fill="#30d0e0"/>
<use href="#s14" transform="scale(1,0.6563)" fill="#c8c010"/>
<use href="#s8" transform="scale(1,0.6504)" fill="#d8d818"/>
<use href="#s10" transform="scale(1,0.6455)" fill="#30d030"/>
<use href="#s8" transform="scale(1,0.6406)" fill="#18c0d8"/>
<use href="#s8" transform="scale(1,0.6344)" fill="#2020e0"/>
<use href="#s8" transform="scale(1,0.6294)" fill="#f02828"/>
<use href="#s3" transform="scale(1,0.6260)" fill="#d8d818"/>
<use href="#s3" transform="scale(1,0.6192)" fill="#3040f0"/>
<use href="#s15" transform="scale(1,0.6136)" fill="#c8c010"/>
<use href="#s12" transform="scale(1,0.6099)" fill="#f08018"/>
<use href="#s10" transform="scale(1,0.6049)" fill="#d030d0"/>
<use href="#s15" transform="scale(1,0.5979)" fill="#18c0d8"/>
<use href="#s14" transform="scale(1,0.5944)" fill="#e01010"/>
<use href="#s9" transform="scale(1,0.5886)" fill="#18c020"/>
<use href="#s4" transform="scale(1,0.5824)" fill="#18c020"/>
<use href="#s9" transform="scale(1,0.5773)" fill="#c020c0"/>
<use href="#s11" transform="scale(1,0.5717)" fill="#30d030"/>
<use href="#s14" transform="scale(1,0.5665)" fill="#18c0d8"/>
<use href="#s13" transform="scale(1,0.5620)" fill="#18c0d8"/>
<use href="#s8" transform="scale(1,0.5576)" fill="#18c0d8"/>
<use href="#s8" transform="scale(1,0.5516)" fill="#c020c0"/>
<use href="#s12" transform="scale(1,0.5472)" fill="#c8c010"/>
<use href="#s11" transform="scale(1,0.5396)" fill="#f02828"/>
<use href="#s12" transform="scale(1,0.5358)" fill="#ff1a1a"/>
<use href="#s10" transform="scale(1,0.5300)" fill="#d030d0"/>
<use href="#s10" transform="scale(1,0.5260)" fill="#f08018"/>
<use href="#s9" transform="scale(1,0.5207)" fill="#3040f0"/>
<use href="#s14" transform="scale(1,0.5141)" fill="#e01010"/>
<use href="#s9" transform="scale(1,0.5081)" fill="#3040f0"/>
<use href="#s9" transform="scale(1,0.5039)" fill="#3040f0"/>
<use href="#s8" transform="scale(1,0.4978)" fill="#18c0d8"/>
<use href="#s18" transform="scale(1,0.4923)" fill="#ff1a1a"/>
<use href="#s10" transform="scale(1,0.4881)" fill="#3040f0"/>
<use href="#s11" transform="scale(1,0.4840)" fill="#1830c8"/>
<use href="#s19" transform="scale(1,0.4779)" fill="#1830c8"/>
<use href="#s10" transform="scale(1,0.4715)" fill="#3040f0"/>
<use href="#s20" transform="scale(1,0.4674)" fill="#ff1a1a"/>
<use href="#s19" transform="scale(1,0.4626)" fill="#c8c010"/>
<use href="#s23" transform="scale(1,0.4571)" fill="#f02828"/>
<use href="#s22" transform="scale(1,0.4508)" fill="#c8c010"/>
<use href="#s19" transform="scale(1,0.4457)" fill="#18c0d8"/>
<use href="#s14" transform="scale(1,0.4419)" fill="#30d0e0"/>
<use href="#s8" transform="scale(1,0.4348)" fill="#e01010"/>
<use href="#s18" transform="scale(1,0.4314)" fill="#ff1a1a"/>
<use href="#s12" transform="scale(1,0.4240)" fill="#2020e0"/>
<use href="#s15" transform="scale(1,0.4189)" fill="#30d030"/>
<use href="#s23" transform="scale(1,0.4149)" fill="#e8141c"/>
<use href="#s13" transform="scale(1,0.4099)" fill="#f08018"/>
<use href="#s8" transform="scale(1,0.4029)" fill="#1830c8"/>
<use href="#s18" transform="scale(1,0.3977)" fill="#e8141c"/>
<use href="#s9" transform="scale(1,0.3934)" fill="#e0d820"/>
<use href="#s11" transform="scale(1,0.3889)" fill="#2020e0"/>
<use href="#s20" transform="scale(1,0.3840)" fill="#e01010"/>
<use href="#s8" transform="scale(1,0.3773)" fill="#c020c0"/>
<use href="#s12" transform="scale(1,0.3724)" fill="#2020e0"/>
<use href="#s10" transform="scale(1,0.3669)" fill="#c020c0"/>
<use href="#s18" transform="scale(1,0.3627)" fill="#1830c8"/>
<use href="#s22" transform="scale(1,0.3562)" fill="#c8c010"/>
<use href="#s16" transform="scale(1,0.3510)" fill="#f89020"/>
<use href="#s16" transform="scale(1,0.3458)" fill="#ff1a1a"/>
<use href="#s9" transform="scale(1,0.3398)" fill="#c020c0"/>
<use href="#s16" transform="scale(1,0.3366)" fill="#e8141c"/>
<use href="#s20" transform="scale(1,0.3296)" fill="#e8141c"/>
<use href="#s17" transform="scale(1,0.3243)" fill="#c8c010"/>
<use href="#s12" transform="scale(1,0.3191)" fill="#e01010"/>
<use href="#s19" transform="scale(1,0.3152)" fill="#2020e0"/>
<use href="#s22" transform="scale(1,0.3089)" fill="#e01010"/>
<use href="#s16" transform="scale(1,0.3042)" fill="#20b030"/>
<use href="#s21" transform="scale(1,0.2986)" fill="#3040f0"/>
<use href="#s18" transform="scale(1,0.2929)" fill="#e8141c"/>
<use href="#s23" transform="scale(1,0.2871)" fill="#3040f0"/>
<use href="#s23" transform="scale(1,0.2839)" fill="#1830c8"/>
<use href="#s23" transform="scale(1,0.2786)" fill="#d8d818"/>
<use href="#s19" transform="scale(1,0.2727)" fill="#1830c8"/>
<use href="#s16" transform="scale(1,0.2675)" fill="#1830c8"/>
<use href="#s23" transform="scale(1,0.2618)" fill="#3040f0"/>
<use href="#s19" transform="scale(1,0.2561)" fill="#e01010"/>
<use href="#s20" transform="scale(1,0.2524)" fill="#30d0e0"/>
<use href="#s20" transform="scale(1,0.2462)" fill="#f02828"/>
<use href="#s23" transform="scale(1,0.2401)" fill="#e0d820"/>
<use href="#s18" transform="scale(1,0.2364)" fill="#e8141c"/>
<use href="#s22" transform="scale(1,0.2314)" fill="#1830c8"/>
<use href="#s21" transform="scale(1,0.2246)" fill="#c020c0"/>
<use href="#s21" transform="scale(1,0.2205)" fill="#e8141c"/>
<use href="#s22" transform="scale(1,0.2143)" fill="#f02828"/>
<use href="#s20" transform="scale(1,0.2093)" fill="#3040f0"/>
<use href="#s22" transform="scale(1,0.2034)" fill="#c020c0"/>
<use href="#s22" transform="scale(1,0.1985)" fill="#3040f0"/>
<use href="#s17" transform="scale(1,0.1934)" fill="#ff1a1a"/>
<use href="#s19" transform="scale(1,0.1893)" fill="#3040f0"/>
<use href="#s21" transform="scale(1,0.1837)" fill="#20b030"/>
<use href="#s16" transform="scale(1,0.1773)" fill="#c020c0"/>
<use href="#s16" transform="scale(1,0.1723)" fill="#d030d0"/>
<use href="#s20" transform="scale(1,0.1674)" fill="#e0d820"/>
<use href="#s18" transform="scale(1,0.1611)" fill="#30d030"/>
<use href="#s21" transform="scale(1,0.1565)" fill="#1830c8"/>
<use href="#s20" transform="scale(1,0.1512)" fill="#c020c0"/>
<use href="#s23" transform="scale(1,0.1455)" fill="#f08018"/>
<use href="#s18" transform="scale(1,0.1404)" fill="#30d030"/>
<use href="#s23" transform="scale(1,0.1356)" fill="#f08018"/>
<use href="#s21" transform="scale(1,0.1296)" fill="#d8d818"/>
<use href="#s19" transform="scale(1,0.1261)" fill="#2020e0"/>
<use href="#s21" transform="scale(1,0.1205)" fill="#f08018"/>
<use href="#s19" transform="scale(1,0.1137)" fill="#30d0e0"/>
<use href="#s19" transform="scale(1,0.1099)" fill="#e8141c"/>
<use href="#s22" transform="scale(1,0.1047)" fill="#c8c010"/>
<use href="#s20" transform="scale(1,0.0992)" fill="#18c0d8"/>
<use href="#s20" transform="scale(1,0.0935)" fill="#f89020"/>
<use href="#s19" transform="scale(1,0.0887)" fill="#e01010"/>
<use href="#s22" transform="scale(1,0.0830)" fill="#c020c0"/>
<use href="#s20" transform="scale(1,0.0786)" fill="#e8141c"/>
<use href="#s22" transform="scale(1,0.0714)" fill="#e0d820"/>
<use href="#s17" transform="scale(1,0.0675)" fill="#c020c0"/>
<use href="#s19" transform="scale(1,0.0629)" fill="#f02828"/>
<use href="#s18" transform="scale(1,0.0558)" fill="#c8c010"/>
<use href="#s17" transform="scale(1,0.0502)" fill="#f08018"/>
<use href="#s18" transform="scale(1,0.0450)" fill="#2020e0"/>
<use href="#s18" transform="scale(1,0.0397)" fill="#3040f0"/>
<use href="#s17" transform="scale(1,0.0365)" fill="#e01010"/>
<use href="#s19" transform="scale(1,0.0313)" fill="#c020c0"/>
<use href="#s16" transform="scale(1,0.0241)" fill="#e8141c"/>
<use href="#s20" transform="scale(1,0.0190)" fill="#18c0d8"/>
<use href="#s19" transform="scale(1,0.0142)" fill="#f08018"/>
<use href="#s22" transform="scale(1,0.0086)" fill="#1830c8"/>
<use href="#s19" transform="scale(1,0.0040)" fill="#e0d820"/>
<use href="#l3" transform="scale(1,0.9622)" stroke="#e01010"/>
<use href="#l15" transform="scale(1,0.6370)" stroke="#f02828"/>
<use href="#l22" transform="scale(1,0.1047)" stroke="#c8c010"/>
<use href="#l9" transform="scale(1,0.3398)" stroke="#c020c0"/>
<use href="#l17" transform="scale(1,0.1379)" stroke="#20b030"/>
<use href="#l16" transform="scale(1,0.3366)" stroke="#e8141c"/>
<use href="#l7" transform="scale(1,0.8867)" stroke="#e01010"/>
<use href="#l14" transform="scale(1,0.5638)" stroke="#20b030"/>
<use href="#l8" transform="scale(1,0.3773)" stroke="#c020c0"/>
<use href="#l17" transform="scale(1,0.1228)" stroke="#30d030"/>
<use href="#l6" transform="scale(1,0.6800)" stroke="#20b030"/>
<use href="#l18" transform="scale(1,0.2364)" stroke="#e8141c"/>
<use href="#l5" transform="scale(1,0.8429)" stroke="#c020c0"/>
<use href="#l23" transform="scale(1,0.1455)" stroke="#f08018"/>
<use href="#l19" transform="scale(1,0.2112)" stroke="#e8141c"/>
<use href="#l22" transform="scale(1,0.1433)" stroke="#f02828"/>
<use href="#l15" transform="scale(1,0.5226)" stroke="#18c0d8"/>
<use href="#l5" transform="scale(1,0.8985)" stroke="#18c020"/>
<use href="#l3" transform="scale(1,0.8043)" stroke="#18c0d8"/>
<use href="#l1" transform="scale(1,0.9783)" stroke="#f08018"/>
<use href="#l23" transform="scale(1,0.3278)" stroke="#e01010"/>
<use href="#l20" transform="scale(1,0.4799)" stroke="#c8c010"/>
<use href="#l5" transform="scale(1,0.8817)" stroke="#e0d820"/>
<use href="#l6" transform="scale(1,0.8476)" stroke="#f08018"/>
<use href="#l5" transform="scale(1,0.7645)" stroke="#18c020"/>
<use href="#l12" transform="scale(1,0.6745)" stroke="#20b030"/>
<use href="#l22" transform="scale(1,0.0086)" stroke="#1830c8"/>
<use href="#l23" transform="scale(1,0.2320)" stroke="#d8d818"/>
<use href="#l20" transform="scale(1,0.0223)" stroke="#d8d818"/>
<use href="#l20" transform="scale(1,0.2524)" stroke="#30d0e0"/>
<use href="#l11" transform="scale(1,0.5717)" stroke="#30d030"/>
<use href="#l14" transform="scale(1,0.4419)" stroke="#30d0e0"/>
<use href="#l11" transform="scale(1,0.6107)" stroke="#c8c010"/>
<use href="#l15" transform="scale(1,0.6275)" stroke="#f08018"/>
<use href="#l20" transform="scale(1,0.2813)" stroke="#d8d818"/>
<use href="#l20" transform="scale(1,0.5114)" stroke="#e8141c"/>
<use href="#l10" transform="scale(1,0.4715)" stroke="#3040f0"/>
<use href="#l7" transform="scale(1,0.7804)" stroke="#e0d820"/>
<use href="#l19" transform="scale(1,0.0887)" stroke="#e01010"/>
<use href="#l19" transform="scale(1,0.4626)" stroke="#c8c010"/>
<use href="#l16" transform="scale(1,0.3510)" stroke="#f89020"/>
<use href="#l16" transform="scale(1,0.0967)" stroke="#e0d820"/>
<use href="#l15" transform="scale(1,0.4592)" stroke="#2020e0"/>
<use href="#l20" transform="scale(1,0.2956)" stroke="#f89020"/>
<use href="#l6" transform="scale(1,0.8153)" stroke="#c020c0"/>
<use href="#l23" transform="scale(1,0.2871)" stroke="#3040f0"/>
<use href="#l5" transform="scale(1,0.6666)" stroke="#3040f0"/>
<use href="#l9" transform="scale(1,0.5377)" stroke="#3040f0"/>
<use href="#l9" transform="scale(1,0.7038)" stroke="#c020c0"/>
<use href="#l7" transform="scale(1,0.6543)" stroke="#18c020"/>
<use href="#l22" transform="scale(1,0.0714)" stroke="#e0d820"/>
<use href="#l5" transform="scale(1,0.9817)" stroke="#18c020"/>
<use href="#l19" transform="scale(1,0.1099)" stroke="#e8141c"/>
<use href="#l17" transform="scale(1,0.3024)" stroke="#18c020"/>
<use href="#l7" transform="scale(1,0.6925)" stroke="#d8d818"/>
<use href="#l3" transform="scale(1,0.7127)" stroke="#c020c0"/>
<use href="#l3" transform="scale(1,0.9033)" stroke="#c8c010"/>
<use href="#l16" transform="scale(1,0.0441)" stroke="#1830c8"/>
<use href="#l3" transform="scale(1,0.7433)" stroke="#c8c010"/>
<use href="#l17" transform="scale(1,0.0544)" stroke="#d8d818"/>
<use href="#l8" transform="scale(1,0.5576)" stroke="#18c0d8"/>
<use href="#l13" transform="scale(1,0.6221)" stroke="#c8c010"/>
<use href="#l7" transform="scale(1,0.9199)" stroke="#30d0e0"/>
<use href="#l12" transform="scale(1,0.6099)" stroke="#f08018"/>
<use href="#l5" transform="scale(1,0.7865)" stroke="#e0d820"/>
<use href="#l21" transform="scale(1,0.1808)" stroke="#d030d0"/>
<use href="#l6" transform="scale(1,0.9584)" stroke="#ff1a1a"/>
<use href="#l12" transform="scale(1,0.3191)" stroke="#e01010"/>
<use href="#l5" transform="scale(1,0.7584)" stroke="#c8c010"/>
<use href="#l10" transform="scale(1,0.6484)" stroke="#e8141c"/>
<use href="#l1" transform="scale(1,0.9971)" stroke="#e4151b"/>
<use href="#l20" transform="scale(1,0.0850)" stroke="#2020e0"/>
<use href="#l4" transform="scale(1,0.8626)" stroke="#c020c0"/>
<use href="#l10" transform="scale(1,0.6455)" stroke="#30d030"/>
<use href="#l4" transform="scale(1,0.5824)" stroke="#18c020"/>
<use href="#l18" transform="scale(1,0.2494)" stroke="#c8c010"/>
<use href="#l18" transform="scale(1,0.3627)" stroke="#1830c8"/>
<use href="#l6" transform="scale(1,0.7915)" stroke="#18c020"/>
<use href="#l5" transform="scale(1,0.7574)" stroke="#30d030"/>
<use href="#l11" transform="scale(1,0.6324)" stroke="#3040f0"/>
<use href="#l20" transform="scale(1,0.1534)" stroke="#3040f0"/>
<use href="#l22" transform="scale(1,0.0830)" stroke="#c020c0"/>
<use href="#l6" transform="scale(1,0.9804)" stroke="#ff1a1a"/>
<use href="#l21" transform="scale(1,0.4059)" stroke="#2020e0"/>
<use href="#l14" transform="scale(1,0.4541)" stroke="#e0d820"/>
<use href="#l5" transform="scale(1,0.7730)" stroke="#3040f0"/>
<use href="#l15" transform="scale(1,0.6584)" stroke="#f89020"/>
<use href="#l15" transform="scale(1,0.4189)" stroke="#30d030"/>
<use href="#l12" transform="scale(1,0.4212)" stroke="#ff1a1a"/>
<use href="#l19" transform="scale(1,0.0178)" stroke="#e0d820"/>
<use href="#l12" transform="scale(1,0.4123)" stroke="#30d0e0"/>
<use href="#l13" transform="scale(1,0.4099)" stroke="#f08018"/>
<use href="#l18" transform="scale(1,0.3802)" stroke="#c020c0"/>
<use href="#l22" transform="scale(1,0.1985)" stroke="#3040f0"/>
<use href="#l22" transform="scale(1,0.2390)" stroke="#e8141c"/>
<use href="#l16" transform="scale(1,0.3751)" stroke="#1830c8"/>
<use href="#l3" transform="scale(1,0.7243)" stroke="#f02828"/>
<use href="#l20" transform="scale(1,0.1512)" stroke="#c020c0"/>
<use href="#l12" transform="scale(1,0.5358)" stroke="#ff1a1a"/>
<use href="#l15" transform="scale(1,0.6162)" stroke="#c8c010"/>
<use href="#l20" transform="scale(1,0.2462)" stroke="#f02828"/>
<use href="#l22" transform="scale(1,0.1271)" stroke="#18c020"/>
<use href="#l3" transform="scale(1,0.8364)" stroke="#2020e0"/>
<use href="#l6" transform="scale(1,0.8113)" stroke="#c020c0"/>
<use href="#l17" transform="scale(1,0.2866)" stroke="#20b030"/>
<use href="#l14" transform="scale(1,0.5665)" stroke="#18c0d8"/>
<use href="#l3" transform="scale(1,0.6688)" stroke="#f89020"/>
<use href="#l16" transform="scale(1,0.0495)" stroke="#e8141c"/>
<use href="#l19" transform="scale(1,0.4457)" stroke="#18c0d8"/>
<use href="#l16" transform="scale(1,0.1773)" stroke="#c020c0"/>
<use href="#l4" transform="scale(1,0.7870)" stroke="#30d0e0"/>
<use href="#l3" transform="scale(1,0.9351)" stroke="#30d0e0"/>
<use href="#l9" transform="scale(1,0.5010)" stroke="#d8d818"/>
<use href="#l21" transform="scale(1,0.1837)" stroke="#20b030"/>
<use href="#l6" transform="scale(1,0.8602)" stroke="#e0d820"/>
<use href="#l22" transform="scale(1,0.2585)" stroke="#20b030"/>
<use href="#l13" transform="scale(1,0.5864)" stroke="#18c020"/>
<use href="#l18" transform="scale(1,0.0758)" stroke="#ff1a1a"/>
<use href="#l17" transform="scale(1,0.2018)" stroke="#30d0e0"/>
<use href="#l11" transform="scale(1,0.3490)" stroke="#e01010"/>
<use href="#l19" transform="scale(1,0.0142)" stroke="#f08018"/>
<use href="#l21" transform="scale(1,0.2431)" stroke="#2020e0"/>
<use href="#l5" transform="scale(1,0.7513)" stroke="#2020e0"/>
<use href="#l5" transform="scale(1,0.7965)" stroke="#e8141c"/>
<use href="#l2" transform="scale(1,0.9858)" stroke="#23b43a"/>
<use href="#l23" transform="scale(1,0.2839)" stroke="#1830c8"/>
<use href="#l11" transform="scale(1,0.5912)" stroke="#1830c8"/>
<use href="#l1" transform="scale(1,0.9681)" stroke="#d030d0"/>
<use href="#l6" transform="scale(1,0.9015)" stroke="#30d030"/>
<use href="#l4" transform="scale(1,0.7668)" stroke="#c8c010"/>
<use href="#l23" transform="scale(1,0.1602)" stroke="#d030d0"/>
<use href="#l8" transform="scale(1,0.3862)" stroke="#e01010"/>
<use href="#l22" transform="scale(1,0.1852)" stroke="#c8c010"/>
<use href="#l7" transform="scale(1,0.7607)" stroke="#1830c8"/>
<use href="#l19" transform="scale(1,0.1137)" stroke="#30d0e0"/>
<use href="#l14" transform="scale(1,0.5944)" stroke="#e01010"/>
<use href="#l10" transform="scale(1,0.5320)" stroke="#3040f0"/>
<use href="#l9" transform="scale(1,0.6023)" stroke="#c020c0"/>
<use href="#l7" transform="scale(1,0.8775)" stroke="#1830c8"/>
<use href="#l21" transform="scale(1,0.2205)" stroke="#e8141c"/>
<use href="#l18" transform="scale(1,0.0450)" stroke="#2020e0"/>
<use href="#l5" transform="scale(1,0.9460)" stroke="#d030d0"/>
<use href="#l7" transform="scale(1,0.8667)" stroke="#ff1a1a"/>
<use href="#l16" transform="scale(1,0.0074)" stroke="#e8141c"/>
<use href="#l19" transform="scale(1,0.3152)" stroke="#2020e0"/>
<use href="#l19" transform="scale(1,0.1321)" stroke="#d8d818"/>
<use href="#l17" transform="scale(1,0.0365)" stroke="#e01010"/>
<use href="#l22" transform="scale(1,0.2143)" stroke="#f02828"/>
<use href="#l3" transform="scale(1,0.9705)" stroke="#ff1a1a"/>
<use href="#l12" transform="scale(1,0.5285)" stroke="#c020c0"/>
<use href="#l11" transform="scale(1,0.4840)" stroke="#1830c8"/>
<use href="#l16" transform="scale(1,0.1648)" stroke="#f08018"/>
<use href="#l11" transform="scale(1,0.6787)" stroke="#e8141c"/>
<use href="#l22" transform="scale(1,0.3089)" stroke="#e01010"/>
<use href="#l21" transform="scale(1,0.3649)" stroke="#e0d820"/>
<use href="#l0" transform="scale(1,0.9717)" stroke="#c8c010"/>
<use href="#l17" transform="scale(1,0.0675)" stroke="#c020c0"/>
<use href="#l21" transform="scale(1,0.2246)" stroke="#c020c0"/>
<use href="#l16" transform="scale(1,0.1723)" stroke="#d030d0"/>
<use href="#l21" transform="scale(1,0.2986)" stroke="#3040f0"/>
<use href="#l14" transform="scale(1,0.6563)" stroke="#c8c010"/>
<use href="#l18" transform="scale(1,0.2929)" stroke="#e8141c"/>
<use href="#l23" transform="scale(1,0.3390)" stroke="#f08018"/>
<use href="#l18" transform="scale(1,0.0397)" stroke="#3040f0"/>
<use href="#l12" transform="scale(1,0.4338)" stroke="#d030d0"/>
<use href="#l16" transform="scale(1,0.3458)" stroke="#ff1a1a"/>
<use href="#l7" transform="scale(1,0.8705)" stroke="#f02828"/>
<use href="#l11" transform="scale(1,0.6056)" stroke="#d8d818"/>
<use href="#l19" transform="scale(1,0.1261)" stroke="#2020e0"/>
<use href="#l3" transform="scale(1,0.8941)" stroke="#f08018"/>
<use href="#l9" transform="scale(1,0.5039)" stroke="#3040f0"/>
<use href="#l6" transform="scale(1,0.8334)" stroke="#f89020"/>
<use href="#l6" transform="scale(1,0.8727)" stroke="#30d0e0"/>
<use href="#l9" transform="scale(1,0.4267)" stroke="#c020c0"/>
<use href="#l7" transform="scale(1,0.7009)" stroke="#c020c0"/>
<use href="#l9" transform="scale(1,0.3934)" stroke="#e0d820"/>
<use href="#l5" transform="scale(1,0.8228)" stroke="#18c020"/>
<use href="#l5" transform="scale(1,0.8242)" stroke="#f89020"/>
<use href="#l21" transform="scale(1,0.0897)" stroke="#18c020"/>
<use href="#l6" transform="scale(1,0.8160)" stroke="#c020c0"/>
<use href="#l15" transform="scale(1,0.6136)" stroke="#c8c010"/>
<use href="#l4" transform="scale(1,0.8096)" stroke="#e01010"/>
<use href="#l14" transform="scale(1,0.5141)" stroke="#e01010"/>
<use href="#l7" transform="scale(1,0.7989)" stroke="#f02828"/>
<use href="#l17" transform="scale(1,0.2760)" stroke="#f08018"/>
<use href="#l13" transform="scale(1,0.5488)" stroke="#c8c010"/>
<use href="#l8" transform="scale(1,0.6344)" stroke="#2020e0"/>
<use href="#l11" transform="scale(1,0.3889)" stroke="#2020e0"/>
<use href="#l9" transform="scale(1,0.5446)" stroke="#f02828"/>
<use href="#l21" transform="scale(1,0.2180)" stroke="#18c0d8"/>
<use href="#l18" transform="scale(1,0.3977)" stroke="#e8141c"/>
<use href="#l20" transform="scale(1,0.2093)" stroke="#3040f0"/>
<use href="#l17" transform="scale(1,0.0502)" stroke="#f08018"/>
<use href="#l3" transform="scale(1,0.8399)" stroke="#18c020"/>
<use href="#l21" transform="scale(1,0.2223)" stroke="#f02828"/>
<use href="#l20" transform="scale(1,0.0935)" stroke="#f89020"/>
<use href="#l9" transform="scale(1,0.5207)" stroke="#3040f0"/>
<use href="#l17" transform="scale(1,0.3221)" stroke="#e0d820"/>
<use href="#l6" transform="scale(1,0.7149)" stroke="#30d0e0"/>
<use href="#l7" transform="scale(1,0.9320)" stroke="#e01010"/>
<use href="#l4" transform="scale(1,0.8555)" stroke="#d8d818"/>
<use href="#l4" transform="scale(1,0.9405)" stroke="#f08018"/>
<use href="#l23" transform="scale(1,0.1692)" stroke="#18c020"/>
<use href="#l6" transform="scale(1,0.8193)" stroke="#f08018"/>
<use href="#l3" transform="scale(1,0.9493)" stroke="#ff1a1a"/>
<use href="#l21" transform="scale(1,0.1296)" stroke="#d8d818"/>
<use href="#l17" transform="scale(1,0.1177)" stroke="#18c0d8"/>
<use href="#l22" transform="scale(1,0.1060)" stroke="#c020c0"/>
<use href="#l18" transform="scale(1,0.1404)" stroke="#30d030"/>
<use href="#l18" transform="scale(1,0.1611)" stroke="#30d030"/>
<use href="#l16" transform="scale(1,0.3042)" stroke="#20b030"/>
<use href="#l12" transform="scale(1,0.6730)" stroke="#c8c010"/>
<use href="#l1" transform="scale(1,0.9744)" stroke="#30d0e0"/>
<use href="#l9" transform="scale(1,0.5591)" stroke="#30d0e0"/>
<use href="#l20" transform="scale(1,0.1674)" stroke="#e0d820"/>
<use href="#l3" transform="scale(1,0.7224)" stroke="#e0d820"/>
<use href="#l22" transform="scale(1,0.2034)" stroke="#c020c0"/>
<use href="#l20" transform="scale(1,0.1911)" stroke="#18c020"/>
<use href="#l15" transform="scale(1,0.2646)" stroke="#e01010"/>
<use href="#l22" transform="scale(1,0.2314)" stroke="#1830c8"/>
<use href="#l3" transform="scale(1,0.8639)" stroke="#1830c8"/>
<use href="#l23" transform="scale(1,0.2786)" stroke="#d8d818"/>
<use href="#l23" transform="scale(1,0.2618)" stroke="#3040f0"/>
<use href="#l23" transform="scale(1,0.3062)" stroke="#1830c8"/>
<use href="#l8" transform="scale(1,0.4029)" stroke="#1830c8"/>
<use href="#l13" transform="scale(1,0.4709)" stroke="#e8141c"/>
<use href="#l5" transform="scale(1,0.7540)" stroke="#2020e0"/>
<use href="#l13" transform="scale(1,0.6887)" stroke="#18c020"/>
<use href="#l3" transform="scale(1,0.7836)" stroke="#e0d820"/>
<use href="#l18" transform="scale(1,0.4161)" stroke="#3040f0"/>
<use href="#l7" transform="scale(1,0.7766)" stroke="#1830c8"/>
<use href="#l4" transform="scale(1,0.8380)" stroke="#18c020"/>
<use href="#l9" transform="scale(1,0.5886)" stroke="#18c020"/>
<use href="#l7" transform="scale(1,0.8950)" stroke="#d030d0"/>
<use href="#l19" transform="scale(1,0.4779)" stroke="#1830c8"/>
<use href="#l10" transform="scale(1,0.5300)" stroke="#d030d0"/>
<use href="#l17" transform="scale(1,0.2551)" stroke="#18c020"/>
<use href="#l9" transform="scale(1,0.7923)" stroke="#20b030"/>
<use href="#l19" transform="scale(1,0.0122)" stroke="#e8141c"/>
<use href="#l17" transform="scale(1,0.3243)" stroke="#c8c010"/>
<use href="#l23" transform="scale(1,0.4571)" stroke="#f02828"/>
<use href="#l0" transform="scale(1,0.9915)" stroke="#d0c010"/>
<use href="#l6" transform="scale(1,0.8744)" stroke="#30d0e0"/>
<use href="#l8" transform="scale(1,0.6618)" stroke="#30d0e0"/>
<use href="#l17" transform="scale(1,0.2688)" stroke="#e0d820"/>
<use href="#l23" transform="scale(1,0.3128)" stroke="#e0d820"/>
<use href="#l19" transform="scale(1,0.2561)" stroke="#e01010"/>
<use href="#l12" transform="scale(1,0.4486)" stroke="#20b030"/>
<use href="#l6" transform="scale(1,0.7069)" stroke="#18c0d8"/>
<use href="#l20" transform="scale(1,0.3840)" stroke="#e01010"/>
<use href="#l4" transform="scale(1,0.8280)" stroke="#d030d0"/>
<use href="#l22" transform="scale(1,0.0382)" stroke="#f02828"/>
<use href="#l21" transform="scale(1,0.2076)" stroke="#e01010"/>
<use href="#l15" transform="scale(1,0.4750)" stroke="#c8c010"/>
<use href="#l18" transform="scale(1,0.3534)" stroke="#c8c010"/>
<use href="#l23" transform="scale(1,0.0703)" stroke="#e8141c"/>
<use href="#l22" transform="scale(1,0.3562)" stroke="#c8c010"/>
<use href="#l6" transform="scale(1,0.8529)" stroke="#f08018"/>
<use href="#l7" transform="scale(1,0.6821)" stroke="#18c020"/>
<use href="#l21" transform="scale(1,0.1205)" stroke="#f08018"/>
<use href="#l7" transform="scale(1,0.9097)" stroke="#18c0d8"/>
<use href="#l19" transform="scale(1,0.1893)" stroke="#3040f0"/>
<use href="#l9" transform="scale(1,0.5950)" stroke="#2020e0"/>
<use href="#l3" transform="scale(1,0.6260)" stroke="#d8d818"/>
<use href="#l14" transform="scale(1,0.5698)" stroke="#c8c010"/>
<use href="#l6" transform="scale(1,0.6434)" stroke="#f02828"/>
<use href="#l3" transform="scale(1,0.9380)" stroke="#f89020"/>
<use href="#l12" transform="scale(1,0.5472)" stroke="#c8c010"/>
<use href="#l8" transform="scale(1,0.6294)" stroke="#f02828"/>
<use href="#l20" transform="scale(1,0.0325)" stroke="#c8c010"/>
<use href="#l16" transform="scale(1,0.0241)" stroke="#e8141c"/>
<use href="#l19" transform="scale(1,0.2727)" stroke="#1830c8"/>
<use href="#l23" transform="scale(1,0.0644)" stroke="#d8d818"/>
<use href="#l22" transform="scale(1,0.0013)" stroke="#e01010"/>
<use href="#l4" transform="scale(1,0.9137)" stroke="#e01010"/>
<use href="#l4" transform="scale(1,0.9110)" stroke="#c8c010"/>
<use href="#l12" transform="scale(1,0.3724)" stroke="#2020e0"/>
<use href="#l20" transform="scale(1,0.0190)" stroke="#18c0d8"/>
<use href="#l11" transform="scale(1,0.4917)" stroke="#f02828"/>
<use href="#l7" transform="scale(1,0.9432)" stroke="#f02828"/>
<use href="#l22" transform="scale(1,0.4508)" stroke="#c8c010"/>
<use href="#l14" transform="scale(1,0.6638)" stroke="#18c020"/>
<use href="#l11" transform="scale(1,0.4436)" stroke="#18c020"/>
<use href="#l4" transform="scale(1,0.9563)" stroke="#f89020"/>
<use href="#l18" transform="scale(1,0.2273)" stroke="#d030d0"/>
<use href="#l9" transform="scale(1,0.5065)" stroke="#2020e0"/>
<use href="#l13" transform="scale(1,0.5620)" stroke="#18c0d8"/>
<use href="#l3" transform="scale(1,0.7371)" stroke="#3040f0"/>
<use href="#l13" transform="scale(1,0.3957)" stroke="#c020c0"/>
<use href="#l16" transform="scale(1,0.2675)" stroke="#1830c8"/>
<use href="#l14" transform="scale(1,0.4969)" stroke="#3040f0"/>
<use href="#l3" transform="scale(1,0.7340)" stroke="#30d0e0"/>
<use href="#l10" transform="scale(1,0.3585)" stroke="#ff1a1a"/>
<use href="#l7" transform="scale(1,0.9312)" stroke="#20b030"/>
<use href="#l3" transform="scale(1,0.8811)" stroke="#1830c8"/>
<use href="#l23" transform="scale(1,0.4149)" stroke="#e8141c"/>
<use href="#l15" transform="scale(1,0.5809)" stroke="#2020e0"/>
<use href="#l8" transform="scale(1,0.5182)" stroke="#30d030"/>
<use href="#l8" transform="scale(1,0.4855)" stroke="#30d030"/>
<use href="#l11" transform="scale(1,0.7180)" stroke="#e0d820"/>
<use href="#l23" transform="scale(1,0.2401)" stroke="#e0d820"/>
<use href="#l5" transform="scale(1,0.8307)" stroke="#1830c8"/>
<use href="#l20" transform="scale(1,0.0269)" stroke="#2020e0"/>
<use href="#l10" transform="scale(1,0.5260)" stroke="#f08018"/>
<use href="#l5" transform="scale(1,0.8883)" stroke="#e0d820"/>
<use href="#l3" transform="scale(1,0.6192)" stroke="#3040f0"/>
<use href="#l19" transform="scale(1,0.1475)" stroke="#1830c8"/>
<use href="#l2" transform="scale(1,0.9940)" stroke="#c020c0"/>
<use href="#l23" transform="scale(1,0.0794)" stroke="#d030d0"/>
<use href="#l7" transform="scale(1,0.7692)" stroke="#30d030"/>
<use href="#l11" transform="scale(1,0.4011)" stroke="#30d0e0"/>
<use href="#l8" transform="scale(1,0.5516)" stroke="#c020c0"/>
<use href="#l18" transform="scale(1,0.4923)" stroke="#ff1a1a"/>
<use href="#l10" transform="scale(1,0.4881)" stroke="#3040f0"/>
<use href="#l19" transform="scale(1,0.0629)" stroke="#f02828"/>
<use href="#l7" transform="scale(1,0.9536)" stroke="#f89020"/>
<use href="#l10" transform="scale(1,0.3669)" stroke="#c020c0"/>
<use href="#l23" transform="scale(1,0.2918)" stroke="#ff1a1a"/>
<use href="#l23" transform="scale(1,0.1356)" stroke="#f08018"/>
<use href="#l7" transform="scale(1,0.7398)" stroke="#30d0e0"/>
<use href="#l15" transform="scale(1,0.5543)" stroke="#d8d818"/>
<use href="#l4" transform="scale(1,0.7754)" stroke="#f02828"/>
<use href="#l5" transform="scale(1,0.8900)" stroke="#18c0d8"/>
<use href="#l4" transform="scale(1,0.8458)" stroke="#d030d0"/>
<use href="#l15" transform="scale(1,0.5739)" stroke="#30d030"/>
<use href="#l20" transform="scale(1,0.3899)" stroke="#c8c010"/>
<use href="#l20" transform="scale(1,0.1118)" stroke="#f89020"/>
<use href="#l3" transform="scale(1,0.7480)" stroke="#2020e0"/>
<use href="#l4" transform="scale(1,0.9161)" stroke="#2020e0"/>
<use href="#l7" transform="scale(1,0.9284)" stroke="#f08018"/>
<use href="#l16" transform="scale(1,0.4376)" stroke="#18c020"/>
<use href="#l3" transform="scale(1,0.8056)" stroke="#d8d818"/>
<use href="#l17" transform="scale(1,0.1934)" stroke="#ff1a1a"/>
<use href="#l6" transform="scale(1,0.9642)" stroke="#e01010"/>
<use href="#l11" transform="scale(1,0.7086)" stroke="#e0d820"/>
<use href="#l6" transform="scale(1,0.9251)" stroke="#18c0d8"/>
<use href="#l20" transform="scale(1,0.4674)" stroke="#ff1a1a"/>
<use href="#l3" transform="scale(1,0.8024)" stroke="#e8141c"/>
<use href="#l16" transform="scale(1,0.1966)" stroke="#3040f0"/>
<use href="#l7" transform="scale(1,0.9216)" stroke="#f89020"/>
<use href="#l19" transform="scale(1,0.1004)" stroke="#c020c0"/>
<use href="#l8" transform="scale(1,0.4348)" stroke="#e01010"/>
<use href="#l10" transform="scale(1,0.3427)" stroke="#30d0e0"/>
<use href="#l10" transform="scale(1,0.6967)" stroke="#e8141c"/>
<use href="#l14" transform="scale(1,0.7467)" stroke="#2020e0"/>
<use href="#l19" transform="scale(1,0.1761)" stroke="#e01010"/>
<use href="#l18" transform="scale(1,0.0558)" stroke="#c8c010"/>
<use href="#l21" transform="scale(1,0.1565)" stroke="#1830c8"/>
<use href="#l4" transform="scale(1,0.8518)" stroke="#18c020"/>
<use href="#l15" transform="scale(1,0.5979)" stroke="#18c0d8"/>
<use href="#l8" transform="scale(1,0.6406)" stroke="#18c0d8"/>
<use href="#l4" transform="scale(1,0.6995)" stroke="#30d030"/>
<use href="#l17" transform="scale(1,0.3702)" stroke="#f89020"/>
<use href="#l3" transform="scale(1,0.6860)" stroke="#e8141c"/>
<use href="#l7" transform="scale(1,0.7347)" stroke="#3040f0"/>
<use href="#l9" transform="scale(1,0.5773)" stroke="#c020c0"/>
<use href="#l5" transform="scale(1,0.7272)" stroke="#e01010"/>
<use href="#l20" transform="scale(1,0.3296)" stroke="#e8141c"/>
<use href="#l11" transform="scale(1,0.7196)" stroke="#18c0d8"/>
<use href="#l7" transform="scale(1,0.9075)" stroke="#1830c8"/>
<use href="#l12" transform="scale(1,0.3162)" stroke="#2020e0"/>
<use href="#l10" transform="scale(1,0.6049)" stroke="#d030d0"/>
<use href="#l1" transform="scale(1,0.9879)" stroke="#2838c8"/>
<use href="#l7" transform="scale(1,0.7308)" stroke="#30d0e0"/>
<use href="#l8" transform="scale(1,0.4636)" stroke="#e8141c"/>
<use href="#l20" transform="scale(1,0.0786)" stroke="#e8141c"/>
<use href="#l9" transform="scale(1,0.5081)" stroke="#3040f0"/>
<use href="#l18" transform="scale(1,0.4314)" stroke="#ff1a1a"/>
<use href="#l19" transform="scale(1,0.0313)" stroke="#c020c0"/>
<use href="#l11" transform="scale(1,0.5396)" stroke="#f02828"/>
<use href="#l19" transform="scale(1,0.0588)" stroke="#18c020"/>
<use href="#l6" transform="scale(1,0.9509)" stroke="#ff1a1a"/>
<use href="#l11" transform="scale(1,0.3331)" stroke="#e0d820"/>
<use href="#l19" transform="scale(1,0.0040)" stroke="#e0d820"/>
<use href="#l8" transform="scale(1,0.4978)" stroke="#18c0d8"/>
<use href="#l12" transform="scale(1,0.4240)" stroke="#2020e0"/>
<use href="#l20" transform="scale(1,0.0992)" stroke="#18c0d8"/>
<use href="#l10" transform="scale(1,0.6917)" stroke="#e0d820"/>
<use href="#l8" transform="scale(1,0.6504)" stroke="#d8d818"/>
<use href="#l0" transform="scale(1,1.0000)" stroke="#c8b400"/>
</g>
<path d="M462.5,311.5 464,311.3 466,309.6 469,305.3 470,303.1 472,296.3 474.5,285.3 477.5,266.7 480,254.1 482,250.2 484,247.6 486.5,245.3 487.5,243.7 488,240.9 489.5,223 492,200.7 494.5,185.2 500,139.7 502.5,110.5 503,108.2 504.5,107.7 505.5,107.9 507,109.7 507.5,109.4 508.5,107.4 512.5,96.8 513.5,95 514,94.7 515,97 516.5,104.1 521.5,138 524.5,153.7 528,166 531,174.1 536.5,187 539.5,196.8 543.5,217.1 548,243.5 550.5,253.6 555.5,271.5 560,283.7 563.5,291.5 565.5,295.1 568.5,298.5 571,300.6 573,301.6 577.5,302.9" fill="none" stroke="#d0c820" stroke-width="1"/>
<path d="M462.5,311.5 464,311.3 466,309.6 469,305.4 470,303.1 472,296.4 474.5,285.5 477.5,267 480,254.5 482,250.7 484,248.2 486.5,245.9 487.5,244.3 488,241.5 491,210 492,201.6 494.5,185.6 499.5,141.9 502.5,107.1 503,104.8 504.5,104.1 505.5,104.4 507,106 507.5,105.7 508.5,103.6 512.5,92.5 513.5,90.6 514,90.3 514.5,91 515,92.6 516.5,99.7 522,137.2 525,153.1 528.5,165.5 531.5,173.8 536.5,186.3 539.5,196.5 544,219.7 547.5,241 550,251.7 555,269.8 559.5,282.6 563.5,291.5 565.5,295.2 568.5,298.6 571,300.7 573,301.7 577.5,302.9" fill="none" stroke="#70d8e8" stroke-width="1"/>
<path d="M462.5,311.5 464,311.3 466,309.6 469,305.3 470,303.1 472,296.2 474.5,285.3 477.5,266.7 480,254.1 482,250.3 484,247.7 486.5,245.4 487.5,243.8 488,241 491,209.3 495,179.3 499.5,135.5 502.5,98.8 503,96.4 504.5,95.8 505.5,96.1 507,97.9 507.5,97.6 508.5,95.5 512.5,84.2 513.5,82.4 514,82.1 514.5,82.8 515,84.5 516.5,92 522.5,134.8 525.5,151.4 529,164.6 536.5,185.9 539.5,196.6 544,219.9 547.5,241.2 549.5,249.9 554.5,268.2 559,281.4 563.5,291.5 565.5,295.2 568.5,298.6 571,300.7 573,301.7 577.5,302.9" fill="none" stroke="#f0a060" stroke-width="1"/>
<path d="M462.5,311.5 464,311.3 466,309.6 469,305.3 470,303 472,296.1 474.5,285.1 477.5,266.4 480,253.7 482,249.8 484,247.2 486.5,244.9 487.5,243.2 488,240.4 491,208.5 495,177.1 499.5,129 502.5,90.1 503,87.6 504.5,87 505.5,87.3 507,89.2 507.5,88.8 508.5,86.7 512.5,75 513.5,73 514,72.7 514.5,73.4 515,75.2 516.5,83 523,131.5 525.5,146.4 529.5,162.7 536.5,184.3 539.5,195.7 544,219.2 547.5,240.7 549.5,249.4 553.5,264.3 556,272.8 558.5,279.9 562.5,289.2 565,294.2 568,298 571,300.6 573,301.6 577.5,302.9" fill="none" stroke="#3040c0" stroke-width="1"/>
<path d="M462.5,311.5 464,311.3 466,309.6 469,305.3 470,303.1 472,296.2 474.5,285.2 477.5,266.5 480,253.8 482,249.9 484,247.2 486.5,244.9 487.5,243.3 488,240.5 490.5,213 495,176.9 499.5,127.4 502.5,88 503,85.5 504.5,84.9 505.5,85.2 507,87.1 507.5,86.8 508.5,84.6 512.5,72.9 513.5,70.9 514,70.6 514.5,71.3 515,73.1 516.5,81 523,130.2 526,147.9 530,164.1 536.5,184.4 539.5,196 544,219.5 547.5,240.9 553,262.7 555.5,271.4 558,278.7 561,286 565,294.3 568,298.1 571,300.7 573,301.7 577.5,302.9" fill="none" stroke="#f09030" stroke-width="1"/>
<path d="M462.5,311.5 464,311.3 466,309.6 469,305.3 470,303 472,296.2 474.5,285.2 477.5,266.5 480,253.8 482,250 484,247.4 486.5,245.1 487.5,243.4 488,240.6 490.5,213.2 495,176.4 499.5,124.3 502.5,83.6 503,81.1 504.5,80.5 505.5,80.8 507,82.8 507.5,82.4 508.5,80.2 512.5,68.2 513.5,66.2 514,65.9 514.5,66.6 515,68.5 516.5,76.5 523,127.1 526,145.8 530,162.8 536.5,184.2 539.5,196.1 544,219.6 547.5,241 550.5,253.5 554.5,268 557,275.9 560,283.7 564.5,293.4 567,296.9 570.5,300.3 573,301.6 577.5,302.9" fill="none" stroke="#20a890" stroke-width="1"/>
<path d="M462.5,311.5 464,311.3 466,309.6 469,305.3 470,303.1 472,296.3 474.5,285.3 477.5,266.8 480,254.2 482,250.4 484,247.8 486.5,245.5 487.5,243.9 488,241.1 490.5,213.8 494.5,181.6 499,126.1 502.5,76.7 503,74.1 504.5,73.4 505,73.3 505.5,73.7 507,75.7 507.5,75.3 508.5,73 512.5,60.4 513.5,58.3 514,58 514.5,58.7 515,60.6 516.5,68.8 523.5,125.4 526.5,144.5 530.5,162.3 536.5,183.4 539.5,196 544,219.6 547,238.4 550,251.6 554.5,268 557,276 560,283.7 564.5,293.4 567,296.9 570.5,300.3 573,301.6 577.5,302.9" fill="none" stroke="#e02020" stroke-width="1"/>
<path d="M462.5,311.5 464,311.3 466,309.6 469,305.3 470,303 472,296.2 474.5,285.1 477.5,266.4 480,253.7 482,249.8 484,247.2 486.5,244.8 487.5,243.2 488,240.4 490.5,212.9 494.5,180.3 499,123.8 502.5,73.9 503,71.3 504.5,70.7 505.5,71 507,73.2 507.5,72.8 508.5,70.6 512.5,58.3 513.5,56.3 514,56 514.5,56.8 515,58.7 516.5,67.1 523.5,124.7 526.5,144.2 530.5,162.3 536.5,183.7 539.5,196.3 544,219.9 547,238.6 549.5,249.9 556.5,274.6 560,283.8 564.5,293.5 567,297 570.5,300.3 573,301.7 577.5,302.9" fill="none" stroke="#e83880" stroke-width="1"/>
<path d="M462.5,311.5 464,311.3 466,309.6 469,305.4 470,303.1 472,296.4 474.5,285.5 477.5,267 480,254.4 482,250.6 484,248 486.5,245.7 487.5,244.1 488,241.3 490.5,214.1 494.5,181.7 499,124.8 502.5,74.7 503,72 504.5,71.3 505,71.2 505.5,71.6 507,73.5 507.5,73.1 508.5,70.8 512.5,58.1 513.5,55.9 514,55.6 514.5,56.3 515,58.2 516.5,66.5 523.5,123.9 526.5,143.5 530.5,161.8 536.5,183.4 539.5,196.1 544,219.7 547,238.5 549.5,249.8 556.5,274.6 560,283.7 564.5,293.5 567,297 570.5,300.3 573,301.6 577.5,302.9" fill="none" stroke="#b040c0" stroke-width="1"/>
<path d="M462.5,311.5 464,311.3 466,309.6 469,305.4 470,303.1 472,296.3 474.5,285.4 477.5,267 480,254.5 482,250.7 484,248.1 486.5,245.9 487.5,244.3 488,241.5 490,218.9 494.5,180.8 499,118.4 502.5,64.6 503,61.8 504.5,61 505,60.9 505.5,61.3 507,63.3 507.5,62.9 508.5,60.4 512.5,47 513.5,44.7 514,44.4 514.5,45.1 515,47.1 516.5,55.7 521.5,97.1 524,120.7 526.5,138.1 530.5,158.3 536.5,181.9 539.5,195.5 544.5,222.1 547,238 549,247.3 556.5,274.2 559.5,282.3 564,292.3 566,295.6 570.5,300.2 573,301.5 577.5,302.8" fill="none" stroke="#e8203a" stroke-width="1"/>
<path d="M462.5,311.5 464,311.3 466,309.6 469,305.4 470,303.1 472,296.3 474.5,285.3 477.5,266.7 480,254 482,250.2 484,247.5 486.5,245.2 487.5,243.6 488,240.8 490,217.9 494.5,178.9 502.5,57.6 503,54.7 504.5,53.9 505,53.8 505.5,54.2 507,56.3 507.5,55.9 508.5,53.3 512.5,39.6 513.5,37.3 514,37 514.5,37.7 515,39.8 516.5,48.6 521.5,91.4 524,116.2 527,137.6 531,158.1 536.5,180.7 539,192.2 544,218.9 547,237.8 549,247.2 556.5,274.3 559.5,282.4 564,292.4 566,295.7 570.5,300.2 573,301.6 577.5,302.9" fill="none" stroke="#c4c41c" stroke-width="1"/>
<path d="M656,250.9 659.5,236.4 661.5,226.4 664.5,205.7 667,184.3 668.5,177.7 670.5,171.8 672.5,167.1 674.5,163.7 680,155.6 682.5,150.7 685,144.7" fill="none" stroke="#2838c8" stroke-width="1"/>
<path d="M656,250.9 659.5,236.4 661.5,226.4 664.5,205.7 666.5,187.8 668,179.6 669.5,174.5 672,167.7 680,152.3 682.5,145.1 685,136.6" fill="none" stroke="#23b43a" stroke-width="1"/>
<path d="M656,250.9 659.5,236.4 661.5,226.4 664.5,205.7 666.5,187.8 668,179.6 672,167.3 677,156.9 679.5,150.5 682.5,139.6 685,128.5" fill="none" stroke="#e4151b" stroke-width="1"/>
<path d="M656,250.9 659.5,236.4 661.5,226.4 664,209.4 666.5,187.8 667.5,181.7 669,175.9 671.5,168.3 676.5,156.8 679.5,147.8 682.5,134.5 685,120.9" fill="none" stroke="#19bcd2" stroke-width="1"/>
<path d="M656,250.9 659.5,236.4 661.5,226.4 664,209.4 666.5,187.8 667.5,181.7 671.5,168 676,156.9 679,147.1 681.5,135.1 685,113.4" fill="none" stroke="#b52cc4" stroke-width="1"/>
<path d="M656,250.9 659.5,236.4 661.5,226.4 664,209.4 666.5,187.9 667.5,181.7 671,169.3 676,155.9 678.5,146.8 681,134 685,105.9" fill="none" stroke="#55cc22" stroke-width="1"/>
<path d="M656,250.9 659.5,236.4 661.5,226.4 664,209.4 666.5,187.9 667.5,181.7 672,165.8 676.5,152.9 679.5,139.4 682,122.5 685,97.8" fill="none" stroke="#f07f14" stroke-width="1"/>
<path d="M656,250.9 659.5,236.4 661.5,226.4 664,209.4 666.5,187.9 667.5,181.7 672,165.4 676,153.5 678.5,142.1 681,125.7 685,89.6" fill="none" stroke="#d8c010" stroke-width="1"/>
</g>
<line x1="290.3" y1="312" x2="684.2" y2="312" stroke="#e8301c" stroke-width="1.2"/>
<line x1="299.3" y1="40.3" x2="299.3" y2="312.0" stroke="#ff0000" stroke-opacity="0.33" stroke-width="1"/>
<line x1="310.7" y1="40.3" x2="310.7" y2="312.0" stroke="#ff0000" stroke-opacity="0.50" stroke-width="1"/>
<rect x="392.5" y="40.3" width="2.9" height="271.7" fill="#ff0000" fill-opacity="0.25"/>
<line x1="392.5" y1="40.3" x2="392.5" y2="312.0" stroke="#ff0000" stroke-opacity="0.38" stroke-width="1"/>
<line x1="395.4" y1="40.3" x2="395.4" y2="312.0" stroke="#ff0000" stroke-opacity="0.38" stroke-width="1"/>
<line x1="464.3" y1="40.3" x2="464.3" y2="312.0" stroke="#ff0000" stroke-opacity="0.42" stroke-width="1"/>
<rect x="564.4" y="40.3" width="3.2" height="271.7" fill="#ff0000" fill-opacity="0.25"/>
<line x1="564.4" y1="40.3" x2="564.4" y2="312.0" stroke="#ff0000" stroke-opacity="0.38" stroke-width="1"/>
<line x1="567.6" y1="40.3" x2="567.6" y2="312.0" stroke="#ff0000" stroke-opacity="0.38" stroke-width="1"/>
<line x1="573.7" y1="40.3" x2="573.7" y2="312.0" stroke="#ff0000" stroke-opacity="0.40" stroke-width="1"/>
<rect x="594.3" y="40.3" width="3.0" height="271.7" fill="#ff0000" fill-opacity="0.25"/>
<line x1="594.3" y1="40.3" x2="594.3" y2="312.0" stroke="#ff0000" stroke-opacity="0.40" stroke-width="1"/>
<line x1="595.8" y1="40.3" x2="595.8" y2="312.0" stroke="#ff0000" stroke-opacity="0.15" stroke-width="1"/>
<line x1="597.3" y1="40.3" x2="597.3" y2="312.0" stroke="#ff0000" stroke-opacity="0.40" stroke-width="1"/>
<text x="487" y="340.6" text-anchor="middle" class="lb">wavelength</text>
<text transform="translate(267.9,175.8) rotate(-90)" text-anchor="middle" class="lb">intensity</text>
</svg>
</body></html>
